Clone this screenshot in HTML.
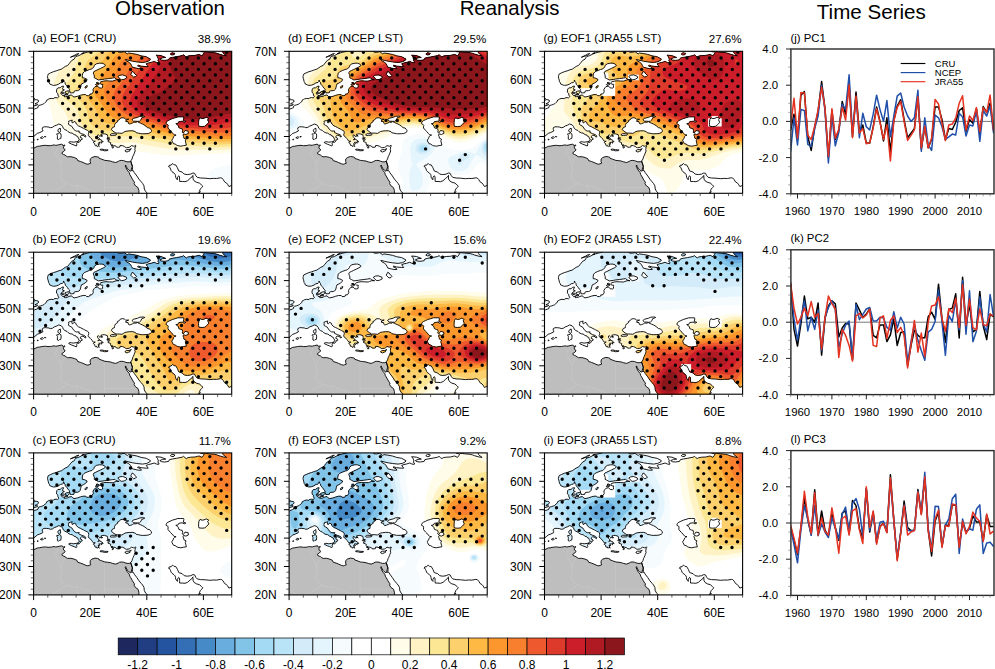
<!DOCTYPE html>
<html><head><meta charset="utf-8"><style>html,body{margin:0;padding:0;background:#fff}svg{display:block}text{font-family:"Liberation Sans",sans-serif;fill:#000}</style></head><body>
<svg width="995" height="669" viewBox="0 0 995 669">
<rect width="995" height="669" fill="#fff"/>
<defs>
<clipPath id="frame"><rect x="0" y="0" width="198.1" height="142.0"/></clipPath>
<clipPath id="land"><path clip-rule="evenodd" d="M-17.0,96.6 -15.0,96.3 -12.5,94.6 -6.8,94.3 -5.9,94.4 -4.5,92.6 -2.7,92.0 -2.0,91.9 -1.3,89.9 0.7,88.8 -0.8,86.8 0.0,85.3 2.4,83.2 3.7,82.1 6.2,81.2 9.1,79.8 9.3,78.7 8.6,78.1 8.8,76.4 10.5,75.5 12.7,75.5 15.3,75.8 16.7,76.4 18.7,76.1 20.7,74.7 23.2,73.8 25.2,72.7 27.7,73.6 29.1,75.3 29.7,77.0 31.4,78.4 33.4,79.2 34.5,80.4 36.8,81.6 38.5,81.8 40.2,82.9 40.6,83.5 41.9,83.4 42.5,84.6 44.1,85.1 44.7,86.6 45.6,88.0 45.8,88.8 44.9,89.0 44.3,90.3 44.4,91.0 45.6,91.0 46.8,89.7 47.0,88.6 48.7,88.0 48.4,86.9 46.7,86.1 47.0,84.9 48.1,83.8 50.7,84.5 50.9,85.3 51.9,85.8 52.4,84.8 50.9,83.4 48.1,82.4 45.3,81.1 45.0,80.7 45.8,79.8 44.1,79.7 42.7,79.8 41.6,79.2 40.2,78.1 39.3,76.7 38.2,75.0 36.5,74.1 35.1,73.3 34.8,71.6 35.4,71.0 34.8,70.1 37.1,69.2 38.8,68.9 38.2,69.6 38.5,71.4 39.3,71.6 40.5,70.1 42.2,71.0 42.7,72.7 45.0,74.7 46.6,75.3 48.4,76.3 49.8,77.0 51.2,77.7 52.4,78.4 54.1,79.2 54.9,79.9 55.2,81.5 54.9,82.6 54.6,83.5 55.0,83.9 54.6,84.3 56.3,85.5 56.6,86.1 57.3,86.9 58.6,88.0 58.7,88.5 59.7,89.9 61.7,89.9 60.3,90.5 59.7,91.4 61.0,92.2 61.4,94.1 62.0,94.4 62.7,93.9 63.3,95.1 63.7,95.4 64.5,94.3 65.7,95.3 65.2,94.3 64.5,92.3 65.7,92.9 66.5,92.4 65.1,91.2 66.8,90.9 68.1,91.9 67.9,90.3 69.6,90.6 68.5,89.2 66.2,88.0 64.2,88.6 64.8,88.0 65.4,87.2 65.9,87.5 64.8,86.3 64.0,85.2 64.0,83.8 64.8,83.5 65.9,84.5 66.2,85.3 67.1,84.5 67.9,85.2 67.6,84.1 69.1,84.8 67.6,83.6 67.2,83.1 69.1,82.6 70.8,82.5 73.7,83.4 74.1,85.1 74.1,85.3 73.9,86.6 76.1,86.5 75.6,87.2 76.1,88.3 75.8,88.9 74.4,89.2 74.4,90.3 76.4,91.0 77.1,91.3 77.0,92.7 77.5,93.7 79.2,93.7 77.5,94.6 79.5,94.6 80.1,94.3 81.8,94.6 82.4,94.9 82.9,95.8 84.9,96.0 86.3,95.7 86.6,94.1 88.9,94.4 90.6,95.1 92.3,96.3 93.0,96.4 95.4,96.1 96.2,95.7 97.9,94.3 99.9,94.9 100.7,94.9 101.9,94.0 102.4,94.9 101.3,95.7 101.6,96.8 101.2,98.0 101.6,99.7 100.7,101.7 100.5,102.5 99.6,104.5 99.0,105.6 98.5,107.6 97.6,109.1 97.1,109.8 98.8,115.0 99.0,116.4 98.8,118.4 97.9,119.4 99.6,119.3 100.7,121.3 103.3,124.7 105.3,127.8 107.5,130.4 109.0,132.1 110.4,134.6 110.7,137.7 112.1,140.3 114.0,142.0 116.0,144.6 118.9,150.5 124.5,164.7 147.2,156.2 156.2,149.1 163.6,144.8 165.0,142.0 165.8,140.0 166.7,137.7 168.1,136.3 169.2,134.9 167.8,133.5 165.8,131.8 162.7,130.9 160.5,129.5 159.5,127.8 159.3,124.4 159.6,124.0 158.8,124.7 158.5,125.5 156.5,127.1 154.0,129.4 151.4,130.4 148.9,130.2 146.0,130.1 146.0,128.9 146.0,127.8 145.9,125.2 145.0,124.5 143.8,126.4 143.8,128.5 143.1,127.8 142.1,126.1 141.9,124.4 141.5,123.0 140.4,121.8 138.4,120.4 137.5,119.3 137.0,117.7 136.3,116.4 135.7,115.3 135.0,115.4 135.8,113.9 137.5,113.9 138.4,112.6 139.2,112.3 140.4,113.5 142.1,113.6 143.8,116.4 145.2,119.7 148.6,120.8 150.6,122.8 153.7,123.3 157.1,122.8 159.3,121.7 161.0,122.0 162.2,124.4 163.6,126.0 167.0,126.7 171.5,126.9 176.3,127.4 179.7,127.1 182.8,127.2 186.8,126.5 188.2,126.7 189.6,128.2 191.0,130.6 193.0,131.8 193.9,132.9 195.3,135.2 198.9,133.8 200.9,139.2 215.1,139.2 215.1,-17.0 189.3,-17.0 189.0,-0.9 189.3,1.4 191.0,3.1 193.0,4.5 189.6,4.0 185.4,2.8 183.4,2.0 181.1,1.4 175.5,0.9 171.8,0.4 170.4,1.1 169.8,2.6 168.4,4.5 165.6,3.1 164.1,3.4 161.3,4.1 157.1,4.3 154.2,4.8 152.8,5.7 151.4,4.8 150.0,3.4 148.6,4.3 142.9,5.4 138.7,6.1 135.8,6.8 135.0,8.5 131.0,9.1 127.9,8.8 126.2,7.7 129.0,6.5 132.2,6.2 127.4,4.3 122.5,3.8 124.0,5.7 124.8,8.0 124.2,9.4 125.4,10.1 125.1,11.5 122.8,11.1 120.6,10.1 117.4,11.1 114.9,11.6 112.6,12.5 113.8,14.2 114.6,15.3 112.6,15.3 107.5,14.8 104.7,13.9 103.9,14.5 107.0,15.9 107.8,17.3 104.7,17.3 102.4,16.8 98.8,15.9 97.9,14.2 97.1,12.5 95.1,10.8 92.5,9.4 91.7,8.1 95.4,9.1 99.0,9.9 103.3,10.6 109.0,11.2 113.2,10.5 116.0,9.1 116.9,7.8 112.6,5.4 107.5,4.5 103.3,3.1 99.0,2.3 94.8,1.7 93.7,2.6 90.6,0.4 87.7,1.0 84.9,0.9 84.1,0.1 84.1,-1.7 59.4,-1.7 58.0,0.0 53.8,0.9 50.9,1.7 48.1,2.8 45.3,4.3 42.5,5.1 41.0,6.8 40.8,7.7 38.2,9.1 36.8,10.8 35.4,12.5 34.0,14.2 31.7,15.1 29.7,16.5 27.7,17.9 25.5,18.5 22.6,19.6 19.8,20.4 17.0,21.6 14.7,22.7 14.2,24.1 13.9,25.6 14.2,27.0 14.7,28.7 15.0,30.4 15.8,31.5 16.1,32.7 18.7,33.8 19.8,34.1 22.6,33.8 24.9,32.9 26.9,31.5 28.9,31.2 29.7,30.4 30.0,28.8 30.6,30.4 31.4,31.2 31.7,32.9 33.1,34.4 33.7,35.2 34.8,36.9 36.2,38.1 35.7,39.0 36.5,40.6 36.8,41.0 36.5,41.5 37.9,41.6 40.2,41.5 40.5,40.0 41.6,39.5 44.1,39.3 45.3,38.9 46.4,37.8 47.0,35.8 47.3,34.4 47.8,32.7 49.8,31.8 51.5,30.7 53.2,29.3 53.5,28.1 50.7,26.7 48.7,26.4 48.7,24.1 49.2,21.9 50.7,20.4 53.2,19.3 56.0,18.2 58.3,17.6 60.3,15.6 60.6,14.2 62.8,12.5 65.9,11.9 68.5,11.9 70.8,12.8 71.9,14.2 69.9,15.6 67.1,17.0 64.5,18.2 62.3,19.3 60.3,20.2 59.7,21.6 60.3,23.3 60.8,24.7 60.6,26.4 62.3,27.3 64.8,28.7 69.3,28.1 70.8,27.8 75.0,27.3 78.7,26.8 81.2,26.4 82.6,27.8 84.9,28.4 85.5,28.5 82.6,28.5 80.4,29.3 79.2,29.8 75.8,29.7 72.4,29.5 69.9,29.8 67.4,30.4 66.5,31.2 66.5,32.1 67.4,32.9 69.3,33.1 68.9,34.4 69.1,36.1 67.9,36.8 65.7,36.6 64.0,34.8 61.4,35.4 60.6,36.4 59.4,38.1 59.6,39.8 59.7,40.6 58.3,42.6 56.3,42.7 56.3,43.7 54.9,44.4 52.9,44.3 52.1,43.3 49.5,43.3 46.7,44.0 43.9,45.0 40.5,45.7 39.1,45.0 37.9,43.6 35.4,44.2 34.0,45.0 31.7,45.4 30.6,45.4 31.4,44.3 28.9,44.2 28.0,43.2 27.2,42.0 27.7,41.0 28.9,39.5 30.8,38.6 29.1,38.1 29.1,36.9 29.9,35.5 30.0,34.8 28.0,35.2 26.6,36.5 24.3,36.6 23.2,37.8 22.9,39.8 22.9,41.0 24.3,42.3 24.3,43.7 25.2,45.2 24.9,45.9 24.1,46.6 22.6,46.3 20.4,46.6 19.8,47.4 17.5,47.1 15.3,47.6 14.2,48.3 13.3,48.6 12.7,50.3 11.6,51.1 10.2,52.5 9.1,53.0 7.1,53.7 5.4,54.1 4.5,54.8 4.5,56.2 3.1,56.9 0.8,57.7 0.3,58.2 -0.8,58.8 -3.4,58.6 -3.7,57.7 -17.0,59.6ZM82.4,81.8 79.2,79.8 77.8,78.1 79.0,76.1 80.9,75.5 80.9,74.4 81.1,73.3 82.1,71.6 84.1,70.4 83.8,69.3 85.5,68.6 87.0,66.7 89.1,66.5 90.6,66.7 92.0,67.9 93.4,67.9 95.1,67.9 92.8,68.7 92.0,70.0 94.5,70.4 94.8,72.1 95.5,72.7 97.1,72.4 99.0,71.6 100.2,70.9 103.0,70.9 103.6,70.0 101.9,69.9 99.9,69.9 98.6,68.6 99.0,67.6 100.2,67.0 104.1,66.0 106.3,65.0 110.1,64.8 111.2,65.2 109.2,66.2 108.4,66.2 107.5,68.0 106.7,69.2 105.8,70.1 104.1,69.9 103.9,70.4 104.4,70.7 105.6,71.3 107.0,71.9 109.0,72.8 110.5,73.6 112.4,75.0 114.0,76.4 116.0,76.7 117.4,78.4 117.9,79.1 117.7,80.5 116.9,81.2 114.6,82.2 112.4,82.4 108.7,82.5 107.3,82.4 104.7,81.8 102.7,81.5 101.9,80.4 99.3,79.5 96.2,79.5 93.4,79.8 91.4,80.2 90.0,81.1 88.3,82.1 85.7,81.8 83.8,81.8ZM76.4,83.5 78.1,82.4 80.9,82.4 83.2,82.9 82.1,83.9 79.2,84.1 77.5,84.2ZM134.4,69.3 136.4,68.4 138.7,67.3 141.5,66.5 144.3,65.6 146.9,65.6 150.0,65.6 150.3,66.7 149.7,69.3 152.3,70.1 150.6,71.0 148.6,69.9 145.2,70.4 144.3,72.1 142.2,72.4 143.8,73.3 144.9,74.8 145.2,76.4 147.2,77.2 148.6,77.5 149.1,79.5 148.6,80.9 149.7,81.8 151.4,79.2 154.5,79.8 154.8,82.1 152.3,83.2 150.0,82.6 149.4,83.8 150.0,85.2 150.3,86.9 152.5,88.0 151.7,89.5 152.5,92.7 152.8,93.9 150.0,94.3 147.2,94.9 144.3,94.4 143.3,94.0 141.5,92.7 139.9,92.4 138.4,89.7 138.2,88.8 139.5,87.0 140.1,85.2 141.2,84.2 142.5,83.8 140.5,83.5 139.2,82.1 137.5,80.1 136.7,79.4 134.4,76.7 134.4,75.0 134.7,74.1 134.1,73.3 132.4,72.4 132.4,71.9 133.0,70.4ZM165.3,68.4 165.0,71.0 165.0,73.3 165.3,75.0 168.4,75.3 171.2,75.0 173.2,73.3 175.2,71.0 174.0,68.4 175.2,67.3 172.6,66.0 170.4,67.0 168.4,67.3 166.4,66.5ZM87.7,28.5 90.6,28.0 93.1,26.7 92.8,25.0 89.1,23.6 86.3,23.9 84.3,25.0 85.5,26.7ZM99.9,25.8 101.9,25.3 103.0,24.1 101.3,22.7 99.9,20.7 98.5,20.2 97.9,21.6 97.1,23.0 98.8,24.7ZM-8.5,55.4 0.0,54.7 2.8,54.1 4.0,53.5 4.1,52.9 2.5,52.8 1.4,52.6 2.7,51.8 3.7,51.4 4.5,50.8 5.0,49.7 4.5,48.8 2.8,48.4 1.4,48.4 0.8,48.8 0.1,48.6 1.0,47.7 0.3,46.7 -0.3,46.3 -8.5,45.4ZM26.6,76.7 27.0,79.0 26.6,80.7 26.0,81.3 24.9,80.8 24.3,79.5 24.3,78.4 25.5,77.5 26.5,77.0ZM26.0,81.6 27.3,82.6 27.6,84.6 27.2,87.2 25.8,87.5 25.0,88.3 23.8,87.8 23.8,85.5 23.9,84.3 23.1,83.2 23.2,82.5 24.6,82.6ZM44.3,90.2 43.0,92.3 43.3,93.6 42.7,94.7 40.5,93.7 38.2,92.9 35.2,91.4 35.4,90.7 36.1,90.5 37.8,90.5 39.6,90.9 42.5,90.5ZM66.6,98.0 68.2,97.8 71.0,98.4 72.9,98.5 74.4,98.5 74.1,99.3 70.8,99.5 69.1,99.0 66.6,98.7ZM91.4,99.3 93.1,98.3 95.4,98.3 97.8,97.4 96.1,98.7 96.4,99.5 95.1,100.0 93.4,100.7 91.7,100.1ZM51.5,36.9 53.2,36.1 53.8,34.4 52.6,34.5 51.4,35.8ZM31.4,40.6 33.1,39.9 35.1,39.5 35.7,40.6 34.8,42.0 34.0,42.7 32.3,42.0 31.4,41.6ZM27.7,41.2 29.7,40.9 30.7,41.7 30.0,42.5 28.3,42.3ZM31.1,43.2 33.7,42.7 34.5,43.3 32.8,43.7ZM61.8,33.2 63.7,32.2 65.9,32.5 64.8,33.4 62.5,34.1ZM62.5,31.5 64.0,31.1 65.1,31.7 63.7,32.1ZM78.4,96.1 79.8,95.3 79.9,96.3 78.7,96.8ZM73.2,87.5 74.7,86.9 75.3,87.9 73.6,88.0ZM6.7,86.5 8.8,85.3 9.8,86.1 8.8,87.2 7.4,86.8ZM10.8,85.2 12.2,85.3 11.9,85.7 10.9,85.5ZM3.4,88.2 4.5,87.8 4.5,88.5 3.7,88.5ZM136.7,2.8 138.4,1.4 141.2,2.0 140.4,3.4 138.1,3.7ZM36.8,6.0 39.6,5.0 42.5,4.4 44.1,3.1 45.3,2.3 43.0,2.8 41.0,4.0 38.2,5.3ZM48.1,2.3 50.7,1.3 49.5,2.0ZM167.0,0.3 168.4,-1.1 170.6,-0.6 169.8,0.6ZM165.8,141.4 166.7,140.3 166.4,141.1Z"/></clipPath>
<g id="coast"><path d="M97.1,109.8 95.7,110.5 93.4,110.5 91.4,109.9 90.0,109.3 87.7,109.1 86.0,109.3 84.6,110.2 82.1,111.2 79.2,110.6 77.0,109.8 73.6,109.3 71.3,109.1 67.9,107.8 65.7,107.1 65.4,106.1 64.1,105.6 61.4,105.2 58.3,106.2 56.7,107.6 56.5,110.2 57.2,111.9 55.5,112.5 54.3,112.9 52.6,112.6 49.5,111.2 47.0,110.2 44.1,109.3 43.3,107.4 40.5,106.2 37.4,105.4 34.0,105.5 32.5,104.7 31.4,103.7 30.0,103.2 28.6,102.5 28.3,101.4 30.3,100.1 31.4,98.8 31.1,97.7 30.0,97.1 29.7,95.6 31.4,94.1 31.1,93.6 29.4,94.4 29.1,94.1 28.9,93.2 27.9,92.9 25.5,93.4 23.5,93.9 21.9,94.0 20.4,93.6 18.7,94.0 17.0,94.3 14.4,94.4 11.9,94.0 8.6,94.3 5.7,94.9 3.7,95.1 0.3,96.8 -1.7,97.4 -17.0,98.0 -17.0,164.7 118.9,164.7 107.5,156.2 106.1,146.3 105.3,142.0 105.3,139.2 104.4,136.3 101.9,134.6 100.5,132.3 101.0,130.9 100.5,130.6 98.8,127.8 97.1,124.7 96.2,123.3 95.7,121.4 94.2,119.6 93.1,118.1 92.4,116.4 91.6,114.7 92.1,113.7 92.5,115.0 94.0,117.6 95.1,118.7 96.9,120.0 97.5,119.0 98.1,116.7 98.8,115.0Z" fill="#bebebe" stroke="none"/><use href="#bord"/><path d="M-17.0,96.6 -15.0,96.3 -12.5,94.6 -6.8,94.3 -5.9,94.4 -4.5,92.6 -2.7,92.0 -2.0,91.9 -1.3,89.9 0.7,88.8 -0.8,86.8 0.0,85.3 2.4,83.2 3.7,82.1 6.2,81.2 9.1,79.8 9.3,78.7 8.6,78.1 8.8,76.4 10.5,75.5 12.7,75.5 15.3,75.8 16.7,76.4 18.7,76.1 20.7,74.7 23.2,73.8 25.2,72.7 27.7,73.6 29.1,75.3 29.7,77.0 31.4,78.4 33.4,79.2 34.5,80.4 36.8,81.6 38.5,81.8 40.2,82.9 40.6,83.5 41.9,83.4 42.5,84.6 44.1,85.1 44.7,86.6 45.6,88.0 45.8,88.8 44.9,89.0 44.3,90.3 44.4,91.0 45.6,91.0 46.8,89.7 47.0,88.6 48.7,88.0 48.4,86.9 46.7,86.1 47.0,84.9 48.1,83.8 50.7,84.5 50.9,85.3 51.9,85.8 52.4,84.8 50.9,83.4 48.1,82.4 45.3,81.1 45.0,80.7 45.8,79.8 44.1,79.7 42.7,79.8 41.6,79.2 40.2,78.1 39.3,76.7 38.2,75.0 36.5,74.1 35.1,73.3 34.8,71.6 35.4,71.0 34.8,70.1 37.1,69.2 38.8,68.9 38.2,69.6 38.5,71.4 39.3,71.6 40.5,70.1 42.2,71.0 42.7,72.7 45.0,74.7 46.6,75.3 48.4,76.3 49.8,77.0 51.2,77.7 52.4,78.4 54.1,79.2 54.9,79.9 55.2,81.5 54.9,82.6 54.6,83.5 55.0,83.9 54.6,84.3 56.3,85.5 56.6,86.1 57.3,86.9 58.6,88.0 58.7,88.5 59.7,89.9 61.7,89.9 60.3,90.5 59.7,91.4 61.0,92.2 61.4,94.1 62.0,94.4 62.7,93.9 63.3,95.1 63.7,95.4 64.5,94.3 65.7,95.3 65.2,94.3 64.5,92.3 65.7,92.9 66.5,92.4 65.1,91.2 66.8,90.9 68.1,91.9 67.9,90.3 69.6,90.6 68.5,89.2 66.2,88.0 64.2,88.6 64.8,88.0 65.4,87.2 65.9,87.5 64.8,86.3 64.0,85.2 64.0,83.8 64.8,83.5 65.9,84.5 66.2,85.3 67.1,84.5 67.9,85.2 67.6,84.1 69.1,84.8 67.6,83.6 67.2,83.1 69.1,82.6 70.8,82.5 73.7,83.4 74.1,85.1 74.1,85.3 73.9,86.6 76.1,86.5 75.6,87.2 76.1,88.3 75.8,88.9 74.4,89.2 74.4,90.3 76.4,91.0 77.1,91.3 77.0,92.7 77.5,93.7 79.2,93.7 77.5,94.6 79.5,94.6 80.1,94.3 81.8,94.6 82.4,94.9 82.9,95.8 84.9,96.0 86.3,95.7 86.6,94.1 88.9,94.4 90.6,95.1 92.3,96.3 93.0,96.4 95.4,96.1 96.2,95.7 97.9,94.3 99.9,94.9 100.7,94.9 101.9,94.0 102.4,94.9 101.3,95.7 101.6,96.8 101.2,98.0 101.6,99.7 100.7,101.7 100.5,102.5 99.6,104.5 99.0,105.6 98.5,107.6 97.6,109.1 97.1,109.8 98.8,115.0 99.0,116.4 98.8,118.4 97.9,119.4 99.6,119.3 100.7,121.3 103.3,124.7 105.3,127.8 107.5,130.4 109.0,132.1 110.4,134.6 110.7,137.7 112.1,140.3 114.0,142.0 116.0,144.6 118.9,150.5 124.5,164.7 147.2,156.2 156.2,149.1 163.6,144.8 165.0,142.0 165.8,140.0 166.7,137.7 168.1,136.3 169.2,134.9 167.8,133.5 165.8,131.8 162.7,130.9 160.5,129.5 159.5,127.8 159.3,124.4 159.6,124.0 158.8,124.7 158.5,125.5 156.5,127.1 154.0,129.4 151.4,130.4 148.9,130.2 146.0,130.1 146.0,128.9 146.0,127.8 145.9,125.2 145.0,124.5 143.8,126.4 143.8,128.5 143.1,127.8 142.1,126.1 141.9,124.4 141.5,123.0 140.4,121.8 138.4,120.4 137.5,119.3 137.0,117.7 136.3,116.4 135.7,115.3 135.0,115.4 135.8,113.9 137.5,113.9 138.4,112.6 139.2,112.3 140.4,113.5 142.1,113.6 143.8,116.4 145.2,119.7 148.6,120.8 150.6,122.8 153.7,123.3 157.1,122.8 159.3,121.7 161.0,122.0 162.2,124.4 163.6,126.0 167.0,126.7 171.5,126.9 176.3,127.4 179.7,127.1 182.8,127.2 186.8,126.5 188.2,126.7 189.6,128.2 191.0,130.6 193.0,131.8 193.9,132.9 195.3,135.2 198.9,133.8 200.9,139.2 215.1,139.2 215.1,-17.0 189.3,-17.0 189.0,-0.9 189.3,1.4 191.0,3.1 193.0,4.5 189.6,4.0 185.4,2.8 183.4,2.0 181.1,1.4 175.5,0.9 171.8,0.4 170.4,1.1 169.8,2.6 168.4,4.5 165.6,3.1 164.1,3.4 161.3,4.1 157.1,4.3 154.2,4.8 152.8,5.7 151.4,4.8 150.0,3.4 148.6,4.3 142.9,5.4 138.7,6.1 135.8,6.8 135.0,8.5 131.0,9.1 127.9,8.8 126.2,7.7 129.0,6.5 132.2,6.2 127.4,4.3 122.5,3.8 124.0,5.7 124.8,8.0 124.2,9.4 125.4,10.1 125.1,11.5 122.8,11.1 120.6,10.1 117.4,11.1 114.9,11.6 112.6,12.5 113.8,14.2 114.6,15.3 112.6,15.3 107.5,14.8 104.7,13.9 103.9,14.5 107.0,15.9 107.8,17.3 104.7,17.3 102.4,16.8 98.8,15.9 97.9,14.2 97.1,12.5 95.1,10.8 92.5,9.4 91.7,8.1 95.4,9.1 99.0,9.9 103.3,10.6 109.0,11.2 113.2,10.5 116.0,9.1 116.9,7.8 112.6,5.4 107.5,4.5 103.3,3.1 99.0,2.3 94.8,1.7 93.7,2.6 90.6,0.4 87.7,1.0 84.9,0.9 84.1,0.1 84.1,-1.7 59.4,-1.7 58.0,0.0 53.8,0.9 50.9,1.7 48.1,2.8 45.3,4.3 42.5,5.1 41.0,6.8 40.8,7.7 38.2,9.1 36.8,10.8 35.4,12.5 34.0,14.2 31.7,15.1 29.7,16.5 27.7,17.9 25.5,18.5 22.6,19.6 19.8,20.4 17.0,21.6 14.7,22.7 14.2,24.1 13.9,25.6 14.2,27.0 14.7,28.7 15.0,30.4 15.8,31.5 16.1,32.7 18.7,33.8 19.8,34.1 22.6,33.8 24.9,32.9 26.9,31.5 28.9,31.2 29.7,30.4 30.0,28.8 30.6,30.4 31.4,31.2 31.7,32.9 33.1,34.4 33.7,35.2 34.8,36.9 36.2,38.1 35.7,39.0 36.5,40.6 36.8,41.0 36.5,41.5 37.9,41.6 40.2,41.5 40.5,40.0 41.6,39.5 44.1,39.3 45.3,38.9 46.4,37.8 47.0,35.8 47.3,34.4 47.8,32.7 49.8,31.8 51.5,30.7 53.2,29.3 53.5,28.1 50.7,26.7 48.7,26.4 48.7,24.1 49.2,21.9 50.7,20.4 53.2,19.3 56.0,18.2 58.3,17.6 60.3,15.6 60.6,14.2 62.8,12.5 65.9,11.9 68.5,11.9 70.8,12.8 71.9,14.2 69.9,15.6 67.1,17.0 64.5,18.2 62.3,19.3 60.3,20.2 59.7,21.6 60.3,23.3 60.8,24.7 60.6,26.4 62.3,27.3 64.8,28.7 69.3,28.1 70.8,27.8 75.0,27.3 78.7,26.8 81.2,26.4 82.6,27.8 84.9,28.4 85.5,28.5 82.6,28.5 80.4,29.3 79.2,29.8 75.8,29.7 72.4,29.5 69.9,29.8 67.4,30.4 66.5,31.2 66.5,32.1 67.4,32.9 69.3,33.1 68.9,34.4 69.1,36.1 67.9,36.8 65.7,36.6 64.0,34.8 61.4,35.4 60.6,36.4 59.4,38.1 59.6,39.8 59.7,40.6 58.3,42.6 56.3,42.7 56.3,43.7 54.9,44.4 52.9,44.3 52.1,43.3 49.5,43.3 46.7,44.0 43.9,45.0 40.5,45.7 39.1,45.0 37.9,43.6 35.4,44.2 34.0,45.0 31.7,45.4 30.6,45.4 31.4,44.3 28.9,44.2 28.0,43.2 27.2,42.0 27.7,41.0 28.9,39.5 30.8,38.6 29.1,38.1 29.1,36.9 29.9,35.5 30.0,34.8 28.0,35.2 26.6,36.5 24.3,36.6 23.2,37.8 22.9,39.8 22.9,41.0 24.3,42.3 24.3,43.7 25.2,45.2 24.9,45.9 24.1,46.6 22.6,46.3 20.4,46.6 19.8,47.4 17.5,47.1 15.3,47.6 14.2,48.3 13.3,48.6 12.7,50.3 11.6,51.1 10.2,52.5 9.1,53.0 7.1,53.7 5.4,54.1 4.5,54.8 4.5,56.2 3.1,56.9 0.8,57.7 0.3,58.2 -0.8,58.8 -3.4,58.6 -3.7,57.7 -17.0,59.6ZM82.4,81.8 79.2,79.8 77.8,78.1 79.0,76.1 80.9,75.5 80.9,74.4 81.1,73.3 82.1,71.6 84.1,70.4 83.8,69.3 85.5,68.6 87.0,66.7 89.1,66.5 90.6,66.7 92.0,67.9 93.4,67.9 95.1,67.9 92.8,68.7 92.0,70.0 94.5,70.4 94.8,72.1 95.5,72.7 97.1,72.4 99.0,71.6 100.2,70.9 103.0,70.9 103.6,70.0 101.9,69.9 99.9,69.9 98.6,68.6 99.0,67.6 100.2,67.0 104.1,66.0 106.3,65.0 110.1,64.8 111.2,65.2 109.2,66.2 108.4,66.2 107.5,68.0 106.7,69.2 105.8,70.1 104.1,69.9 103.9,70.4 104.4,70.7 105.6,71.3 107.0,71.9 109.0,72.8 110.5,73.6 112.4,75.0 114.0,76.4 116.0,76.7 117.4,78.4 117.9,79.1 117.7,80.5 116.9,81.2 114.6,82.2 112.4,82.4 108.7,82.5 107.3,82.4 104.7,81.8 102.7,81.5 101.9,80.4 99.3,79.5 96.2,79.5 93.4,79.8 91.4,80.2 90.0,81.1 88.3,82.1 85.7,81.8 83.8,81.8ZM76.4,83.5 78.1,82.4 80.9,82.4 83.2,82.9 82.1,83.9 79.2,84.1 77.5,84.2ZM134.4,69.3 136.4,68.4 138.7,67.3 141.5,66.5 144.3,65.6 146.9,65.6 150.0,65.6 150.3,66.7 149.7,69.3 152.3,70.1 150.6,71.0 148.6,69.9 145.2,70.4 144.3,72.1 142.2,72.4 143.8,73.3 144.9,74.8 145.2,76.4 147.2,77.2 148.6,77.5 149.1,79.5 148.6,80.9 149.7,81.8 151.4,79.2 154.5,79.8 154.8,82.1 152.3,83.2 150.0,82.6 149.4,83.8 150.0,85.2 150.3,86.9 152.5,88.0 151.7,89.5 152.5,92.7 152.8,93.9 150.0,94.3 147.2,94.9 144.3,94.4 143.3,94.0 141.5,92.7 139.9,92.4 138.4,89.7 138.2,88.8 139.5,87.0 140.1,85.2 141.2,84.2 142.5,83.8 140.5,83.5 139.2,82.1 137.5,80.1 136.7,79.4 134.4,76.7 134.4,75.0 134.7,74.1 134.1,73.3 132.4,72.4 132.4,71.9 133.0,70.4ZM165.3,68.4 165.0,71.0 165.0,73.3 165.3,75.0 168.4,75.3 171.2,75.0 173.2,73.3 175.2,71.0 174.0,68.4 175.2,67.3 172.6,66.0 170.4,67.0 168.4,67.3 166.4,66.5ZM87.7,28.5 90.6,28.0 93.1,26.7 92.8,25.0 89.1,23.6 86.3,23.9 84.3,25.0 85.5,26.7ZM99.9,25.8 101.9,25.3 103.0,24.1 101.3,22.7 99.9,20.7 98.5,20.2 97.9,21.6 97.1,23.0 98.8,24.7ZM-8.5,55.4 0.0,54.7 2.8,54.1 4.0,53.5 4.1,52.9 2.5,52.8 1.4,52.6 2.7,51.8 3.7,51.4 4.5,50.8 5.0,49.7 4.5,48.8 2.8,48.4 1.4,48.4 0.8,48.8 0.1,48.6 1.0,47.7 0.3,46.7 -0.3,46.3 -8.5,45.4ZM26.6,76.7 27.0,79.0 26.6,80.7 26.0,81.3 24.9,80.8 24.3,79.5 24.3,78.4 25.5,77.5 26.5,77.0ZM26.0,81.6 27.3,82.6 27.6,84.6 27.2,87.2 25.8,87.5 25.0,88.3 23.8,87.8 23.8,85.5 23.9,84.3 23.1,83.2 23.2,82.5 24.6,82.6ZM44.3,90.2 43.0,92.3 43.3,93.6 42.7,94.7 40.5,93.7 38.2,92.9 35.2,91.4 35.4,90.7 36.1,90.5 37.8,90.5 39.6,90.9 42.5,90.5ZM66.6,98.0 68.2,97.8 71.0,98.4 72.9,98.5 74.4,98.5 74.1,99.3 70.8,99.5 69.1,99.0 66.6,98.7ZM91.4,99.3 93.1,98.3 95.4,98.3 97.8,97.4 96.1,98.7 96.4,99.5 95.1,100.0 93.4,100.7 91.7,100.1ZM51.5,36.9 53.2,36.1 53.8,34.4 52.6,34.5 51.4,35.8ZM31.4,40.6 33.1,39.9 35.1,39.5 35.7,40.6 34.8,42.0 34.0,42.7 32.3,42.0 31.4,41.6ZM27.7,41.2 29.7,40.9 30.7,41.7 30.0,42.5 28.3,42.3ZM31.1,43.2 33.7,42.7 34.5,43.3 32.8,43.7ZM61.8,33.2 63.7,32.2 65.9,32.5 64.8,33.4 62.5,34.1ZM62.5,31.5 64.0,31.1 65.1,31.7 63.7,32.1ZM78.4,96.1 79.8,95.3 79.9,96.3 78.7,96.8ZM73.2,87.5 74.7,86.9 75.3,87.9 73.6,88.0ZM6.7,86.5 8.8,85.3 9.8,86.1 8.8,87.2 7.4,86.8ZM10.8,85.2 12.2,85.3 11.9,85.7 10.9,85.5ZM3.4,88.2 4.5,87.8 4.5,88.5 3.7,88.5ZM136.7,2.8 138.4,1.4 141.2,2.0 140.4,3.4 138.1,3.7ZM36.8,6.0 39.6,5.0 42.5,4.4 44.1,3.1 45.3,2.3 43.0,2.8 41.0,4.0 38.2,5.3ZM48.1,2.3 50.7,1.3 49.5,2.0ZM167.0,0.3 168.4,-1.1 170.6,-0.6 169.8,0.6ZM165.8,141.4 166.7,140.3 166.4,141.1ZM97.1,109.8 95.7,110.5 93.4,110.5 91.4,109.9 90.0,109.3 87.7,109.1 86.0,109.3 84.6,110.2 82.1,111.2 79.2,110.6 77.0,109.8 73.6,109.3 71.3,109.1 67.9,107.8 65.7,107.1 65.4,106.1 64.1,105.6 61.4,105.2 58.3,106.2 56.7,107.6 56.5,110.2 57.2,111.9 55.5,112.5 54.3,112.9 52.6,112.6 49.5,111.2 47.0,110.2 44.1,109.3 43.3,107.4 40.5,106.2 37.4,105.4 34.0,105.5 32.5,104.7 31.4,103.7 30.0,103.2 28.6,102.5 28.3,101.4 30.3,100.1 31.4,98.8 31.1,97.7 30.0,97.1 29.7,95.6 31.4,94.1 31.1,93.6 29.4,94.4 29.1,94.1 28.9,93.2 27.9,92.9 25.5,93.4 23.5,93.9 21.9,94.0 20.4,93.6 18.7,94.0 17.0,94.3 14.4,94.4 11.9,94.0 8.6,94.3 5.7,94.9 3.7,95.1 0.3,96.8 -1.7,97.4 -17.0,98.0 -17.0,164.7 118.9,164.7 107.5,156.2 106.1,146.3 105.3,142.0 105.3,139.2 104.4,136.3 101.9,134.6 100.5,132.3 101.0,130.9 100.5,130.6 98.8,127.8 97.1,124.7 96.2,123.3 95.7,121.4 94.2,119.6 93.1,118.1 92.4,116.4 91.6,114.7 92.1,113.7 92.5,115.0 94.0,117.6 95.1,118.7 96.9,120.0 97.5,119.0 98.1,116.7 98.8,115.0Z" fill="none" stroke="#000" stroke-width="0.9" stroke-linejoin="round"/></g>
<g id="bord"><path d="M70.8,109.1 70.8,144.8" fill="none" stroke="#c9c9c9" stroke-width="0.6"/><path d="M70.8,136.3 104.4,136.3" fill="none" stroke="#c9c9c9" stroke-width="0.6"/><path d="M32.5,104.7 29.1,108.5 28.3,112.2 26.9,113.0" fill="none" stroke="#c9c9c9" stroke-width="0.6"/><path d="M24.3,94.0 23.5,98.0 21.2,102.2 25.5,107.9 26.9,113.0" fill="none" stroke="#c9c9c9" stroke-width="0.6"/><path d="M26.9,113.0 28.0,119.3 26.6,124.4 28.3,129.2 33.7,132.1" fill="none" stroke="#c9c9c9" stroke-width="0.6"/><path d="M33.7,132.1 40.2,134.6 42.5,133.5 67.9,143.4" fill="none" stroke="#c9c9c9" stroke-width="0.6"/><path d="M33.7,132.1 21.2,139.7 11.9,144.6" fill="none" stroke="#c9c9c9" stroke-width="0.6"/><path d="M9.1,142.6 3.4,138.9 -13.6,127.8" fill="none" stroke="#c9c9c9" stroke-width="0.6"/><path d="M42.5,133.5 43.9,139.2 45.0,142.0" fill="none" stroke="#c9c9c9" stroke-width="0.6"/><path d="M96.8,109.9 98.8,115.0" fill="none" stroke="#c9c9c9" stroke-width="0.6"/></g>
</defs>
<g transform="translate(33.6,51.3)">
<g clip-path="url(#frame)">
<g clip-path="url(#land)"><path fill="#fffcea" fill-rule="evenodd" d="M130.6,103.7 138.7,104.3 145.7,104.2 162.7,103.2 184.0,102.4 192.4,101.8 198.1,101.1 200.9,101.1 200.9,-2.8 0.0,-2.8 0.0,0.0 -2.8,0.0 -2.8,14.2 0.0,14.2 1.3,19.9 2.9,24.1 4.5,27.0 8.5,32.8 9.9,35.5 11.6,39.8 14.8,51.1 17.1,58.2 18.1,62.5 19.5,69.6 20.8,73.8 22.0,76.7 24.1,80.3 25.6,82.4 28.3,85.2 31.1,87.2 34.0,88.6 38.2,90.2 45.3,92.6 52.4,94.3 70.8,97.7 77.8,98.8 83.5,99.3 97.6,99.3 101.9,99.6Z"/><path fill="#fff3c6" fill-rule="evenodd" d="M138.0,98.0 145.7,98.5 159.9,98.5 181.1,98.8 189.6,98.6 198.1,97.9 200.9,97.9 200.9,-2.8 28.3,-2.8 28.3,0.0 29.2,2.8 29.6,5.7 29.4,9.9 28.7,12.8 27.7,15.6 26.4,18.5 22.6,25.2 20.8,29.8 20.1,32.7 19.8,35.5 19.8,39.8 20.2,42.6 21.2,46.2 22.9,49.7 25.5,53.5 29.5,58.2 31.6,61.1 33.1,63.9 35.5,69.6 37.0,72.4 40.3,76.7 44.4,80.9 48.1,84.1 52.4,86.8 56.6,88.5 62.3,89.8 70.8,91.1 79.2,91.7 84.9,91.7 94.8,90.9 99.0,91.0 103.3,91.7 116.0,94.5Z"/><path fill="#fbe794" fill-rule="evenodd" d="M170.7,95.1 179.7,95.6 186.8,95.8 200.9,95.2 200.9,-2.8 56.6,-2.8 56.6,0.0 49.2,2.8 47.1,4.3 45.8,5.7 44.9,7.1 43.7,9.9 41.2,18.5 39.6,22.7 38.2,25.3 37.0,27.0 31.1,33.5 29.7,35.5 28.4,38.3 28.1,41.2 28.3,42.6 28.8,44.0 29.6,45.4 30.7,46.9 32.5,48.6 39.6,53.8 42.5,56.8 43.9,59.3 44.5,61.1 46.4,68.2 48.0,72.4 49.5,74.9 50.9,76.7 52.4,78.3 55.2,80.7 58.0,82.3 60.8,83.4 63.7,84.2 67.9,84.9 76.4,85.4 92.0,84.9 97.6,85.1 103.3,86.0 113.2,88.6 118.9,89.8 138.7,93.2 147.2,93.9Z"/><path fill="#fdd06e" fill-rule="evenodd" d="M174.1,92.3 186.8,93.1 192.4,93.0 198.1,92.7 200.9,92.7 200.9,-2.8 66.2,-2.8 66.2,0.0 65.1,1.2 62.3,3.6 56.6,7.1 54.9,8.5 53.7,9.9 52.4,12.2 51.6,14.2 49.2,24.1 48.3,27.0 47.0,29.8 43.1,36.9 42.3,39.8 42.2,41.2 42.5,42.6 43.0,44.0 43.9,45.4 50.3,54.0 52.1,56.8 53.3,59.6 55.4,68.2 56.6,71.0 58.7,73.8 60.8,75.7 62.5,76.7 65.1,77.8 67.9,78.5 70.8,79.0 75.0,79.2 87.7,79.3 94.8,80.0 100.5,80.8 106.1,81.9 121.7,85.9 130.2,87.7 138.7,89.1 147.2,90.1Z"/><path fill="#feb945" fill-rule="evenodd" d="M174.6,89.5 182.5,90.2 188.2,90.5 200.9,90.1 200.9,-2.8 76.8,-2.8 76.8,0.0 75.1,1.4 73.8,2.8 69.3,9.0 63.7,14.3 62.3,15.8 60.8,17.7 59.4,20.5 56.6,28.4 52.9,36.9 52.2,39.8 52.2,42.6 52.6,44.0 54.0,46.9 56.0,49.7 59.4,54.0 61.5,56.8 62.9,59.6 65.1,65.2 65.9,66.7 66.9,68.2 67.9,69.2 69.3,70.2 72.2,71.5 75.0,72.2 84.9,73.6 107.5,78.1 125.9,83.1 137.3,85.5 145.7,86.6Z"/><path fill="#fc972d" fill-rule="evenodd" d="M174.7,86.6 182.5,87.4 188.2,87.8 192.4,87.8 200.9,87.5 200.9,-2.8 92.6,-2.8 92.6,0.0 84.9,2.8 82.5,4.3 80.7,5.9 78.7,8.5 75.0,15.3 73.6,17.6 67.9,24.6 65.1,29.0 63.2,32.7 62.0,35.5 61.1,38.3 60.9,39.8 61.2,42.6 62.4,45.4 68.9,54.0 73.4,61.1 75.9,63.9 77.9,65.3 80.7,66.8 84.1,68.2 92.5,71.0 99.0,72.8 113.2,75.8 127.4,80.0 134.4,81.9 140.1,83.0 144.3,83.6Z"/><path fill="#f77f2d" fill-rule="evenodd" d="M175.4,83.8 184.0,84.6 189.6,84.9 200.9,84.5 200.9,-2.8 104.4,-2.8 104.4,0.0 99.0,3.9 90.0,8.5 88.0,9.9 86.6,11.4 84.9,14.2 82.4,21.3 81.1,24.1 79.1,27.0 74.9,31.2 72.6,34.1 71.1,36.9 70.5,39.8 70.5,41.2 71.2,44.0 73.9,49.7 78.1,56.8 80.4,59.6 82.1,61.2 84.9,63.2 88.7,65.3 92.0,66.8 96.2,68.4 101.9,70.0 114.6,72.9 130.2,77.8 135.8,79.3 140.1,80.2 145.7,81.0Z"/><path fill="#ee5a2d" fill-rule="evenodd" d="M178.9,80.9 189.6,81.3 198.1,80.8 200.9,80.8 200.9,-2.8 113.2,-2.8 113.2,0.0 99.0,14.2 96.5,17.0 94.5,19.9 90.9,27.0 89.3,29.8 87.1,32.7 83.3,36.9 81.2,39.8 80.6,41.2 80.2,42.6 80.0,44.0 80.3,46.9 81.0,49.7 82.2,52.5 83.8,55.4 84.9,56.8 87.8,59.6 90.6,61.6 94.6,63.9 99.0,65.8 104.7,67.6 118.5,71.0 133.0,75.7 137.3,76.9 142.9,78.1 148.6,78.7Z"/><path fill="#de3a2b" fill-rule="evenodd" d="M155.9,76.7 169.8,77.4 179.7,77.5 186.8,77.2 198.1,76.1 200.9,76.1 200.9,-2.8 120.6,-2.8 120.6,0.0 111.0,11.4 105.6,18.5 101.7,24.1 95.5,34.1 91.5,39.8 89.7,42.6 88.6,45.4 88.3,48.3 88.8,51.1 90.0,54.0 92.0,56.8 93.5,58.2 97.3,61.1 99.9,62.5 103.1,63.9 106.1,65.0 121.7,69.2 134.4,73.4 138.7,74.6 145.7,75.9Z"/><path fill="#cb1e2a" fill-rule="evenodd" d="M153.6,73.8 165.6,74.3 174.0,74.2 182.5,73.3 196.7,71.1 200.9,71.0 200.9,-2.8 127.4,-2.8 127.4,0.0 124.5,4.7 121.7,9.0 115.7,17.0 111.8,22.7 98.2,44.0 97.0,46.9 96.4,49.7 96.7,52.5 97.2,54.0 98.0,55.4 99.1,56.8 100.5,58.2 102.4,59.6 104.8,61.1 108.0,62.5 111.8,63.8 124.5,67.3 138.7,71.8 141.5,72.5 145.7,73.2Z"/><path fill="#b01a22" fill-rule="evenodd" d="M155.7,71.0 165.6,71.2 172.6,70.8 179.7,69.7 193.9,67.0 198.1,66.5 200.9,66.5 200.9,-2.8 133.9,-2.8 133.9,0.0 132.9,1.4 131.4,4.3 127.4,14.2 124.5,19.6 116.4,32.7 114.2,35.5 107.5,42.9 104.8,46.9 103.7,49.7 103.5,51.1 103.5,52.5 103.9,54.0 104.6,55.4 105.7,56.8 107.3,58.2 110.4,60.0 114.6,61.6 141.5,69.4 147.2,70.4Z"/><path fill="#8b161b" fill-rule="evenodd" d="M145.9,66.7 151.4,67.4 157.1,67.7 162.7,67.7 168.4,67.4 175.5,66.4 192.4,62.7 198.1,62.1 200.9,62.1 200.9,-2.8 141.5,-2.8 141.5,0.0 139.9,1.4 138.7,2.8 137.3,5.7 136.6,8.5 136.4,11.4 136.5,14.2 137.3,17.6 138.2,19.9 141.3,25.6 141.6,27.0 141.5,28.4 140.8,29.8 139.6,31.2 138.0,32.7 128.3,39.8 125.7,41.2 117.4,44.6 113.8,46.9 112.3,48.3 111.3,49.7 110.8,51.1 110.6,52.5 110.9,54.0 111.7,55.4 113.2,56.8 116.0,58.4 119.3,59.6 124.0,61.1 139.3,65.3Z"/><path fill="#f6fbfe" fill-rule="evenodd" d="M113.2,144.8 127.4,144.8 127.4,142.0 124.5,141.3 121.7,140.9 118.9,140.9 116.0,141.2 113.2,142.0ZM187.8,134.9 189.6,135.3 192.4,135.6 195.3,135.5 198.1,134.8 200.9,134.8 200.9,113.6 198.1,113.6 192.4,114.4 188.8,115.0 184.0,116.2 179.7,117.9 177.4,119.3 175.9,120.7 175.2,122.1 174.9,123.5 175.2,125.0 175.8,126.4 176.7,127.8 179.5,130.6 181.5,132.1 184.0,133.5Z"/></g>

<use href="#coast"/>
<path d="M57.3,1.0h0M68.6,1.0h0M79.9,1.0h0M193.1,1.0h0M63.0,6.7h0M74.3,6.7h0M85.6,6.7h0M96.9,6.7h0M108.2,6.7h0M142.2,6.7h0M153.5,6.7h0M164.8,6.7h0M176.2,6.7h0M187.5,6.7h0M46.0,12.4h0M57.3,12.4h0M79.9,12.4h0M91.3,12.4h0M125.2,12.4h0M136.5,12.4h0M147.9,12.4h0M159.2,12.4h0M170.5,12.4h0M181.8,12.4h0M193.1,12.4h0M40.3,18.1h0M51.6,18.1h0M74.3,18.1h0M85.6,18.1h0M96.9,18.1h0M108.2,18.1h0M119.6,18.1h0M130.9,18.1h0M142.2,18.1h0M153.5,18.1h0M164.8,18.1h0M176.2,18.1h0M187.5,18.1h0M34.7,23.7h0M46.0,23.7h0M68.6,23.7h0M79.9,23.7h0M113.9,23.7h0M125.2,23.7h0M136.5,23.7h0M147.9,23.7h0M159.2,23.7h0M170.5,23.7h0M181.8,23.7h0M193.1,23.7h0M29.0,29.4h0M40.3,29.4h0M51.6,29.4h0M85.6,29.4h0M96.9,29.4h0M108.2,29.4h0M119.6,29.4h0M130.9,29.4h0M142.2,29.4h0M153.5,29.4h0M164.8,29.4h0M176.2,29.4h0M187.5,29.4h0M34.7,35.1h0M46.0,35.1h0M79.9,35.1h0M91.3,35.1h0M102.6,35.1h0M113.9,35.1h0M125.2,35.1h0M136.5,35.1h0M147.9,35.1h0M159.2,35.1h0M170.5,35.1h0M181.8,35.1h0M193.1,35.1h0M63.0,40.8h0M74.3,40.8h0M85.6,40.8h0M96.9,40.8h0M108.2,40.8h0M119.6,40.8h0M130.9,40.8h0M142.2,40.8h0M153.5,40.8h0M164.8,40.8h0M176.2,40.8h0M187.5,40.8h0M34.7,46.5h0M46.0,46.5h0M57.3,46.5h0M68.6,46.5h0M79.9,46.5h0M91.3,46.5h0M102.6,46.5h0M113.9,46.5h0M125.2,46.5h0M136.5,46.5h0M147.9,46.5h0M159.2,46.5h0M170.5,46.5h0M181.8,46.5h0M193.1,46.5h0M29.0,52.1h0M40.3,52.1h0M51.6,52.1h0M63.0,52.1h0M74.3,52.1h0M85.6,52.1h0M96.9,52.1h0M108.2,52.1h0M119.6,52.1h0M130.9,52.1h0M142.2,52.1h0M153.5,52.1h0M164.8,52.1h0M176.2,52.1h0M187.5,52.1h0M34.7,57.8h0M46.0,57.8h0M57.3,57.8h0M68.6,57.8h0M79.9,57.8h0M91.3,57.8h0M102.6,57.8h0M113.9,57.8h0M125.2,57.8h0M136.5,57.8h0M147.9,57.8h0M159.2,57.8h0M170.5,57.8h0M181.8,57.8h0M193.1,57.8h0M40.3,63.5h0M51.6,63.5h0M63.0,63.5h0M74.3,63.5h0M85.6,63.5h0M96.9,63.5h0M108.2,63.5h0M119.6,63.5h0M130.9,63.5h0M142.2,63.5h0M153.5,63.5h0M164.8,63.5h0M176.2,63.5h0M187.5,63.5h0M46.0,69.2h0M57.3,69.2h0M68.6,69.2h0M79.9,69.2h0M113.9,69.2h0M125.2,69.2h0M159.2,69.2h0M181.8,69.2h0M193.1,69.2h0M51.6,74.9h0M63.0,74.9h0M74.3,74.9h0M119.6,74.9h0M130.9,74.9h0M153.5,74.9h0M176.2,74.9h0M187.5,74.9h0M57.3,80.5h0M68.6,80.5h0M125.2,80.5h0M136.5,80.5h0M159.2,80.5h0M170.5,80.5h0M181.8,80.5h0M193.1,80.5h0M63.0,86.2h0M85.6,86.2h0M96.9,86.2h0M108.2,86.2h0M119.6,86.2h0M130.9,86.2h0M153.5,86.2h0M164.8,86.2h0M176.2,86.2h0M187.5,86.2h0M136.5,91.9h0M159.2,91.9h0M170.5,91.9h0M181.8,91.9h0M176.2,97.6h0M142.2,97.6h0M153.5,97.6h0M14.9,29.4h0" stroke="#000" stroke-width="3.4" stroke-linecap="round" fill="none"/>
</g>
<rect x="0" y="0" width="198.1" height="142.0" fill="none" stroke="#000" stroke-width="1.1"/>
<path d="M-5.2,142.0h5.2M-5.2,113.6h5.2M-5.2,85.2h5.2M-5.2,56.8h5.2M-5.2,28.4h5.2M-5.2,0.0h5.2M0.0,142.0v5.2M56.6,142.0v5.2M113.2,142.0v5.2M169.8,142.0v5.2" stroke="#000" stroke-width="1" fill="none"/>
<path d="M-2.8,136.3h2.8M-2.8,130.6h2.8M-2.8,125.0h2.8M-2.8,119.3h2.8M-2.8,107.9h2.8M-2.8,102.2h2.8M-2.8,96.6h2.8M-2.8,90.9h2.8M-2.8,79.5h2.8M-2.8,73.8h2.8M-2.8,68.2h2.8M-2.8,62.5h2.8M-2.8,51.1h2.8M-2.8,45.4h2.8M-2.8,39.8h2.8M-2.8,34.1h2.8M-2.8,22.7h2.8M-2.8,17.0h2.8M-2.8,11.4h2.8M-2.8,5.7h2.8M14.2,142.0v2.8M28.3,142.0v2.8M42.5,142.0v2.8M70.8,142.0v2.8M84.9,142.0v2.8M99.0,142.0v2.8M127.4,142.0v2.8M141.5,142.0v2.8M155.7,142.0v2.8M184.0,142.0v2.8M198.1,142.0v2.8" stroke="#222" stroke-width="0.7" fill="none"/>
<text x="-12.5" y="146.5" font-size="12" text-anchor="end">20N</text>
<text x="-12.5" y="118.1" font-size="12" text-anchor="end">30N</text>
<text x="-12.5" y="89.7" font-size="12" text-anchor="end">40N</text>
<text x="-12.5" y="61.3" font-size="12" text-anchor="end">50N</text>
<text x="-12.5" y="32.9" font-size="12" text-anchor="end">60N</text>
<text x="-12.5" y="4.5" font-size="12" text-anchor="end">70N</text>
<text x="0.0" y="164.3" font-size="12" text-anchor="middle">0</text>
<text x="56.6" y="164.3" font-size="12" text-anchor="middle">20E</text>
<text x="113.2" y="164.3" font-size="12" text-anchor="middle">40E</text>
<text x="169.8" y="164.3" font-size="12" text-anchor="middle">60E</text>
<text x="-1.1" y="-9.2" font-size="11.6">(a) EOF1 (CRU)</text>
<text x="197.1" y="-7.9" font-size="11.6" text-anchor="end">38.9%</text>
</g>
<g transform="translate(289.1,51.3)">
<g clip-path="url(#frame)">
<g clip-path="url(#land)"><path fill="#fffcea" fill-rule="evenodd" d="M170.8,137.7 172.6,137.7 174.0,137.3 175.5,136.5 175.7,136.3 175.8,134.9 173.8,133.5 171.2,133.3 169.8,133.6 168.1,134.9 167.9,136.3 169.8,137.5ZM48.6,93.7 50.9,94.4 53.8,94.9 56.6,95.1 60.8,95.0 65.1,94.5 75.0,92.5 86.3,90.6 89.1,89.8 92.0,88.8 94.8,87.5 104.5,82.4 110.8,79.5 114.6,78.2 117.4,77.4 123.1,76.5 127.4,76.5 130.2,76.7 133.0,77.2 137.3,78.3 140.8,79.5 144.2,80.9 154.2,85.8 161.3,89.0 165.6,90.5 169.8,91.3 172.6,91.4 176.9,90.6 181.1,89.2 196.7,82.9 198.1,82.4 200.9,82.5 200.9,-2.8 28.3,-2.8 28.3,0.0 29.7,0.4 30.9,1.4 31.0,2.8 30.8,4.3 29.8,7.1 28.3,9.7 26.9,11.4 25.3,12.8 19.8,16.8 17.9,18.5 16.8,19.9 15.9,21.3 14.8,24.1 14.3,27.0 14.1,29.8 14.3,41.2 14.0,44.0 12.5,51.1 12.4,52.5 12.6,54.0 13.2,55.4 14.2,56.8 21.2,63.5 23.8,66.7 25.5,69.9 28.8,78.1 30.4,80.9 31.5,82.4 34.6,85.2 40.5,89.5 45.1,92.3Z"/><path fill="#fff3c6" fill-rule="evenodd" d="M51.6,90.9 53.8,91.5 56.6,91.9 59.4,91.8 63.7,91.2 73.6,88.2 84.9,85.2 99.0,80.6 111.8,76.1 116.0,75.0 121.7,74.1 125.9,74.0 128.8,74.2 133.0,75.0 135.8,75.7 141.5,77.7 152.8,82.8 159.9,85.7 165.6,87.4 169.8,88.0 174.0,87.9 178.3,87.0 186.8,84.2 198.1,79.9 200.9,79.9 200.9,-2.8 47.1,-2.8 47.1,0.0 41.0,2.8 38.9,4.3 36.8,6.6 32.9,12.8 31.1,15.0 29.1,17.0 24.1,21.1 22.6,22.5 21.3,24.1 20.4,25.6 19.3,28.4 18.6,32.7 18.5,36.9 18.6,48.3 19.0,51.1 19.9,54.0 21.7,56.8 25.2,61.1 26.9,63.5 28.6,66.7 31.8,73.8 34.0,77.3 37.4,80.9 44.2,86.6 48.1,89.3Z"/><path fill="#fbe794" fill-rule="evenodd" d="M53.4,88.0 55.2,88.5 58.0,88.8 62.3,88.2 66.5,86.9 72.2,84.7 86.3,79.5 90.6,78.5 99.0,77.0 110.7,73.8 114.6,72.9 117.4,72.4 121.7,71.9 125.9,71.9 128.8,72.1 134.4,73.3 141.5,75.7 151.4,80.2 157.1,82.4 162.7,84.1 168.4,85.1 172.6,85.2 178.3,84.3 182.5,83.1 189.6,80.8 193.9,79.2 198.1,77.3 200.9,77.3 200.9,-2.8 70.8,-2.8 70.8,0.0 72.2,0.1 73.6,0.7 74.2,1.4 73.8,2.8 72.7,4.3 70.8,5.8 69.3,6.4 67.9,6.7 66.5,6.8 65.1,6.4 63.7,5.7 62.6,4.3 62.3,2.8 63.2,1.4 63.7,1.2 66.5,0.4 70.7,0.0 70.7,-2.8 56.6,-2.8 56.6,0.0 54.4,1.4 46.7,5.0 43.5,7.1 40.9,9.9 37.5,15.6 35.4,18.6 32.5,21.3 28.3,24.4 25.6,27.0 24.1,29.6 23.4,31.2 22.9,34.1 22.6,36.9 22.7,39.8 23.0,44.0 23.5,46.9 24.3,49.7 25.6,52.5 29.2,58.2 30.7,61.1 34.1,69.6 35.5,72.4 36.8,74.3 38.7,76.7 46.5,83.8 50.3,86.6Z"/><path fill="#fdd06e" fill-rule="evenodd" d="M56.6,85.2 59.4,85.2 63.7,84.2 74.7,79.5 82.1,76.2 84.9,75.2 89.1,74.5 99.0,73.9 113.2,71.0 120.3,70.1 124.5,69.9 127.4,70.1 131.6,70.7 134.4,71.4 141.5,73.8 151.4,78.3 155.7,80.0 162.7,81.9 168.4,82.7 171.2,82.7 174.0,82.5 179.7,81.5 184.0,80.3 189.6,78.5 193.9,76.8 198.1,74.7 200.9,74.7 200.9,-2.8 94.6,-2.8 94.6,0.0 86.3,1.3 83.5,2.1 80.7,3.6 73.6,9.2 72.2,10.1 69.5,11.4 65.1,12.7 55.2,14.5 53.8,14.9 52.1,15.6 50.5,17.0 49.6,18.5 47.0,24.1 46.0,25.6 44.7,27.0 42.5,28.4 41.0,28.8 34.0,30.0 31.3,31.2 29.8,32.7 28.4,35.5 28.1,36.9 28.0,39.8 28.3,42.6 29.1,45.4 30.4,48.3 33.5,54.0 34.7,56.8 37.6,66.7 38.2,68.5 39.5,71.0 41.0,73.1 42.5,74.7 50.8,82.4 53.8,84.3Z"/><path fill="#feb945" fill-rule="evenodd" d="M56.9,79.5 59.4,79.9 60.8,79.8 63.7,79.2 70.9,76.7 80.7,72.2 84.9,71.0 87.7,70.8 99.0,71.0 103.3,70.5 114.6,68.8 120.3,68.3 124.5,68.2 127.4,68.3 130.2,68.7 134.4,69.5 137.3,70.4 141.5,71.9 151.4,76.5 155.7,78.1 161.3,79.6 167.0,80.4 172.6,80.3 175.5,80.0 179.7,79.2 185.4,77.6 189.6,76.2 193.9,74.4 198.1,72.2 200.9,72.2 200.9,-2.8 102.0,-2.8 102.0,0.0 97.6,1.4 87.7,3.7 84.9,4.8 83.5,5.6 73.6,12.6 70.8,14.2 63.7,17.6 60.4,19.9 57.8,22.7 53.8,28.9 50.9,32.6 43.3,41.2 41.8,44.0 41.3,46.9 41.4,49.7 42.3,55.4 42.9,62.5 43.5,65.3 44.1,66.7 45.3,68.9 47.1,71.0 53.8,77.5 55.2,78.6Z"/><path fill="#fc972d" fill-rule="evenodd" d="M164.8,78.1 168.4,78.3 172.6,78.1 179.7,76.9 185.4,75.4 189.6,73.9 193.9,72.0 198.1,69.9 200.9,69.9 200.9,-2.8 106.6,-2.8 106.6,0.0 99.0,3.0 90.1,5.7 86.3,7.2 83.5,8.8 75.8,14.2 67.9,18.7 64.2,21.3 61.4,24.1 59.5,27.0 52.9,38.3 51.5,41.2 51.0,42.6 50.7,44.0 50.6,46.9 51.3,49.7 51.9,51.1 53.8,53.8 57.9,58.2 59.4,60.3 60.7,62.5 62.4,66.7 63.7,69.0 65.1,70.3 66.5,71.0 67.9,71.2 70.8,71.0 79.1,68.2 83.5,67.3 87.7,67.3 96.2,68.1 100.5,68.2 118.9,66.6 123.1,66.5 127.4,66.6 133.0,67.4 137.3,68.5 141.5,70.0 151.4,74.6 155.7,76.2 159.9,77.4Z"/><path fill="#f77f2d" fill-rule="evenodd" d="M159.3,75.3 162.7,75.8 167.0,76.1 171.2,75.9 176.9,75.2 182.5,73.9 187.2,72.4 192.4,70.3 198.1,67.6 200.9,67.6 200.9,-2.8 111.0,-2.8 111.0,0.0 100.5,4.7 90.6,8.3 86.8,9.9 83.5,11.9 77.8,15.8 67.9,21.9 65.1,24.4 63.7,26.1 62.3,28.2 59.9,32.7 57.6,38.3 56.8,41.2 56.6,44.0 57.4,46.9 58.1,48.3 60.4,51.1 66.5,56.8 69.3,59.7 70.8,61.0 72.2,62.0 73.6,62.6 76.4,63.2 86.3,63.9 99.0,65.5 104.7,65.5 121.7,64.8 127.4,65.0 131.6,65.5 135.8,66.3 140.1,67.6 144.3,69.3 154.2,73.8Z"/><path fill="#ee5a2d" fill-rule="evenodd" d="M156.4,72.4 161.3,73.5 165.6,73.8 169.8,73.6 175.5,73.0 179.7,72.1 185.4,70.6 191.0,68.5 198.1,65.4 200.9,65.4 200.9,-2.8 115.6,-2.8 115.6,0.0 109.1,2.8 99.0,7.8 90.6,11.2 87.7,12.6 71.1,22.7 69.2,24.1 66.4,27.0 64.6,29.8 63.2,32.7 61.8,36.9 61.3,39.8 61.3,42.6 61.7,44.0 62.3,45.4 64.4,48.3 67.9,51.6 73.6,55.9 77.8,58.3 80.7,59.3 84.9,60.3 94.8,62.1 100.5,62.9 107.5,63.2 124.5,63.2 130.2,63.6 134.4,64.2 138.7,65.2 142.9,66.6 152.8,71.1Z"/><path fill="#de3a2b" fill-rule="evenodd" d="M161.3,71.0 164.1,71.2 168.4,71.1 172.6,70.7 176.9,70.0 181.1,69.0 186.8,67.4 198.1,63.2 200.9,63.2 200.9,1.5 198.1,1.5 194.9,0.0 194.9,-2.8 121.1,-2.8 121.1,0.0 117.1,1.4 113.2,3.1 99.0,10.7 89.1,15.3 73.7,24.1 71.7,25.6 69.3,27.8 67.8,29.8 66.5,32.7 65.6,35.5 65.2,38.3 65.5,41.2 65.9,42.6 66.6,44.0 68.8,46.9 73.6,50.9 77.8,53.7 82.1,55.8 84.9,56.8 90.6,58.2 97.9,59.6 103.3,60.5 110.4,61.1 127.4,61.6 133.0,62.2 137.3,62.9 140.1,63.5 144.3,64.8 155.7,69.7 158.5,70.5Z"/><path fill="#cb1e2a" fill-rule="evenodd" d="M156.5,66.7 159.9,67.6 164.1,68.0 168.4,67.8 172.6,67.4 178.3,66.5 184.0,65.2 189.6,63.6 198.1,60.8 200.9,60.8 200.9,4.9 198.1,4.9 189.3,0.0 189.3,-2.8 127.4,-2.8 127.4,0.0 119.2,2.8 113.2,5.6 100.5,13.4 87.5,19.9 76.4,25.9 73.6,27.9 72.2,29.3 70.8,31.2 70.1,32.7 69.3,35.5 69.2,38.3 70.0,41.2 70.7,42.6 73.1,45.4 76.5,48.3 80.7,51.0 84.9,53.1 87.7,54.1 92.8,55.4 101.9,57.4 107.5,58.5 114.6,59.2 131.6,60.2 140.1,61.3 142.9,61.9 147.2,63.1Z"/><path fill="#b01a22" fill-rule="evenodd" d="M157.1,62.5 161.3,63.2 164.1,63.5 168.4,63.4 175.5,62.9 181.1,62.2 186.8,61.1 198.1,58.3 200.9,58.3 200.9,8.7 198.1,8.7 189.6,3.7 185.4,1.0 184.0,0.0 184.0,-2.8 133.8,-2.8 133.8,0.0 121.7,4.5 118.8,5.7 114.6,7.9 111.3,9.9 103.3,15.8 99.0,18.6 94.8,20.9 82.2,27.0 79.2,28.6 77.6,29.8 76.1,31.2 75.0,32.7 74.4,34.1 74.1,35.5 74.0,36.9 74.3,38.3 75.0,40.2 76.6,42.6 79.2,45.1 82.1,47.2 84.9,48.8 89.1,50.6 106.1,55.4 111.8,56.6 117.4,57.3 134.4,58.4 141.5,59.1 148.6,60.3Z"/><path fill="#8b161b" fill-rule="evenodd" d="M155.6,56.8 168.4,57.8 178.3,58.0 186.8,57.3 192.4,56.4 198.1,55.1 200.9,55.1 200.9,13.2 198.1,13.2 186.8,6.3 182.5,3.4 178.2,0.0 178.2,-2.8 141.5,-2.8 141.5,0.0 135.8,2.4 123.3,7.1 117.7,9.9 113.6,12.8 104.7,20.3 100.5,23.6 96.2,26.1 89.0,29.8 84.9,32.3 83.0,34.1 82.2,35.5 81.9,36.9 82.1,38.3 82.7,39.8 83.6,41.2 84.9,42.6 86.7,44.0 89.1,45.4 92.3,46.9 106.1,51.9 110.4,53.3 116.0,54.5 123.1,55.3Z"/><path fill="#f6fbfe" fill-rule="evenodd" d="M108.4,144.8 134.6,144.8 134.6,142.0 136.6,140.6 137.7,139.2 138.4,137.7 139.5,134.9 141.5,127.8 142.9,124.6 144.3,122.5 145.7,121.0 147.2,119.9 148.6,119.2 150.0,118.9 151.4,119.0 152.8,119.5 157.5,122.1 161.3,123.4 164.1,123.8 167.0,123.9 172.6,123.7 176.9,122.9 179.2,122.1 181.1,121.1 182.5,120.0 184.0,118.6 187.7,113.6 189.6,112.1 191.0,111.7 192.4,111.5 193.9,111.7 195.3,112.1 198.1,113.6 200.9,113.6 200.9,86.6 198.1,86.3 195.3,87.3 192.0,89.5 188.2,92.7 184.0,95.9 182.5,96.8 181.1,97.3 177.4,98.0 169.8,98.8 167.0,98.9 164.1,98.5 159.9,97.1 155.7,94.6 144.2,86.6 141.5,85.2 137.3,83.7 134.4,83.2 131.6,82.8 128.8,82.8 125.9,83.0 121.7,84.0 118.9,85.1 117.4,86.0 116.5,86.6 115.1,88.0 114.2,89.5 113.7,90.9 113.3,93.7 113.3,98.0 112.9,100.8 112.0,103.7 109.5,109.3 108.8,112.2 108.7,115.0 109.2,117.9 113.2,127.8 113.8,130.6 113.9,133.5 113.4,136.3 112.7,137.7 111.6,139.2 108.4,142.0ZM-2.8,80.9 0.0,81.1 2.8,80.8 5.7,80.3 8.5,79.4 11.1,78.1 12.7,76.8 14.0,75.3 14.6,73.8 14.7,72.4 14.5,71.0 14.0,69.6 13.1,68.2 10.5,65.3 8.5,63.7 5.7,61.9 2.8,60.8 0.0,60.1 -2.8,60.2Z"/><path fill="#e5f5fd" fill-rule="evenodd" d="M123.5,139.2 124.5,139.4 125.9,139.4 127.4,139.2 128.8,138.7 130.2,137.9 131.6,136.5 132.6,134.9 133.5,132.1 133.7,127.8 133.0,123.3 131.6,119.8 130.2,117.7 127.8,115.0 127.4,113.6 128.4,112.2 138.7,105.7 141.5,103.5 143.8,100.8 145.1,98.0 145.2,96.6 144.9,95.1 144.3,93.7 142.9,91.6 141.5,90.3 140.1,89.3 138.7,88.6 135.8,87.7 133.0,87.3 130.2,87.5 127.8,88.0 125.9,88.8 124.5,89.6 123.1,90.9 122.2,92.3 121.3,95.1 121.0,98.0 121.3,103.7 121.9,107.9 123.0,112.2 123.0,113.6 121.7,116.3 121.2,117.9 120.6,120.7 120.3,125.0 120.4,130.6 120.7,133.5 121.2,136.3 121.7,137.7 123.1,139.0ZM165.8,119.3 168.4,119.9 171.2,119.9 174.3,119.3 177.1,117.9 178.8,116.4 179.9,115.0 182.8,109.3 186.8,103.7 188.2,104.1 193.9,107.1 198.1,109.8 200.9,109.8 200.9,88.3 198.1,87.8 196.7,88.2 194.6,89.5 193.0,90.9 191.9,92.3 190.1,95.1 188.6,98.0 186.8,102.2 185.4,102.5 185.2,102.2 181.6,100.8 179.7,100.4 178.3,100.2 175.5,100.2 174.0,100.4 171.2,101.2 167.0,103.1 162.7,104.7 161.3,105.4 160.1,106.5 159.4,107.9 159.2,109.3 159.3,110.8 160.0,113.6 161.3,116.0 162.7,117.5 164.1,118.5ZM-2.8,76.7 -2.8,77.9 0.0,78.1 2.8,77.5 5.7,76.3 7.2,75.3 8.4,73.8 9.1,72.4 9.2,71.0 9.0,69.6 8.3,68.2 7.2,66.7 5.7,65.3 4.2,64.4 2.8,63.7 0.0,62.8 -2.8,63.1Z"/><path fill="#d4ecfa" fill-rule="evenodd" d="M169.7,113.6 171.2,113.5 172.5,112.2 173.0,110.8 174.9,109.3 176.9,108.7 178.3,107.8 179.7,106.7 180.7,105.1 180.6,103.7 178.8,102.2 176.9,101.8 175.5,101.8 174.0,102.1 171.5,103.7 170.6,105.1 170.3,106.5 170.1,109.3 169.2,110.8 168.6,112.2ZM196.7,105.1 198.1,106.3 200.9,106.2 200.9,89.9 199.5,89.4 198.1,89.2 196.7,89.7 195.3,90.7 193.9,92.3 193.2,93.7 192.7,95.1 192.4,98.0 192.5,99.4 193.0,100.8 193.9,102.2ZM130.0,102.2 131.6,102.8 134.4,102.9 135.8,102.6 137.3,102.0 139.1,100.8 140.3,99.4 140.9,98.0 141.0,96.6 140.7,95.1 139.9,93.7 138.7,92.6 137.3,91.8 135.8,91.3 134.4,91.1 131.6,91.4 130.2,91.9 128.8,92.8 127.7,93.7 126.9,95.1 126.5,96.6 126.5,98.0 126.9,99.4 127.9,100.8 128.8,101.6ZM-2.8,73.8 -2.8,74.9 0.0,75.2 1.4,74.9 3.4,73.8 4.7,72.4 5.2,71.0 5.0,69.6 4.3,68.2 2.8,66.7 1.4,66.0 0.0,65.5 -2.8,65.9Z"/><path fill="#b9e4f8" fill-rule="evenodd" d="M197.6,102.2 198.1,102.7 200.9,102.4 200.9,91.6 199.5,90.8 198.1,90.6 196.7,91.3 195.6,92.3 194.8,93.7 194.4,95.1 194.4,96.6 194.6,98.0 195.2,99.4 196.2,100.8ZM133.2,100.8 134.4,100.9 135.8,100.5 137.7,99.4 138.6,98.0 138.8,96.6 138.2,95.1 137.3,94.2 135.8,93.4 134.4,93.2 133.0,93.3 131.6,93.7 129.9,95.1 129.3,96.6 129.4,98.0 130.2,99.4 131.6,100.4Z"/><path fill="#a5daf5" fill-rule="evenodd" d="M198.0,99.4 199.5,99.2 200.9,98.0 200.9,94.4 200.6,93.7 199.5,92.7 198.1,92.2 196.7,93.4 196.1,95.1 196.2,96.6 196.7,97.8ZM132.0,98.0 133.0,98.7 134.4,98.9 135.8,98.3 136.2,98.0 136.4,96.6 135.8,95.8 134.6,95.1 133.0,95.4 131.8,96.6Z"/></g>

<use href="#coast"/>
<path d="M63.0,1.0h0M74.3,1.0h0M46.0,6.7h0M57.3,6.7h0M68.6,6.7h0M79.9,6.7h0M91.3,6.7h0M102.6,6.7h0M125.2,6.7h0M147.9,6.7h0M159.2,6.7h0M170.5,6.7h0M181.8,6.7h0M193.1,6.7h0M40.3,12.4h0M51.6,12.4h0M74.3,12.4h0M85.6,12.4h0M119.6,12.4h0M130.9,12.4h0M142.2,12.4h0M153.5,12.4h0M164.8,12.4h0M176.2,12.4h0M187.5,12.4h0M46.0,18.1h0M68.6,18.1h0M79.9,18.1h0M91.3,18.1h0M102.6,18.1h0M113.9,18.1h0M125.2,18.1h0M136.5,18.1h0M147.9,18.1h0M159.2,18.1h0M170.5,18.1h0M181.8,18.1h0M193.1,18.1h0M40.3,23.7h0M63.0,23.7h0M74.3,23.7h0M108.2,23.7h0M119.6,23.7h0M130.9,23.7h0M142.2,23.7h0M153.5,23.7h0M164.8,23.7h0M176.2,23.7h0M187.5,23.7h0M34.7,29.4h0M46.0,29.4h0M91.3,29.4h0M102.6,29.4h0M113.9,29.4h0M125.2,29.4h0M136.5,29.4h0M147.9,29.4h0M159.2,29.4h0M170.5,29.4h0M181.8,29.4h0M193.1,29.4h0M40.3,35.1h0M74.3,35.1h0M85.6,35.1h0M96.9,35.1h0M108.2,35.1h0M119.6,35.1h0M130.9,35.1h0M142.2,35.1h0M153.5,35.1h0M164.8,35.1h0M176.2,35.1h0M187.5,35.1h0M34.7,40.8h0M68.6,40.8h0M79.9,40.8h0M91.3,40.8h0M102.6,40.8h0M113.9,40.8h0M125.2,40.8h0M136.5,40.8h0M147.9,40.8h0M159.2,40.8h0M170.5,40.8h0M181.8,40.8h0M193.1,40.8h0M29.0,46.5h0M40.3,46.5h0M51.6,46.5h0M63.0,46.5h0M74.3,46.5h0M85.6,46.5h0M96.9,46.5h0M108.2,46.5h0M119.6,46.5h0M130.9,46.5h0M142.2,46.5h0M153.5,46.5h0M164.8,46.5h0M176.2,46.5h0M187.5,46.5h0M34.7,52.1h0M46.0,52.1h0M57.3,52.1h0M68.6,52.1h0M79.9,52.1h0M91.3,52.1h0M102.6,52.1h0M113.9,52.1h0M125.2,52.1h0M136.5,52.1h0M147.9,52.1h0M159.2,52.1h0M170.5,52.1h0M181.8,52.1h0M193.1,52.1h0M29.0,57.8h0M40.3,57.8h0M51.6,57.8h0M63.0,57.8h0M74.3,57.8h0M85.6,57.8h0M96.9,57.8h0M108.2,57.8h0M119.6,57.8h0M130.9,57.8h0M142.2,57.8h0M153.5,57.8h0M164.8,57.8h0M176.2,57.8h0M187.5,57.8h0M34.7,63.5h0M46.0,63.5h0M57.3,63.5h0M68.6,63.5h0M79.9,63.5h0M91.3,63.5h0M102.6,63.5h0M113.9,63.5h0M125.2,63.5h0M136.5,63.5h0M147.9,63.5h0M159.2,63.5h0M170.5,63.5h0M181.8,63.5h0M193.1,63.5h0M40.3,69.2h0M51.6,69.2h0M63.0,69.2h0M74.3,69.2h0M96.9,69.2h0M108.2,69.2h0M119.6,69.2h0M130.9,69.2h0M153.5,69.2h0M176.2,69.2h0M187.5,69.2h0M57.3,74.9h0M68.6,74.9h0M79.9,74.9h0M147.9,74.9h0M159.2,74.9h0M181.8,74.9h0M193.1,74.9h0M63.0,80.5h0M74.3,80.5h0M164.8,80.5h0M176.2,80.5h0M187.5,80.5h0M136.5,97.6h0M176.2,103.3h0M170.5,108.9h0" stroke="#000" stroke-width="3.4" stroke-linecap="round" fill="none"/>
</g>
<rect x="0" y="0" width="198.1" height="142.0" fill="none" stroke="#000" stroke-width="1.1"/>
<path d="M-5.2,142.0h5.2M-5.2,113.6h5.2M-5.2,85.2h5.2M-5.2,56.8h5.2M-5.2,28.4h5.2M-5.2,0.0h5.2M0.0,142.0v5.2M56.6,142.0v5.2M113.2,142.0v5.2M169.8,142.0v5.2" stroke="#000" stroke-width="1" fill="none"/>
<path d="M-2.8,136.3h2.8M-2.8,130.6h2.8M-2.8,125.0h2.8M-2.8,119.3h2.8M-2.8,107.9h2.8M-2.8,102.2h2.8M-2.8,96.6h2.8M-2.8,90.9h2.8M-2.8,79.5h2.8M-2.8,73.8h2.8M-2.8,68.2h2.8M-2.8,62.5h2.8M-2.8,51.1h2.8M-2.8,45.4h2.8M-2.8,39.8h2.8M-2.8,34.1h2.8M-2.8,22.7h2.8M-2.8,17.0h2.8M-2.8,11.4h2.8M-2.8,5.7h2.8M14.2,142.0v2.8M28.3,142.0v2.8M42.5,142.0v2.8M70.8,142.0v2.8M84.9,142.0v2.8M99.0,142.0v2.8M127.4,142.0v2.8M141.5,142.0v2.8M155.7,142.0v2.8M184.0,142.0v2.8M198.1,142.0v2.8" stroke="#222" stroke-width="0.7" fill="none"/>
<text x="-12.5" y="146.5" font-size="12" text-anchor="end">20N</text>
<text x="-12.5" y="118.1" font-size="12" text-anchor="end">30N</text>
<text x="-12.5" y="89.7" font-size="12" text-anchor="end">40N</text>
<text x="-12.5" y="61.3" font-size="12" text-anchor="end">50N</text>
<text x="-12.5" y="32.9" font-size="12" text-anchor="end">60N</text>
<text x="-12.5" y="4.5" font-size="12" text-anchor="end">70N</text>
<text x="0.0" y="164.3" font-size="12" text-anchor="middle">0</text>
<text x="56.6" y="164.3" font-size="12" text-anchor="middle">20E</text>
<text x="113.2" y="164.3" font-size="12" text-anchor="middle">40E</text>
<text x="169.8" y="164.3" font-size="12" text-anchor="middle">60E</text>
<text x="-1.1" y="-9.2" font-size="11.6">(d) EOF1 (NCEP LST)</text>
<text x="197.1" y="-7.9" font-size="11.6" text-anchor="end">29.5%</text>
</g>
<g transform="translate(544.5,51.3)">
<g clip-path="url(#frame)">
<g clip-path="url(#land)"><path fill="#fffcea" fill-rule="evenodd" d="M123.0,144.8 127.3,144.8 127.3,142.0 130.2,140.1 131.6,138.9 134.4,135.8 136.6,132.1 140.1,123.9 141.5,121.8 142.9,120.6 144.3,119.9 146.9,119.3 155.7,119.0 159.9,118.6 164.4,117.9 169.5,116.4 172.8,115.0 174.9,113.6 176.3,112.2 179.6,107.9 181.2,106.5 183.5,105.1 186.6,103.7 191.2,102.2 196.7,101.3 200.9,101.1 200.9,-2.8 28.3,-2.8 28.3,0.0 31.1,0.8 39.6,1.7 43.9,2.7 45.7,4.3 46.0,5.7 45.4,7.1 43.9,8.4 41.0,9.4 39.6,9.7 36.8,9.7 29.7,8.9 28.3,9.0 26.9,9.3 24.1,10.9 22.6,12.2 19.8,15.6 18.0,18.5 15.8,22.7 14.4,27.0 14.0,31.2 14.3,38.3 14.2,42.6 13.6,45.4 12.2,49.7 10.1,54.0 8.5,56.5 4.2,61.6 2.6,63.9 1.2,66.7 0.0,71.0 -2.8,71.0 -2.8,85.2 0.0,85.2 1.4,86.3 2.8,86.7 4.2,86.9 7.1,86.9 9.9,86.5 12.7,85.7 19.8,82.9 21.2,82.7 22.6,82.7 25.5,83.6 30.8,86.6 36.8,89.6 41.0,92.0 48.1,96.5 52.4,98.4 55.2,99.2 58.0,99.6 60.8,99.6 69.3,99.4 72.2,99.5 77.8,100.6 82.1,102.2 84.7,103.7 86.7,105.1 100.5,118.0 103.3,120.3 106.3,122.1 113.2,125.2 115.0,126.4 116.8,127.8 119.1,130.6 119.9,132.1 121.0,134.9 123.0,142.0Z"/><path fill="#fff3c6" fill-rule="evenodd" d="M116.4,116.4 120.3,117.3 123.1,117.5 124.5,117.3 125.9,116.9 127.4,116.3 133.5,112.2 135.8,110.9 140.1,109.2 144.3,108.6 154.2,108.6 158.5,108.2 162.7,107.0 171.4,103.7 180.6,100.8 187.0,99.4 191.0,98.8 196.7,98.1 200.9,98.0 200.9,-2.8 50.4,-2.8 50.4,0.0 52.7,1.4 53.4,2.8 53.5,4.3 53.3,5.7 52.8,7.1 52.1,8.5 50.9,10.0 49.5,11.2 48.1,12.1 45.3,13.4 42.5,14.2 34.0,15.8 31.1,16.7 28.1,18.5 26.6,19.9 25.4,21.3 24.1,23.3 23.0,25.6 21.7,29.8 21.3,34.1 21.1,42.6 19.3,54.0 19.2,56.8 19.4,58.2 20.3,61.1 21.2,62.5 26.9,69.0 32.0,76.7 34.0,79.0 36.8,81.4 42.5,85.2 49.5,90.3 52.4,92.0 55.2,93.1 56.6,93.5 59.4,93.7 69.3,93.2 73.6,93.5 77.8,94.5 84.9,96.4 90.6,98.4 93.4,99.9 96.2,101.9 104.7,109.8 109.0,113.1 113.2,115.4Z"/><path fill="#fbe794" fill-rule="evenodd" d="M113.8,106.5 116.0,107.2 117.4,107.4 118.9,107.5 121.7,107.2 125.9,106.0 134.4,102.7 138.7,101.7 142.9,101.5 152.8,102.2 158.5,102.0 162.7,101.4 180.2,98.0 188.2,96.7 195.3,95.9 200.9,95.8 200.9,-2.8 62.5,-2.8 62.5,0.0 60.8,1.1 59.6,2.8 56.6,9.9 55.2,12.1 53.8,13.6 52.4,14.7 49.5,16.1 46.6,17.0 39.6,18.8 35.4,20.4 32.5,22.1 30.5,24.1 28.8,27.0 28.3,28.4 27.7,31.2 27.6,35.5 28.3,44.0 27.8,51.1 28.0,55.4 29.2,59.6 33.3,69.6 35.7,73.8 38.2,76.7 41.0,79.0 52.4,86.2 55.2,87.7 56.6,88.1 58.0,88.4 60.8,88.5 67.9,87.9 72.2,88.0 75.0,88.6 84.9,91.3 93.4,92.7 97.6,93.8 100.4,95.1 101.9,96.2 109.4,103.7 111.8,105.5Z"/><path fill="#fdd06e" fill-rule="evenodd" d="M151.9,98.0 157.1,98.5 162.7,98.2 169.8,97.4 189.6,94.4 196.7,93.8 200.9,93.7 200.9,-2.8 99.1,-2.8 99.0,0.0 93.4,1.1 87.7,1.5 75.0,1.1 70.0,1.4 66.5,2.5 64.2,4.3 63.2,5.7 62.5,7.1 60.4,12.8 59.4,14.9 58.0,16.9 56.6,18.1 55.2,18.9 52.4,19.8 43.9,21.7 40.5,22.7 37.8,24.1 36.1,25.6 35.0,27.0 34.3,28.4 33.9,29.8 33.8,31.2 34.0,33.0 34.8,35.5 35.6,36.9 36.8,38.4 38.2,39.6 42.4,42.6 43.7,44.0 44.0,45.4 43.8,46.9 43.0,48.3 39.6,52.6 37.8,55.4 36.9,58.2 36.6,61.1 37.1,65.3 38.4,69.6 39.6,71.7 41.0,73.4 43.9,75.6 54.8,80.9 58.0,82.1 60.8,82.5 69.3,82.3 72.2,82.4 76.4,83.1 84.9,85.2 87.7,85.2 89.1,85.0 92.0,83.8 93.8,82.4 96.2,79.9 97.6,79.1 99.0,78.7 100.5,78.6 103.3,78.9 106.1,79.6 109.8,80.9 124.5,87.4 134.4,90.8 143.0,95.1 145.7,96.3 148.6,97.3Z"/><path fill="#feb945" fill-rule="evenodd" d="M153.9,95.1 158.5,95.7 165.6,95.6 172.6,94.8 191.0,92.3 196.7,91.8 200.9,91.8 200.9,-2.8 106.9,-2.8 106.9,0.0 96.2,3.6 92.0,4.7 87.7,5.4 84.9,5.5 76.4,4.4 73.6,4.4 70.8,5.0 69.3,5.8 68.0,7.1 67.1,8.5 66.6,9.9 66.2,12.8 66.5,15.6 67.6,18.5 68.7,19.9 71.2,22.7 72.0,24.1 72.2,24.8 72.3,25.6 71.9,27.0 70.8,28.4 69.3,29.2 67.9,29.9 65.1,30.5 62.3,30.8 60.8,30.7 59.4,30.4 56.6,28.4 53.9,27.0 52.4,26.6 49.5,26.3 46.7,26.5 45.3,26.8 43.9,27.4 42.5,28.4 41.9,29.8 42.1,31.2 43.2,32.7 45.3,33.8 46.7,34.2 52.4,35.0 54.2,35.5 55.2,36.1 55.8,36.9 56.4,38.3 56.6,39.8 56.6,42.6 56.4,44.0 55.6,46.9 54.4,49.7 52.4,52.9 46.6,59.6 45.0,62.5 44.6,63.9 44.6,65.3 44.9,66.7 45.8,68.2 46.7,68.9 48.1,69.7 49.5,70.0 55.2,70.7 56.6,71.0 63.7,74.2 66.5,75.0 69.3,75.4 73.6,75.4 76.4,74.8 79.0,73.8 82.1,72.2 84.9,71.0 87.7,70.4 90.6,70.3 94.8,70.5 99.1,71.0 103.3,71.9 109.5,73.8 121.7,78.7 131.9,82.4 135.4,83.8 138.7,85.7 144.9,90.9 147.2,92.5 150.0,93.9Z"/><path fill="#fc972d" fill-rule="evenodd" d="M154.1,92.3 157.1,93.0 159.9,93.4 167.0,93.4 174.0,92.7 192.4,90.3 198.1,89.8 200.9,89.8 200.9,-2.8 113.2,-2.8 113.2,0.0 105.7,2.8 99.6,5.7 89.0,11.4 86.7,12.8 84.9,14.2 83.8,15.6 83.2,17.0 82.5,24.1 81.7,27.0 80.7,28.8 79.8,29.8 78.3,31.2 76.4,32.6 67.9,37.3 66.5,38.3 65.2,39.8 64.3,41.2 63.2,44.0 62.7,46.9 62.5,51.1 62.8,54.0 63.6,56.8 65.1,59.4 67.8,62.5 69.3,63.7 70.8,64.4 73.6,65.0 82.1,64.8 84.9,64.9 89.1,65.5 103.3,68.2 108.7,69.6 113.2,71.0 125.9,75.9 134.4,78.9 138.7,80.8 141.5,82.8 147.0,88.0 148.7,89.5 151.4,91.2Z"/><path fill="#f77f2d" fill-rule="evenodd" d="M158.9,90.9 164.1,91.3 169.8,91.1 176.9,90.4 196.7,87.8 200.9,87.7 200.9,-2.8 119.8,-2.8 119.8,0.0 112.1,2.8 106.1,5.7 101.7,8.5 98.2,11.4 95.5,14.2 93.6,17.0 92.2,19.9 89.7,27.0 88.2,29.8 87.1,31.2 84.9,33.4 82.1,35.4 74.0,39.8 72.2,41.1 70.8,42.6 70.0,44.0 69.7,45.4 69.7,46.9 70.0,48.3 70.5,49.7 71.4,51.1 72.6,52.5 74.2,54.0 76.4,55.5 79.2,57.2 84.5,59.6 90.6,61.9 96.2,63.5 109.0,66.5 114.6,68.1 137.3,76.3 140.1,77.6 143.0,79.5 144.6,80.9 150.0,86.6 151.8,88.0 154.2,89.5 155.7,90.0Z"/><path fill="#ee5a2d" fill-rule="evenodd" d="M158.1,88.0 161.3,88.8 164.1,89.1 171.2,89.0 179.9,88.0 198.1,85.2 200.9,85.2 200.9,-2.8 127.4,-2.8 127.4,0.0 123.1,1.8 112.8,5.7 110.1,7.1 107.9,8.5 104.6,11.4 102.3,14.2 101.3,15.6 99.9,18.5 98.6,22.7 97.4,28.4 96.6,31.2 96.1,32.7 94.8,35.0 93.4,36.8 92.0,38.1 89.1,40.1 84.9,42.6 83.1,44.0 82.1,45.4 81.9,46.9 82.3,48.3 84.0,51.1 86.5,54.0 88.0,55.4 89.8,56.8 92.1,58.2 95.1,59.6 99.1,61.1 111.8,64.2 118.9,66.3 138.7,73.4 141.5,74.6 144.3,76.2 146.7,78.1 151.6,83.8 153.0,85.2 155.7,87.0Z"/><path fill="#de3a2b" fill-rule="evenodd" d="M166.2,86.6 169.8,86.7 174.0,86.4 184.0,85.2 192.4,83.6 196.4,82.4 198.1,81.4 200.9,81.4 200.9,-2.8 136.4,-2.8 136.4,0.0 133.0,2.0 127.4,4.6 116.1,8.5 113.2,10.1 111.5,11.4 110.0,12.8 108.9,14.2 107.2,17.0 106.7,18.5 106.0,21.3 105.7,24.1 105.5,31.2 105.1,34.1 104.4,36.9 103.3,39.7 102.4,41.2 100.5,43.6 97.2,46.9 96.0,48.3 95.3,49.7 95.1,51.1 95.3,52.5 95.9,54.0 97.1,55.4 99.0,56.8 102.2,58.2 118.9,62.9 132.7,68.2 141.5,71.0 145.3,72.4 147.9,73.8 149.6,75.3 151.4,77.2 155.3,82.4 157.1,84.0 159.3,85.2 161.3,85.9 164.1,86.4Z"/><path fill="#cb1e2a" fill-rule="evenodd" d="M164.6,82.4 167.0,82.9 169.8,83.2 175.5,83.1 182.9,82.4 189.7,80.9 193.2,79.5 195.3,78.0 196.3,76.7 196.9,75.3 198.1,71.0 200.9,71.0 200.9,0.0 198.1,0.0 198.1,-2.8 147.1,-2.8 147.1,0.0 144.8,1.4 143.1,2.8 137.3,8.2 134.4,10.4 131.6,12.2 128.8,13.7 121.7,16.1 119.9,17.0 118.6,18.5 118.1,19.9 118.0,21.3 118.4,22.7 119.2,24.1 120.5,25.6 121.7,26.4 123.1,27.1 127.4,28.4 140.1,33.3 141.6,34.1 142.8,35.5 142.6,36.9 140.9,38.3 138.7,39.0 135.8,39.5 133.0,39.7 130.2,39.5 121.7,38.1 120.3,38.2 118.9,38.6 117.4,39.2 116.0,40.2 113.2,42.6 110.4,45.5 108.0,48.3 107.2,49.7 106.8,51.1 106.9,52.5 107.9,54.0 109.9,55.4 113.2,56.8 121.7,60.0 134.4,65.5 138.3,66.7 141.5,67.5 151.9,69.6 154.2,70.3 155.7,71.0 157.2,72.4 157.9,73.8 159.5,78.1 160.4,79.5 161.8,80.9ZM191.0,13.5 190.4,11.4 190.5,9.9 191.0,8.2 192.4,7.4 193.2,8.5 193.4,9.9 193.2,11.4 192.4,13.5Z"/><path fill="#b01a22" fill-rule="evenodd" d="M178.9,76.7 181.1,77.1 182.5,77.2 186.8,76.7 190.0,75.3 191.6,73.8 192.8,72.4 193.9,70.5 195.4,66.7 196.8,62.5 198.1,56.8 200.9,56.8 200.9,54.3 198.1,54.3 197.7,52.5 197.0,51.1 195.3,49.5 193.9,48.9 191.0,48.5 188.2,48.7 185.4,49.4 182.5,50.7 181.1,51.7 179.7,53.1 178.3,55.1 177.1,58.2 176.6,61.1 176.3,65.3 176.2,72.4 176.3,73.8 176.9,75.3ZM142.8,63.9 145.6,63.9 147.2,63.7 150.0,62.9 151.4,62.2 152.8,61.2 154.3,59.6 155.2,58.2 155.7,56.8 155.8,55.4 155.7,54.0 155.3,52.5 154.5,51.1 153.1,49.7 150.2,48.3 147.2,47.6 142.9,47.3 138.7,47.5 134.2,48.3 130.2,49.5 127.2,51.1 126.0,52.5 125.7,54.0 126.2,55.4 127.4,56.8 128.9,58.2 130.9,59.6 133.3,61.1 136.5,62.5 140.1,63.5ZM164.7,27.0 167.0,27.9 168.4,28.3 171.2,28.3 172.6,28.0 174.0,27.3 175.5,26.4 176.9,24.9 178.2,22.7 178.8,21.3 179.6,17.0 179.8,14.2 179.7,11.4 179.3,8.5 178.9,7.1 178.2,5.7 176.9,4.2 174.3,2.8 172.6,2.4 168.4,1.9 162.7,1.7 158.5,2.0 155.0,2.8 152.8,4.0 151.4,5.2 150.0,7.1 149.3,8.5 148.9,9.9 148.8,12.8 149.1,14.2 149.6,15.6 151.4,18.1 153.4,19.9 159.9,24.3Z"/><path fill="#8b161b" fill-rule="evenodd" d="M166.7,15.6 168.4,15.4 169.8,14.2 170.2,12.8 170.1,11.4 169.4,9.9 168.4,9.2 166.8,8.5 165.6,8.4 164.1,8.7 162.4,9.9 162.1,11.4 162.5,12.8 164.1,14.6 165.6,15.4Z"/></g>
<rect x="57.4" y="30.4" width="13.3" height="14.2" fill="#fff"/><rect x="59.4" y="21.3" width="4.5" height="9.1" fill="#fff"/><rect x="34.8" y="36.9" width="11.0" height="5.1" fill="#fff"/><rect x="163.6" y="67.0" width="13.6" height="8.2" fill="#fff"/><rect x="167.0" y="64.8" width="6.5" height="2.3" fill="#fff"/><rect x="83.5" y="23.3" width="10.8" height="5.7" fill="#fff"/>
<use href="#coast"/>
<path d="M68.9,1.0h0M80.2,1.0h0M193.4,1.0h0M63.3,6.7h0M74.6,6.7h0M85.9,6.7h0M97.2,6.7h0M108.5,6.7h0M142.5,6.7h0M153.8,6.7h0M165.1,6.7h0M176.5,6.7h0M187.8,6.7h0M57.6,12.4h0M80.2,12.4h0M91.6,12.4h0M125.5,12.4h0M136.8,12.4h0M148.2,12.4h0M159.5,12.4h0M170.8,12.4h0M182.1,12.4h0M193.4,12.4h0M40.6,18.1h0M51.9,18.1h0M74.6,18.1h0M85.9,18.1h0M97.2,18.1h0M108.5,18.1h0M119.9,18.1h0M131.2,18.1h0M142.5,18.1h0M153.8,18.1h0M165.1,18.1h0M176.5,18.1h0M187.8,18.1h0M35.0,23.7h0M46.3,23.7h0M68.9,23.7h0M80.2,23.7h0M114.2,23.7h0M125.5,23.7h0M136.8,23.7h0M148.2,23.7h0M159.5,23.7h0M170.8,23.7h0M182.1,23.7h0M193.4,23.7h0M40.6,29.4h0M85.9,29.4h0M97.2,29.4h0M108.5,29.4h0M119.9,29.4h0M131.2,29.4h0M142.5,29.4h0M153.8,29.4h0M165.1,29.4h0M176.5,29.4h0M187.8,29.4h0M35.0,35.1h0M46.3,35.1h0M80.2,35.1h0M91.6,35.1h0M102.9,35.1h0M114.2,35.1h0M125.5,35.1h0M136.8,35.1h0M148.2,35.1h0M159.5,35.1h0M170.8,35.1h0M182.1,35.1h0M193.4,35.1h0M74.6,40.8h0M85.9,40.8h0M97.2,40.8h0M108.5,40.8h0M119.9,40.8h0M131.2,40.8h0M142.5,40.8h0M153.8,40.8h0M165.1,40.8h0M176.5,40.8h0M187.8,40.8h0M35.0,46.5h0M46.3,46.5h0M57.6,46.5h0M68.9,46.5h0M80.2,46.5h0M91.6,46.5h0M102.9,46.5h0M114.2,46.5h0M125.5,46.5h0M136.8,46.5h0M148.2,46.5h0M159.5,46.5h0M170.8,46.5h0M182.1,46.5h0M193.4,46.5h0M29.3,52.1h0M40.6,52.1h0M51.9,52.1h0M63.3,52.1h0M74.6,52.1h0M85.9,52.1h0M97.2,52.1h0M108.5,52.1h0M119.9,52.1h0M131.2,52.1h0M142.5,52.1h0M153.8,52.1h0M165.1,52.1h0M176.5,52.1h0M187.8,52.1h0M35.0,57.8h0M46.3,57.8h0M57.6,57.8h0M68.9,57.8h0M80.2,57.8h0M91.6,57.8h0M102.9,57.8h0M114.2,57.8h0M125.5,57.8h0M136.8,57.8h0M148.2,57.8h0M159.5,57.8h0M170.8,57.8h0M182.1,57.8h0M193.4,57.8h0M29.3,63.5h0M40.6,63.5h0M51.9,63.5h0M63.3,63.5h0M74.6,63.5h0M85.9,63.5h0M97.2,63.5h0M108.5,63.5h0M119.9,63.5h0M131.2,63.5h0M142.5,63.5h0M153.8,63.5h0M165.1,63.5h0M176.5,63.5h0M187.8,63.5h0M35.0,69.2h0M46.3,69.2h0M57.6,69.2h0M68.9,69.2h0M80.2,69.2h0M114.2,69.2h0M125.5,69.2h0M159.5,69.2h0M182.1,69.2h0M193.4,69.2h0M51.9,74.9h0M63.3,74.9h0M74.6,74.9h0M119.9,74.9h0M131.2,74.9h0M153.8,74.9h0M187.8,74.9h0M57.6,80.5h0M68.9,80.5h0M125.5,80.5h0M136.8,80.5h0M159.5,80.5h0M170.8,80.5h0M182.1,80.5h0M193.4,80.5h0M63.3,86.2h0M85.9,86.2h0M97.2,86.2h0M108.5,86.2h0M119.9,86.2h0M131.2,86.2h0M153.8,86.2h0M165.1,86.2h0M176.5,86.2h0M187.8,86.2h0M91.6,91.9h0M102.9,91.9h0M114.2,91.9h0M125.5,91.9h0M136.8,91.9h0M159.5,91.9h0M170.8,91.9h0M182.1,91.9h0M193.4,91.9h0M108.5,97.6h0M119.9,97.6h0M131.2,97.6h0M142.5,97.6h0M153.8,97.6h0M165.1,97.6h0M176.5,97.6h0M114.2,103.3h0M125.5,103.3h0M136.8,103.3h0M148.2,103.3h0M159.5,103.3h0M119.9,108.9h0" stroke="#000" stroke-width="3.4" stroke-linecap="round" fill="none"/>
</g>
<rect x="0" y="0" width="198.1" height="142.0" fill="none" stroke="#000" stroke-width="1.1"/>
<path d="M-5.2,142.0h5.2M-5.2,113.6h5.2M-5.2,85.2h5.2M-5.2,56.8h5.2M-5.2,28.4h5.2M-5.2,0.0h5.2M0.0,142.0v5.2M56.6,142.0v5.2M113.2,142.0v5.2M169.8,142.0v5.2" stroke="#000" stroke-width="1" fill="none"/>
<path d="M-2.8,136.3h2.8M-2.8,130.6h2.8M-2.8,125.0h2.8M-2.8,119.3h2.8M-2.8,107.9h2.8M-2.8,102.2h2.8M-2.8,96.6h2.8M-2.8,90.9h2.8M-2.8,79.5h2.8M-2.8,73.8h2.8M-2.8,68.2h2.8M-2.8,62.5h2.8M-2.8,51.1h2.8M-2.8,45.4h2.8M-2.8,39.8h2.8M-2.8,34.1h2.8M-2.8,22.7h2.8M-2.8,17.0h2.8M-2.8,11.4h2.8M-2.8,5.7h2.8M14.2,142.0v2.8M28.3,142.0v2.8M42.5,142.0v2.8M70.8,142.0v2.8M84.9,142.0v2.8M99.0,142.0v2.8M127.4,142.0v2.8M141.5,142.0v2.8M155.7,142.0v2.8M184.0,142.0v2.8M198.1,142.0v2.8" stroke="#222" stroke-width="0.7" fill="none"/>
<text x="-12.5" y="146.5" font-size="12" text-anchor="end">20N</text>
<text x="-12.5" y="118.1" font-size="12" text-anchor="end">30N</text>
<text x="-12.5" y="89.7" font-size="12" text-anchor="end">40N</text>
<text x="-12.5" y="61.3" font-size="12" text-anchor="end">50N</text>
<text x="-12.5" y="32.9" font-size="12" text-anchor="end">60N</text>
<text x="-12.5" y="4.5" font-size="12" text-anchor="end">70N</text>
<text x="0.0" y="164.3" font-size="12" text-anchor="middle">0</text>
<text x="56.6" y="164.3" font-size="12" text-anchor="middle">20E</text>
<text x="113.2" y="164.3" font-size="12" text-anchor="middle">40E</text>
<text x="169.8" y="164.3" font-size="12" text-anchor="middle">60E</text>
<text x="-1.1" y="-9.2" font-size="11.6">(g) EOF1 (JRA55 LST)</text>
<text x="197.1" y="-7.9" font-size="11.6" text-anchor="end">27.6%</text>
</g>
<g transform="translate(33.6,252.2)">
<g clip-path="url(#frame)">
<g clip-path="url(#land)"><path fill="#fffcea" fill-rule="evenodd" d="M94.2,144.8 200.9,144.8 200.9,41.0 188.2,41.0 155.7,42.6 150.0,43.1 144.3,43.9 138.7,45.0 134.4,46.0 130.2,47.3 125.9,49.1 122.1,51.1 113.2,56.8 101.9,61.6 99.0,63.3 94.3,66.7 90.6,68.9 89.1,69.6 84.9,71.0 77.8,72.6 73.6,74.0 70.8,75.5 67.6,78.1 64.0,82.4 57.7,92.3 56.5,95.1 56.3,96.6 56.3,98.0 56.6,99.4 57.4,100.8 58.6,102.2 65.1,107.9 70.8,113.6 72.5,115.0 78.6,119.3 81.5,122.1 83.5,125.0 87.5,133.5 89.1,136.3 91.3,139.2 94.2,142.0Z"/><path fill="#fff3c6" fill-rule="evenodd" d="M113.2,144.8 149.2,144.8 149.2,142.0 152.8,139.2 154.2,138.4 155.7,137.8 157.1,137.6 158.5,137.7 159.9,138.3 161.3,139.6 161.8,140.6 162.0,142.0 162.0,144.8 200.9,144.8 200.9,44.0 192.4,43.7 186.8,43.8 159.9,45.2 154.2,45.7 148.6,46.4 142.9,47.5 138.7,48.6 134.4,50.1 130.2,52.3 118.9,59.9 107.5,66.0 99.0,71.0 96.0,72.4 93.4,73.4 83.5,76.0 79.2,77.5 75.5,79.5 73.8,80.9 72.5,82.4 71.5,83.8 70.1,86.6 69.4,89.5 69.0,92.3 69.1,93.7 69.6,96.6 70.1,98.0 71.5,100.8 73.6,103.7 75.0,105.3 77.8,107.9 83.5,112.2 84.9,113.6 86.3,115.4 88.4,119.3 92.7,130.6 94.2,133.5 96.4,136.3 99.0,138.6 101.9,139.9 104.7,140.6 110.4,141.4 113.2,142.0Z"/><path fill="#fbe794" fill-rule="evenodd" d="M127.4,144.8 141.5,144.8 141.5,142.0 144.3,140.4 150.0,135.5 152.8,133.5 155.7,132.3 158.5,131.9 161.6,132.1 165.6,133.2 168.4,134.9 169.8,136.3 170.6,137.7 170.9,139.2 170.6,140.6 169.8,142.0 169.8,144.8 184.0,144.8 184.0,142.0 185.4,140.7 188.2,139.5 191.0,139.0 193.9,139.2 195.3,139.6 196.7,140.4 198.1,142.0 200.9,142.0 200.9,46.7 191.0,46.3 185.4,46.3 165.6,47.2 158.5,47.8 152.8,48.6 147.2,49.6 142.9,50.6 138.7,52.2 135.2,54.0 122.8,62.5 103.3,74.2 100.5,75.5 97.6,76.5 86.3,79.3 83.5,80.3 82.1,81.0 79.9,82.4 77.8,84.4 76.6,86.6 76.0,89.5 76.0,90.9 76.4,93.2 77.1,95.1 77.8,96.6 79.2,98.7 81.1,100.8 83.5,102.8 89.1,107.0 90.6,108.4 92.0,110.2 93.8,113.6 97.6,125.1 99.0,127.8 100.2,129.2 101.9,130.7 104.7,132.1 110.4,133.4 113.2,134.3 116.0,135.8 123.1,140.1 127.4,142.0Z"/><path fill="#fdd06e" fill-rule="evenodd" d="M131.9,137.7 134.4,138.3 135.8,138.4 138.7,138.0 140.1,137.5 142.9,135.8 147.2,132.1 150.0,130.0 152.8,128.6 157.1,127.6 162.7,127.3 175.5,128.1 192.4,127.4 198.1,127.8 200.9,127.8 200.9,49.3 185.4,48.6 178.3,48.7 169.8,49.1 163.5,49.7 157.1,50.6 151.4,51.6 145.7,53.1 141.5,54.7 137.8,56.8 128.8,63.7 117.5,71.0 110.4,76.1 106.1,78.7 103.3,80.0 100.5,80.9 92.0,82.6 87.7,83.7 84.9,85.2 83.6,86.6 83.0,88.0 82.8,89.5 82.9,90.9 83.3,92.3 84.2,93.7 86.3,95.7 87.8,96.6 90.6,97.6 99.1,99.4 101.9,100.2 103.4,100.8 104.7,101.6 107.0,103.7 109.1,106.5 114.6,116.0 120.4,126.4 123.1,130.6 125.5,133.5 127.0,134.9 129.0,136.3Z"/><path fill="#feb945" fill-rule="evenodd" d="M135.8,127.8 137.3,128.4 138.7,128.6 140.1,128.3 147.2,125.3 150.0,124.4 152.8,123.9 157.1,123.4 168.4,122.7 174.0,122.0 179.7,120.9 189.6,118.4 192.4,117.8 195.3,117.6 200.9,117.8 200.9,51.9 198.1,51.9 191.0,51.3 184.0,51.0 176.9,51.0 171.2,51.3 165.6,51.8 159.9,52.7 153.9,54.0 149.1,55.4 145.7,56.8 143.2,58.2 141.5,59.5 134.4,66.2 131.6,68.4 123.2,73.8 119.8,76.7 117.0,79.5 114.8,82.4 113.2,85.2 112.9,86.6 113.0,88.0 113.4,89.5 121.7,105.5 124.2,109.3 129.3,116.4 130.9,119.3 133.5,125.0 134.4,126.5Z"/><path fill="#fc972d" fill-rule="evenodd" d="M148.3,117.9 152.8,118.8 157.1,119.0 162.7,118.9 168.4,118.3 174.0,117.1 178.3,115.8 192.4,110.1 195.3,109.5 200.9,109.7 200.9,55.0 198.1,55.0 189.4,54.0 181.1,53.5 174.0,53.5 167.0,54.1 160.5,55.4 154.2,57.3 152.1,58.2 149.5,59.6 147.6,61.1 146.1,62.5 145.0,63.9 143.3,66.7 140.1,74.3 138.7,76.7 137.3,78.3 135.8,79.4 130.2,82.4 128.8,83.5 127.4,85.2 126.1,88.0 125.8,89.5 125.7,92.3 126.4,96.6 127.3,99.4 128.9,102.2 131.1,105.1 134.4,108.2 144.3,115.8 145.7,116.7Z"/><path fill="#f77f2d" fill-rule="evenodd" d="M155.7,113.6 159.9,114.3 164.1,114.3 169.8,113.6 174.0,112.5 178.3,110.9 182.5,108.7 186.1,106.5 192.4,101.8 195.3,100.0 196.7,99.5 200.9,99.4 200.9,86.9 198.1,86.9 198.1,86.6 198.1,85.2 200.9,85.2 200.9,59.3 198.1,59.3 189.6,57.7 182.5,56.7 176.9,56.4 171.2,56.6 165.6,57.7 163.5,58.2 159.9,59.6 157.1,61.1 155.1,62.5 153.6,63.9 152.5,65.3 151.7,66.7 150.7,69.6 150.2,72.4 149.4,80.9 148.8,83.8 148.2,85.2 147.2,87.0 145.7,88.8 140.2,93.7 139.0,95.1 138.3,96.6 138.2,98.0 138.4,99.4 139.1,100.8 140.3,102.2 141.7,103.7 150.2,110.8 152.8,112.4Z"/><path fill="#ee5a2d" fill-rule="evenodd" d="M160.6,107.9 162.7,108.7 165.6,109.1 169.8,108.9 174.0,107.7 176.6,106.5 178.3,105.5 180.7,103.7 182.1,102.2 183.2,100.8 184.0,99.4 184.3,98.0 184.4,96.6 184.1,95.1 183.4,93.7 182.0,92.3 179.7,91.1 176.9,90.3 172.6,89.7 168.4,89.7 164.1,90.2 161.9,90.9 159.9,92.0 158.1,93.7 156.4,96.6 155.6,99.4 155.7,100.8 155.9,102.2 156.4,103.7 157.2,105.1 158.5,106.5ZM169.8,66.7 172.6,67.3 176.9,67.4 180.0,66.7 181.4,65.3 180.3,63.9 179.7,63.7 176.9,62.9 174.0,62.8 172.6,63.0 170.1,63.9 168.9,65.3Z"/><path fill="#f6fbfe" fill-rule="evenodd" d="M-2.8,90.9 -2.8,91.5 0.0,91.5 5.7,90.7 11.3,89.7 18.4,88.1 24.1,86.6 28.3,85.2 31.1,83.9 33.3,82.4 35.4,80.4 41.0,72.6 43.9,69.6 47.3,66.7 60.4,56.8 63.7,54.6 67.2,52.5 78.1,46.9 81.0,45.4 84.9,44.0 89.1,42.9 100.5,41.0 111.8,38.4 120.3,37.3 140.1,36.1 157.1,34.2 162.7,34.1 184.0,34.3 192.4,33.9 198.1,33.4 200.9,33.4 200.9,-2.8 -2.8,-2.8Z"/><path fill="#e5f5fd" fill-rule="evenodd" d="M-2.8,83.8 -2.8,85.2 0.0,85.2 6.0,83.8 10.8,82.4 14.7,80.9 17.7,79.5 21.2,77.4 24.1,75.2 45.3,54.0 48.1,51.7 50.9,49.7 53.8,48.2 58.0,46.4 69.3,43.1 82.1,38.9 87.7,37.6 99.0,36.0 113.2,33.4 120.3,32.4 127.4,31.6 141.5,30.8 154.2,29.5 159.9,29.1 167.0,29.2 181.1,30.2 186.8,30.3 192.4,30.1 198.1,29.2 200.9,29.2 200.9,-2.8 -2.8,-2.8Z"/><path fill="#d4ecfa" fill-rule="evenodd" d="M-2.8,76.7 -2.8,76.9 0.0,76.9 4.2,76.0 8.5,74.5 12.7,72.0 14.2,71.0 17.3,68.2 27.1,58.2 29.3,55.4 33.0,49.7 35.6,46.9 38.2,44.8 41.0,43.3 43.9,42.1 48.1,40.8 53.8,39.5 67.9,37.4 80.7,34.4 86.3,33.3 121.7,27.9 128.8,27.0 158.5,24.9 168.4,25.1 181.1,26.4 186.8,26.7 192.4,26.5 195.3,26.1 198.1,25.4 200.9,25.4 200.9,-2.8 -2.8,-2.8Z"/><path fill="#b9e4f8" fill-rule="evenodd" d="M-2.8,59.6 -2.8,60.5 0.0,60.5 0.2,59.6 0.3,58.2 0.0,56.8 -2.8,56.8ZM21.6,35.5 24.1,36.1 26.9,36.4 31.1,36.2 45.3,33.7 67.9,32.0 97.6,27.3 124.5,23.5 137.3,22.2 151.4,21.3 161.3,21.1 168.4,21.5 182.5,23.1 188.2,23.4 193.9,23.0 198.1,21.9 200.9,21.9 200.9,-2.8 21.4,-2.8 21.4,0.0 19.8,1.3 15.6,3.9 8.5,7.1 6.0,8.5 2.8,11.0 0.0,14.2 -2.8,14.2 -2.8,28.4 0.0,28.4 1.4,27.6 2.8,27.3 4.2,27.4 5.7,27.7 7.1,28.1 9.9,29.5 17.9,34.1Z"/><path fill="#a5daf5" fill-rule="evenodd" d="M43.8,25.6 53.8,26.2 60.8,26.4 67.9,26.3 76.4,25.7 86.3,24.7 99.0,22.8 113.2,21.3 130.2,18.9 138.7,18.0 145.7,17.5 154.2,17.3 162.7,17.6 169.8,18.3 181.1,19.8 186.8,20.2 192.4,19.9 195.3,19.4 198.1,18.6 200.9,18.6 200.9,-2.8 35.8,-2.8 35.8,0.0 32.4,5.7 29.5,11.4 28.3,14.2 27.5,17.0 27.5,18.5 27.7,19.9 28.3,21.3 29.5,22.7 31.9,24.1 35.4,24.9Z"/><path fill="#82c4e8" fill-rule="evenodd" d="M70.6,19.9 79.2,20.5 86.3,20.2 100.5,18.0 114.6,16.9 137.3,13.7 144.3,13.1 151.4,13.1 159.9,13.7 168.4,14.7 179.7,16.4 185.4,16.9 191.0,16.8 195.3,16.1 198.1,15.2 200.9,15.2 200.9,-2.8 47.7,-2.8 47.7,0.0 46.3,4.3 45.9,7.1 46.1,9.9 46.7,11.4 48.1,13.4 49.0,14.2 51.2,15.6 55.2,17.2 60.8,18.6Z"/><path fill="#69acde" fill-rule="evenodd" d="M75.7,14.2 79.2,14.9 82.1,15.2 84.9,15.3 87.7,15.1 100.5,12.9 113.2,12.0 118.9,11.4 127.4,9.9 137.3,7.9 142.9,7.4 147.2,7.6 152.8,8.3 181.1,13.2 186.8,13.7 192.4,13.3 195.3,12.7 198.1,11.7 200.9,11.7 200.9,-2.8 56.6,-2.8 56.6,0.0 57.4,2.8 59.0,5.7 60.8,7.6 63.7,9.6 66.5,11.0 71.1,12.8Z"/><path fill="#468ac8" fill-rule="evenodd" d="M183.5,9.9 186.8,10.1 191.0,9.9 195.3,9.0 198.1,7.9 200.9,7.9 200.9,-2.8 155.6,-2.8 155.6,0.0 156.7,1.4 158.7,2.8 161.5,4.3 165.2,5.7 174.0,8.2 179.7,9.4ZM79.8,8.5 82.1,9.0 84.9,9.3 89.1,8.9 92.0,8.3 100.5,6.0 110.4,4.0 113.2,2.8 113.9,1.4 113.2,0.0 113.2,-2.8 65.4,-2.8 65.4,0.0 67.9,2.4 70.5,4.3 73.6,6.0 76.4,7.3Z"/><path fill="#346fb6" fill-rule="evenodd" d="M182.5,5.7 186.8,6.1 191.0,5.8 195.3,4.7 198.1,3.2 200.9,3.2 200.9,-2.8 169.8,-2.8 169.8,0.0 171.2,1.4 173.5,2.8 176.8,4.3ZM82.0,0.0 84.9,0.0 84.9,-2.8 82.0,-2.8Z"/><path fill="#2453a0" fill-rule="evenodd" d="M184.0,0.0 185.4,0.3 188.2,0.6 189.6,0.5 192.2,0.0 192.2,-2.8 184.0,-2.8Z"/></g>

<use href="#coast"/>
<path d="M46.0,5.1h0M57.3,5.1h0M68.6,5.1h0M79.9,5.1h0M91.3,5.1h0M102.6,5.1h0M125.2,5.1h0M159.2,5.1h0M170.5,5.1h0M181.8,5.1h0M40.3,10.8h0M51.6,10.8h0M63.0,10.8h0M74.3,10.8h0M85.6,10.8h0M130.9,10.8h0M142.2,10.8h0M153.5,10.8h0M164.8,10.8h0M176.2,10.8h0M187.5,10.8h0M34.7,16.5h0M46.0,16.5h0M57.3,16.5h0M79.9,16.5h0M91.3,16.5h0M113.9,16.5h0M125.2,16.5h0M136.5,16.5h0M147.9,16.5h0M159.2,16.5h0M170.5,16.5h0M181.8,16.5h0M193.1,16.5h0M17.7,22.2h0M29.0,22.2h0M40.3,22.2h0M63.0,22.2h0M74.3,22.2h0M85.6,22.2h0M108.2,22.2h0M119.6,22.2h0M130.9,22.2h0M142.2,22.2h0M153.5,22.2h0M164.8,22.2h0M176.2,22.2h0M187.5,22.2h0M23.3,27.8h0M34.7,27.8h0M46.0,27.8h0M102.6,27.8h0M113.9,27.8h0M125.2,27.8h0M136.5,27.8h0M181.8,27.8h0M40.3,33.5h0M74.3,33.5h0M85.6,33.5h0M96.9,33.5h0M108.2,33.5h0M68.6,39.2h0M23.3,50.6h0M34.7,50.6h0M147.9,50.6h0M159.2,50.6h0M170.5,50.6h0M181.8,50.6h0M193.1,50.6h0M6.4,56.2h0M17.7,56.2h0M29.0,56.2h0M40.3,56.2h0M142.2,56.2h0M153.5,56.2h0M164.8,56.2h0M176.2,56.2h0M187.5,56.2h0M12.0,61.9h0M23.3,61.9h0M34.7,61.9h0M46.0,61.9h0M125.2,61.9h0M136.5,61.9h0M147.9,61.9h0M159.2,61.9h0M170.5,61.9h0M181.8,61.9h0M193.1,61.9h0M6.4,67.6h0M17.7,67.6h0M29.0,67.6h0M40.3,67.6h0M119.6,67.6h0M130.9,67.6h0M153.5,67.6h0M164.8,67.6h0M176.2,67.6h0M187.5,67.6h0M12.0,73.3h0M113.9,73.3h0M125.2,73.3h0M147.9,73.3h0M159.2,73.3h0M181.8,73.3h0M193.1,73.3h0M6.4,79.0h0M119.6,79.0h0M130.9,79.0h0M164.8,79.0h0M176.2,79.0h0M187.5,79.0h0M91.3,84.6h0M102.6,84.6h0M113.9,84.6h0M125.2,84.6h0M136.5,84.6h0M159.2,84.6h0M170.5,84.6h0M181.8,84.6h0M193.1,84.6h0M85.6,90.3h0M96.9,90.3h0M108.2,90.3h0M119.6,90.3h0M130.9,90.3h0M153.5,90.3h0M164.8,90.3h0M176.2,90.3h0M187.5,90.3h0M102.6,96.0h0M113.9,96.0h0M125.2,96.0h0M136.5,96.0h0M147.9,96.0h0M159.2,96.0h0M170.5,96.0h0M181.8,96.0h0M193.1,96.0h0M108.2,101.7h0M119.6,101.7h0M130.9,101.7h0M142.2,101.7h0M153.5,101.7h0M164.8,101.7h0M176.2,101.7h0M187.5,101.7h0M102.6,107.4h0M113.9,107.4h0M125.2,107.4h0M136.5,107.4h0M147.9,107.4h0M159.2,107.4h0M170.5,107.4h0M181.8,107.4h0M193.1,107.4h0M108.2,113.0h0M119.6,113.0h0M130.9,113.0h0M153.5,113.0h0M164.8,113.0h0M176.2,113.0h0M187.5,113.0h0M102.6,118.7h0M113.9,118.7h0M125.2,118.7h0M136.5,118.7h0M147.9,118.7h0M159.2,118.7h0M170.5,118.7h0M181.8,118.7h0M193.1,118.7h0M108.2,124.4h0M119.6,124.4h0M130.9,124.4h0M164.8,124.4h0M176.2,124.4h0M187.5,124.4h0M113.9,130.1h0M125.2,130.1h0M136.5,130.1h0M159.2,130.1h0M193.1,130.1h0M119.6,135.8h0M130.9,135.8h0M142.2,135.8h0" stroke="#000" stroke-width="3.4" stroke-linecap="round" fill="none"/>
</g>
<rect x="0" y="0" width="198.1" height="142.0" fill="none" stroke="#000" stroke-width="1.1"/>
<path d="M-5.2,142.0h5.2M-5.2,113.6h5.2M-5.2,85.2h5.2M-5.2,56.8h5.2M-5.2,28.4h5.2M-5.2,0.0h5.2M0.0,142.0v5.2M56.6,142.0v5.2M113.2,142.0v5.2M169.8,142.0v5.2" stroke="#000" stroke-width="1" fill="none"/>
<path d="M-2.8,136.3h2.8M-2.8,130.6h2.8M-2.8,125.0h2.8M-2.8,119.3h2.8M-2.8,107.9h2.8M-2.8,102.2h2.8M-2.8,96.6h2.8M-2.8,90.9h2.8M-2.8,79.5h2.8M-2.8,73.8h2.8M-2.8,68.2h2.8M-2.8,62.5h2.8M-2.8,51.1h2.8M-2.8,45.4h2.8M-2.8,39.8h2.8M-2.8,34.1h2.8M-2.8,22.7h2.8M-2.8,17.0h2.8M-2.8,11.4h2.8M-2.8,5.7h2.8M14.2,142.0v2.8M28.3,142.0v2.8M42.5,142.0v2.8M70.8,142.0v2.8M84.9,142.0v2.8M99.0,142.0v2.8M127.4,142.0v2.8M141.5,142.0v2.8M155.7,142.0v2.8M184.0,142.0v2.8M198.1,142.0v2.8" stroke="#222" stroke-width="0.7" fill="none"/>
<text x="-12.5" y="146.5" font-size="12" text-anchor="end">20N</text>
<text x="-12.5" y="118.1" font-size="12" text-anchor="end">30N</text>
<text x="-12.5" y="89.7" font-size="12" text-anchor="end">40N</text>
<text x="-12.5" y="61.3" font-size="12" text-anchor="end">50N</text>
<text x="-12.5" y="32.9" font-size="12" text-anchor="end">60N</text>
<text x="-12.5" y="4.5" font-size="12" text-anchor="end">70N</text>
<text x="0.0" y="164.3" font-size="12" text-anchor="middle">0</text>
<text x="56.6" y="164.3" font-size="12" text-anchor="middle">20E</text>
<text x="113.2" y="164.3" font-size="12" text-anchor="middle">40E</text>
<text x="169.8" y="164.3" font-size="12" text-anchor="middle">60E</text>
<text x="-1.1" y="-9.2" font-size="11.6">(b) EOF2 (CRU)</text>
<text x="197.1" y="-7.9" font-size="11.6" text-anchor="end">19.6%</text>
</g>
<g transform="translate(289.1,252.2)">
<g clip-path="url(#frame)">
<g clip-path="url(#land)"><path fill="#fffcea" fill-rule="evenodd" d="M90.8,144.8 141.5,144.8 141.5,142.0 144.3,141.4 145.5,140.6 147.0,134.9 148.2,132.1 149.3,130.6 151.4,128.9 152.8,128.3 155.7,127.8 157.1,127.9 159.9,128.7 161.3,129.3 163.2,130.6 164.6,132.1 165.5,133.5 166.1,134.9 166.3,136.3 166.0,137.7 164.8,139.2 162.7,140.0 161.3,140.4 147.2,141.7 146.5,142.0 146.5,144.8 200.9,144.8 200.9,40.4 192.4,40.3 171.2,38.8 142.9,38.4 134.4,39.0 120.3,40.6 114.6,41.4 107.5,43.0 100.5,44.8 94.8,46.4 90.6,47.9 87.3,49.7 85.5,51.1 80.9,55.4 78.2,56.8 75.0,57.6 65.1,59.1 58.0,60.6 55.2,61.4 52.4,62.6 50.0,63.9 48.2,65.3 46.7,67.1 45.5,69.6 45.3,71.0 45.3,73.8 46.2,78.1 48.3,85.2 49.8,90.9 50.8,93.7 51.5,95.1 52.6,96.6 54.1,98.0 55.2,98.7 60.8,101.4 62.3,102.2 64.0,103.7 66.1,106.5 69.3,112.1 70.8,113.6 73.2,115.0 77.8,117.0 79.2,118.0 80.7,119.3 82.1,121.3 83.5,124.1 87.0,133.5 90.8,142.0Z"/><path fill="#fff3c6" fill-rule="evenodd" d="M95.0,144.8 132.7,144.8 132.7,142.0 134.4,140.8 139.8,137.7 141.4,136.3 142.9,134.1 144.8,130.6 145.8,129.2 147.2,127.8 149.5,126.4 151.4,125.7 152.8,125.4 155.7,125.3 159.9,125.9 162.7,127.0 164.3,127.8 166.3,129.2 169.1,132.1 170.8,134.9 171.4,136.3 171.8,137.7 171.9,139.2 171.6,140.6 171.2,141.0 169.8,142.0 169.8,144.8 200.9,144.8 200.9,44.4 191.0,44.3 176.9,43.0 169.8,42.6 145.7,42.5 140.1,42.7 133.0,43.1 118.9,44.6 111.8,45.9 104.7,47.8 99.0,49.9 96.4,51.1 94.1,52.5 92.4,54.0 91.2,55.4 90.4,56.8 90.0,58.2 90.0,59.6 90.1,61.1 91.0,63.9 91.1,65.3 90.6,66.1 89.1,66.1 87.7,65.4 85.6,63.9 83.5,62.7 80.7,61.7 76.4,61.0 70.8,60.7 63.7,61.4 58.0,62.7 53.8,64.4 52.2,65.3 50.4,66.7 49.2,68.2 48.4,69.6 47.9,71.0 47.7,73.8 48.1,76.7 49.3,80.9 50.9,85.7 52.6,89.5 53.8,91.4 54.6,92.3 56.6,93.9 59.4,95.1 66.5,96.8 69.3,98.2 70.8,99.4 76.2,105.1 81.4,109.3 83.5,111.5 84.9,113.6 86.3,116.7 89.9,127.8 94.2,139.2 95.0,142.0ZM120.3,75.4 120.3,75.2Z"/><path fill="#fbe794" fill-rule="evenodd" d="M99.1,144.8 127.4,144.8 127.4,142.0 128.7,139.2 129.8,137.7 131.6,136.2 135.8,133.6 137.3,132.6 138.7,131.2 142.9,126.3 144.7,125.0 147.2,123.9 150.0,123.3 154.2,123.0 159.4,123.5 164.1,124.9 167.5,126.4 171.8,129.2 173.5,130.6 176.3,133.5 179.7,138.3 181.1,140.0 182.5,141.1 184.0,142.0 184.0,144.8 198.1,144.8 198.1,142.0 200.9,142.0 200.9,47.5 191.0,47.6 174.0,45.9 165.6,45.5 134.4,46.1 127.4,46.5 121.7,47.2 114.6,48.5 109.0,50.2 106.4,51.1 103.5,52.5 101.3,54.0 100.5,54.8 99.9,55.4 99.0,56.8 98.7,58.2 98.8,59.6 100.3,65.3 100.5,66.7 100.5,68.2 100.0,69.6 99.1,71.0 97.6,72.0 96.2,72.6 94.8,73.0 92.0,73.3 89.1,73.0 87.7,72.6 84.9,71.0 80.6,66.7 78.8,65.3 75.8,63.9 72.2,63.1 69.3,62.9 66.5,63.0 60.8,64.0 56.6,65.4 54.2,66.7 52.4,68.2 51.3,69.6 50.5,71.0 50.2,72.4 50.1,75.3 50.6,78.1 52.0,82.4 53.8,86.0 55.2,88.1 56.6,89.5 58.0,90.3 59.4,90.9 62.3,91.3 67.9,91.6 69.3,91.9 70.8,92.5 72.2,93.4 73.6,94.6 78.3,99.4 84.8,105.1 87.1,107.9 87.9,109.3 89.1,112.2 93.1,125.0 97.7,136.3 98.8,140.6 99.1,142.0ZM120.3,77.0 119.3,76.7 118.9,76.1 118.6,75.3 118.9,74.8 120.3,73.9 121.8,75.3 121.0,76.7Z"/><path fill="#fdd06e" fill-rule="evenodd" d="M103.6,144.8 122.2,144.8 122.3,140.6 123.2,134.9 124.5,131.3 125.9,129.2 127.4,127.8 128.8,126.8 135.0,123.5 138.0,122.1 141.5,121.1 144.3,120.7 148.6,120.6 154.2,120.9 159.9,121.5 165.6,122.7 179.7,127.0 185.4,128.0 188.2,127.9 189.6,127.7 192.4,127.0 193.9,126.4 196.7,125.8 198.1,126.0 200.9,126.0 200.9,50.3 198.1,50.3 193.9,50.6 189.6,50.6 174.0,48.7 165.6,48.3 145.7,49.0 128.8,49.2 123.1,49.8 117.4,50.9 113.2,52.3 110.4,53.5 107.5,55.2 106.1,56.6 105.2,58.2 105.0,59.6 105.0,61.1 105.6,66.7 105.3,69.6 104.8,71.0 103.3,72.9 102.2,73.8 100.5,74.9 97.6,75.9 94.8,76.4 92.0,76.5 89.1,76.3 86.3,75.7 84.9,75.2 83.5,74.3 82.1,73.2 78.9,69.6 76.4,67.4 73.6,65.9 70.8,65.2 66.5,65.0 63.7,65.4 60.8,66.0 58.8,66.7 56.6,67.8 54.4,69.6 53.3,71.0 52.8,72.4 52.5,73.8 52.6,76.7 53.9,80.9 55.2,83.4 56.6,85.2 58.0,86.3 59.4,87.0 60.8,87.3 63.7,87.5 69.3,87.2 70.8,87.4 72.4,88.0 73.6,88.8 75.0,90.0 79.2,94.6 81.3,96.6 88.4,102.2 90.8,105.1 91.5,106.5 92.6,109.3 94.8,117.7 96.2,121.7 101.1,132.1 102.1,134.9 102.9,137.7 103.4,140.6 103.6,142.0ZM118.9,77.4 118.1,76.7 117.8,75.3 118.4,73.8 118.9,73.4 120.3,73.0 121.7,73.5 122.0,73.8 122.5,75.3 122.2,76.7 121.7,77.2 120.3,77.8ZM196.3,133.5 198.1,134.1 200.9,134.1 200.9,127.8 198.1,127.8 196.4,130.6 195.8,132.1Z"/><path fill="#feb945" fill-rule="evenodd" d="M113.2,144.8 113.2,142.0 114.0,140.6 114.6,138.1 114.6,134.6 113.6,129.2 111.6,123.5 111.2,120.7 111.6,116.4 112.1,115.0 113.2,113.6 114.6,113.5 116.0,114.1 120.0,116.4 123.1,117.3 127.4,117.5 134.4,116.6 138.7,116.5 141.5,116.8 152.8,118.6 174.0,120.9 178.3,120.9 184.0,120.2 192.4,118.5 198.1,116.7 200.9,116.7 200.9,85.2 198.1,85.2 197.8,83.8 198.1,83.2 200.9,83.2 200.9,52.9 198.1,52.9 192.4,53.6 188.2,53.5 184.0,53.1 172.6,51.5 168.4,51.1 164.1,51.1 142.9,52.3 128.8,52.2 124.5,52.7 120.3,53.6 115.5,55.4 113.2,56.8 111.9,58.2 111.1,59.6 110.8,61.1 110.9,66.7 110.5,69.6 110.0,71.0 109.1,72.4 108.0,73.8 106.1,75.5 103.3,77.3 100.5,78.5 96.2,79.3 92.0,79.5 87.7,79.4 84.9,79.0 82.1,78.3 80.7,77.4 79.2,76.0 75.9,71.0 74.5,69.6 72.3,68.2 70.8,67.6 69.3,67.3 66.5,67.2 62.3,67.8 60.8,68.3 58.2,69.6 56.6,71.0 55.7,72.4 55.2,73.8 55.1,75.3 55.2,76.7 56.2,79.5 57.0,80.9 58.0,82.1 59.4,83.0 60.8,83.5 62.3,83.8 65.1,83.7 70.8,83.1 73.6,83.3 75.0,83.8 76.8,85.2 81.0,90.9 83.5,93.5 86.3,95.6 92.8,99.4 94.6,100.8 95.9,102.2 96.8,103.7 97.4,105.1 98.1,107.9 99.0,113.6 100.5,117.1 101.9,119.3 107.4,125.0 108.4,126.4 109.6,130.6 110.5,137.7 111.8,141.3 113.2,142.0ZM118.9,78.2 117.1,76.7 116.7,75.3 117.0,73.8 117.4,73.2 118.9,72.1 120.3,71.8 121.7,72.3 123.1,73.8 123.4,75.3 123.0,76.7 121.7,78.0 121.4,78.1 120.3,78.5Z"/><path fill="#fc972d" fill-rule="evenodd" d="M152.4,116.4 157.1,117.1 162.7,117.3 178.3,116.8 189.6,115.8 195.3,114.6 198.1,113.6 200.9,113.6 200.9,88.5 198.1,88.5 193.3,85.2 191.6,83.8 190.6,82.4 191.1,80.9 193.9,79.8 198.1,79.2 200.9,79.2 200.9,55.5 198.1,55.5 192.4,56.6 186.8,57.0 181.1,56.5 174.0,55.1 169.8,54.5 162.7,54.3 154.2,54.9 144.3,56.5 140.1,56.9 131.6,56.6 127.3,56.8 123.2,58.2 121.7,59.6 121.4,61.1 122.2,62.5 123.1,63.1 124.5,63.6 130.2,64.3 133.0,64.9 134.4,65.4 137.0,66.7 138.7,68.1 144.3,73.7 150.0,78.1 151.2,79.5 151.4,81.1 149.7,82.4 147.2,82.4 145.7,82.0 144.3,81.4 142.9,80.3 138.7,75.3 137.3,74.1 135.8,73.2 131.6,71.8 128.8,71.2 125.9,71.0 124.6,72.4 124.4,75.3 123.9,76.7 122.7,78.1 121.7,78.8 120.3,79.1 118.9,79.0 117.0,78.1 115.7,76.7 114.6,74.8 113.2,75.0 107.5,79.4 106.1,80.3 103.3,81.5 99.0,82.5 90.6,83.2 87.7,83.6 86.3,84.1 84.9,85.2 84.7,86.6 85.1,88.0 86.3,89.8 87.5,90.9 89.1,92.0 92.0,93.3 94.8,94.3 99.0,95.4 107.5,97.2 110.4,98.1 113.2,99.4 117.8,102.2 120.3,104.3 124.5,108.2 125.9,109.3 128.4,110.8 131.6,111.8 141.5,113.6 148.6,115.6ZM62.2,79.5 63.7,79.8 66.5,79.6 69.3,78.8 70.8,78.1 72.4,76.7 72.9,75.3 72.8,73.8 72.1,72.4 70.7,71.0 69.3,70.4 66.5,69.9 63.7,70.3 61.7,71.0 60.8,71.6 59.9,72.4 59.4,73.1 59.0,73.8 58.8,75.3 59.1,76.7 59.9,78.1 60.8,78.9Z"/><path fill="#f77f2d" fill-rule="evenodd" d="M149.9,113.6 155.7,114.8 159.9,114.9 162.7,114.7 169.8,113.6 172.6,113.4 184.0,113.6 189.6,113.4 193.9,112.8 198.1,111.4 200.9,111.4 200.9,90.5 198.1,90.5 195.3,88.8 193.9,88.1 188.2,86.1 182.5,84.9 178.3,84.5 175.5,84.4 172.6,84.7 168.4,85.5 162.7,87.0 158.5,87.5 151.4,87.6 145.7,86.9 144.3,86.5 141.5,85.2 139.7,83.8 135.5,79.5 133.0,77.7 130.2,76.3 127.4,75.7 125.9,76.2 124.1,78.1 123.1,78.9 121.7,79.6 120.3,80.0 118.9,80.1 116.0,79.4 114.6,79.5 112.8,80.9 110.3,83.8 109.3,85.2 108.9,86.6 109.1,88.0 109.9,89.5 111.2,90.9 114.3,93.7 121.8,99.4 129.8,106.5 132.1,107.9 134.4,108.9ZM190.7,75.3 193.9,76.0 196.7,76.5 200.9,76.7 200.9,58.1 198.1,58.1 189.0,61.1 185.4,62.5 184.0,63.4 183.2,63.9 182.2,65.3 182.1,66.7 182.4,68.2 183.0,69.6 184.0,71.0 185.3,72.4 187.4,73.8ZM155.7,71.0 157.1,71.1 158.3,71.0 159.9,70.5 161.3,69.7 163.3,68.2 166.2,65.3 167.3,63.9 167.8,62.5 167.1,61.1 165.6,60.2 163.7,59.6 161.3,59.4 158.5,59.4 156.4,59.6 154.2,60.2 152.3,61.1 151.4,61.7 150.6,62.5 149.9,63.9 149.9,65.3 150.4,66.7 151.3,68.2 152.7,69.6 154.2,70.5Z"/><path fill="#ee5a2d" fill-rule="evenodd" d="M154.2,112.2 157.1,112.4 159.9,112.2 162.7,111.5 168.4,109.6 169.8,109.4 172.6,109.5 182.5,111.2 188.2,111.5 191.0,111.4 193.9,110.9 196.7,110.1 198.1,109.4 200.9,109.4 200.9,92.3 198.1,92.3 195.3,90.6 191.0,89.0 188.2,88.4 184.0,88.0 179.7,88.2 176.9,88.6 173.9,89.5 168.4,91.8 165.6,92.4 161.3,92.2 147.2,90.0 142.9,89.0 140.1,87.8 137.3,85.8 133.7,82.4 131.6,80.7 129.3,79.5 127.4,79.0 125.9,79.1 123.1,80.4 117.6,82.4 116.5,83.8 116.0,85.2 115.9,86.6 116.2,88.0 116.8,89.5 117.7,90.9 120.4,93.7 125.9,98.1 131.6,103.6 133.0,104.7 136.0,106.5 139.4,107.9 148.6,110.8ZM196.9,73.8 198.1,74.2 200.9,74.2 200.9,61.0 198.1,61.0 195.4,62.5 193.4,63.9 192.0,65.3 191.2,66.7 190.9,68.2 191.2,69.6 192.1,71.0 193.9,72.4Z"/><path fill="#de3a2b" fill-rule="evenodd" d="M154.0,109.3 156.2,109.3 158.5,108.9 160.8,107.9 162.7,106.5 164.0,105.1 165.0,103.7 165.6,102.2 165.4,100.8 164.3,99.4 162.5,98.0 160.2,96.6 155.7,94.7 151.4,93.5 141.5,91.5 138.7,90.6 135.8,89.0 131.6,85.0 130.2,83.8 128.8,83.0 127.3,82.5 125.9,82.4 124.5,82.7 122.4,83.8 121.7,84.6 121.3,85.2 121.0,86.6 121.3,88.0 122.0,89.5 123.1,90.9 124.5,92.2 129.7,96.6 133.4,100.8 135.8,103.0 139.2,105.1 142.7,106.5 148.6,108.3ZM183.8,109.3 186.8,109.7 191.0,109.7 195.3,108.8 198.1,107.4 200.9,107.4 200.9,94.1 198.1,94.1 195.3,92.2 193.9,91.6 191.0,90.8 188.2,90.4 185.4,90.2 182.5,90.4 179.7,91.0 176.5,92.3 174.0,94.0 172.7,95.1 170.5,98.0 169.8,99.4 169.5,100.8 170.1,102.2 171.5,103.7 173.2,105.1 175.5,106.5 179.7,108.3ZM197.0,69.6 198.1,71.0 200.9,71.0 200.9,65.0 198.1,65.0 197.8,65.3 196.9,66.7 196.7,68.2Z"/><path fill="#cb1e2a" fill-rule="evenodd" d="M185.9,107.9 189.6,108.2 192.4,107.9 195.3,107.1 196.7,106.4 198.1,105.3 200.9,105.2 200.9,96.1 198.1,96.1 196.7,94.8 193.9,93.3 191.0,92.5 188.2,92.2 185.4,92.3 182.5,92.8 180.1,93.7 178.0,95.1 176.7,96.6 175.9,98.0 175.6,99.4 175.7,100.8 176.2,102.2 177.2,103.7 178.8,105.1 179.7,105.7 182.5,107.1ZM148.3,105.1 151.4,105.4 152.8,105.4 154.5,105.1 155.7,104.4 156.4,103.7 156.9,102.2 156.6,100.8 155.7,99.4 153.8,98.0 150.5,96.6 148.6,96.0 144.3,95.2 141.5,95.0 138.7,95.3 137.3,96.3 137.0,96.6 137.0,98.0 137.5,99.4 138.6,100.8 140.1,102.0 143.3,103.7Z"/><path fill="#b01a22" fill-rule="evenodd" d="M186.3,106.5 188.2,106.8 191.0,106.7 193.9,106.0 195.3,105.3 197.2,103.7 198.1,102.1 199.5,101.6 200.9,101.4 200.9,99.4 198.1,99.1 197.5,98.0 196.3,96.6 194.0,95.1 192.4,94.6 191.0,94.3 188.2,94.1 185.4,94.4 183.2,95.1 181.0,96.6 179.8,98.0 179.3,99.4 179.3,100.8 179.8,102.2 181.1,104.0 182.5,105.1 184.0,105.8Z"/><path fill="#8b161b" fill-rule="evenodd" d="M186.2,105.1 188.2,105.5 189.6,105.5 191.9,105.1 193.9,104.2 194.7,103.7 195.9,102.2 196.3,100.8 196.0,99.4 195.0,98.0 193.9,97.2 192.4,96.5 191.0,96.2 188.2,96.1 186.8,96.3 185.4,96.7 184.0,97.5 183.4,98.0 182.3,99.4 182.1,100.8 182.4,102.2 183.5,103.7 185.4,104.8Z"/><path fill="#f6fbfe" fill-rule="evenodd" d="M37.1,90.9 38.2,91.1 39.6,90.9 41.0,90.0 42.1,88.0 42.4,86.6 42.2,83.8 40.1,76.7 39.3,72.4 39.3,68.2 39.8,65.3 40.4,63.9 41.1,62.5 42.3,61.1 45.3,58.9 48.1,57.6 57.5,54.0 60.4,52.5 62.2,51.1 62.8,49.7 62.4,48.3 61.1,46.9 58.0,44.4 56.6,42.6 56.3,41.2 56.4,39.8 56.8,38.3 57.5,36.9 59.4,34.3 60.9,32.7 63.7,30.5 66.5,29.2 70.8,28.4 75.0,28.3 83.5,28.5 87.7,28.0 91.1,27.0 98.0,24.1 100.5,23.6 103.3,23.2 114.6,23.1 134.4,23.7 140.1,23.7 145.7,23.3 155.7,21.7 158.5,21.4 172.6,21.6 191.0,20.6 200.9,20.9 200.9,-2.8 -2.8,-2.8 -2.8,85.2 0.0,85.2 2.8,86.5 5.7,86.8 8.5,86.5 14.2,85.2 18.4,84.4 22.6,84.2 25.5,84.4 28.3,85.2 29.7,86.0 34.2,89.5 35.4,90.2Z"/><path fill="#e5f5fd" fill-rule="evenodd" d="M8.1,78.1 11.3,78.7 15.6,79.1 29.7,79.4 32.5,79.1 34.0,78.2 34.7,76.7 35.0,75.3 35.2,71.0 35.0,66.7 34.5,63.9 34.0,62.3 32.5,59.8 31.1,58.4 29.7,57.4 25.9,55.4 24.2,54.0 23.3,52.5 23.4,51.1 25.5,50.1 26.9,49.7 35.4,48.8 38.2,47.8 39.6,46.8 41.0,45.1 44.1,39.8 49.8,31.2 51.5,28.4 53.2,24.1 55.2,17.1 56.6,14.2 58.0,12.8 59.4,12.2 60.8,12.0 63.7,12.5 67.9,13.8 70.8,14.2 72.2,14.0 73.6,13.5 75.0,12.6 76.3,11.4 77.3,9.9 78.0,8.5 79.0,5.7 79.7,1.4 79.5,-2.8 14.1,-2.8 14.1,0.0 14.5,5.7 14.1,18.5 14.1,27.0 14.5,38.3 14.4,41.2 14.1,42.6 13.5,44.0 12.7,44.7 11.3,45.2 8.5,45.5 5.7,45.1 2.8,44.3 1.4,43.6 0.0,42.6 -2.8,42.6 -2.8,76.1 0.0,76.1 1.4,76.3ZM113.2,14.2 117.4,14.5 127.4,14.2 135.8,14.6 140.1,14.4 142.9,13.9 145.7,13.1 155.7,8.9 157.1,8.5 159.9,8.1 164.1,8.2 172.6,9.3 179.7,9.7 188.2,9.7 200.9,9.3 200.9,-2.8 84.9,-2.8 84.9,0.0 86.3,0.9 106.1,11.9 110.4,13.6ZM-2.8,0.0 0.0,0.0 0.0,-2.8 -2.8,-2.8Z"/><path fill="#d4ecfa" fill-rule="evenodd" d="M19.6,75.3 22.6,75.6 24.1,75.5 26.9,74.9 29.0,73.8 30.3,72.4 31.0,71.0 31.3,69.6 31.3,68.2 31.0,66.7 30.3,65.3 29.2,63.9 28.3,63.1 25.5,61.7 24.1,61.3 19.8,61.1 17.0,61.6 15.6,62.0 14.2,62.5 11.8,63.9 10.8,65.3 10.6,66.7 10.8,68.2 12.2,71.0 13.5,72.4 15.6,73.8 17.0,74.5ZM-2.8,62.5 -2.8,62.7 0.0,62.7 1.3,61.1 1.5,59.6 1.1,58.2 0.0,56.8 -2.8,56.8ZM28.1,36.9 29.7,37.2 31.1,37.1 34.0,36.2 36.8,34.4 39.6,31.8 42.5,28.4 44.2,25.6 45.3,23.2 46.8,18.5 48.9,8.5 49.5,7.1 50.4,5.7 52.3,4.3 53.8,3.7 60.8,2.1 63.7,1.0 65.0,0.0 65.0,-2.8 42.4,-2.8 42.4,0.0 38.2,2.4 36.8,3.4 35.4,4.8 25.5,18.0 23.6,21.3 22.7,24.1 22.3,27.0 22.3,28.4 22.6,30.4 23.4,32.7 24.2,34.1 25.5,35.5 26.9,36.4ZM136.3,7.1 140.1,7.3 142.9,6.9 145.7,6.2 154.2,2.8 157.1,2.0 159.9,1.6 164.1,1.6 178.3,3.6 185.4,4.0 192.4,3.7 195.3,3.3 198.1,2.5 200.9,2.5 200.9,-2.8 99.0,-2.8 99.0,0.0 107.5,3.7 111.8,5.1 113.2,5.4 116.0,5.5 123.1,4.8 125.9,4.8Z"/><path fill="#b9e4f8" fill-rule="evenodd" d="M18.8,72.4 21.2,73.2 22.6,73.4 24.1,73.2 25.5,72.8 26.9,72.0 28.0,71.0 28.3,70.3 28.6,69.6 28.8,68.2 28.4,66.7 27.4,65.3 25.5,64.0 24.1,63.5 22.6,63.3 21.2,63.4 19.8,63.7 18.4,64.3 17.1,65.3 16.1,66.7 15.8,68.2 16.1,69.6 17.0,71.0ZM136.8,1.4 138.7,1.9 141.5,2.1 144.3,1.7 147.2,0.9 149.8,0.0 149.8,-2.8 133.5,-2.8 133.5,0.0ZM184.0,0.0 189.4,0.0 189.4,-2.8 184.0,-2.8Z"/><path fill="#a5daf5" fill-rule="evenodd" d="M20.1,71.0 21.2,71.4 22.6,71.6 24.1,71.4 25.5,70.7 26.4,69.6 26.7,68.2 26.2,66.7 25.5,66.1 24.2,65.3 22.6,65.0 21.2,65.1 19.8,65.8 18.8,66.7 18.3,68.2 18.6,69.6Z"/><path fill="#82c4e8" fill-rule="evenodd" d="M22.2,69.6 23.0,69.6 24.1,68.7 24.3,68.2 24.1,67.8 22.6,67.0 21.2,67.6 20.9,68.2 21.2,68.9Z"/></g>

<use href="#coast"/>
<path d="M113.9,56.2h0M125.2,56.2h0M136.5,56.2h0M147.9,56.2h0M159.2,56.2h0M170.5,56.2h0M181.8,56.2h0M193.1,56.2h0M119.6,61.9h0M130.9,61.9h0M142.2,61.9h0M153.5,61.9h0M164.8,61.9h0M176.2,61.9h0M187.5,61.9h0M57.3,67.6h0M68.6,67.6h0M79.9,67.6h0M113.9,67.6h0M125.2,67.6h0M159.2,67.6h0M181.8,67.6h0M193.1,67.6h0M51.6,73.3h0M63.0,73.3h0M74.3,73.3h0M130.9,73.3h0M153.5,73.3h0M176.2,73.3h0M187.5,73.3h0M57.3,79.0h0M68.6,79.0h0M125.2,79.0h0M159.2,79.0h0M170.5,79.0h0M181.8,79.0h0M193.1,79.0h0M63.0,84.6h0M85.6,84.6h0M96.9,84.6h0M108.2,84.6h0M119.6,84.6h0M130.9,84.6h0M153.5,84.6h0M164.8,84.6h0M176.2,84.6h0M187.5,84.6h0M79.9,90.3h0M91.3,90.3h0M102.6,90.3h0M113.9,90.3h0M125.2,90.3h0M136.5,90.3h0M159.2,90.3h0M170.5,90.3h0M181.8,90.3h0M193.1,90.3h0M108.2,96.0h0M119.6,96.0h0M130.9,96.0h0M142.2,96.0h0M153.5,96.0h0M164.8,96.0h0M176.2,96.0h0M187.5,96.0h0M102.6,101.7h0M113.9,101.7h0M125.2,101.7h0M136.5,101.7h0M147.9,101.7h0M159.2,101.7h0M170.5,101.7h0M181.8,101.7h0M193.1,101.7h0M108.2,107.4h0M119.6,107.4h0M130.9,107.4h0M142.2,107.4h0M153.5,107.4h0M164.8,107.4h0M176.2,107.4h0M187.5,107.4h0M102.6,113.0h0M113.9,113.0h0M125.2,113.0h0M136.5,113.0h0M147.9,113.0h0M159.2,113.0h0M170.5,113.0h0M181.8,113.0h0M193.1,113.0h0M108.2,118.7h0M119.6,118.7h0M130.9,118.7h0M153.5,118.7h0M164.8,118.7h0M176.2,118.7h0M187.5,118.7h0M113.9,124.4h0M125.2,124.4h0M136.5,124.4h0M108.2,130.1h0M119.6,130.1h0M130.9,130.1h0M142.2,130.1h0M113.9,135.8h0M125.2,135.8h0M136.5,135.8h0M147.9,135.8h0M142.2,50.6h0M51.6,5.1h0M63.0,5.1h0M46.0,10.8h0M40.3,16.5h0M23.3,22.2h0M34.7,22.2h0M12.0,56.2h0M6.4,61.9h0M23.3,67.6h0M125.2,10.8h0M142.2,5.1h0M153.5,5.1h0M164.8,5.1h0M176.2,5.1h0M193.1,10.8h0" stroke="#000" stroke-width="3.4" stroke-linecap="round" fill="none"/>
</g>
<rect x="0" y="0" width="198.1" height="142.0" fill="none" stroke="#000" stroke-width="1.1"/>
<path d="M-5.2,142.0h5.2M-5.2,113.6h5.2M-5.2,85.2h5.2M-5.2,56.8h5.2M-5.2,28.4h5.2M-5.2,0.0h5.2M0.0,142.0v5.2M56.6,142.0v5.2M113.2,142.0v5.2M169.8,142.0v5.2" stroke="#000" stroke-width="1" fill="none"/>
<path d="M-2.8,136.3h2.8M-2.8,130.6h2.8M-2.8,125.0h2.8M-2.8,119.3h2.8M-2.8,107.9h2.8M-2.8,102.2h2.8M-2.8,96.6h2.8M-2.8,90.9h2.8M-2.8,79.5h2.8M-2.8,73.8h2.8M-2.8,68.2h2.8M-2.8,62.5h2.8M-2.8,51.1h2.8M-2.8,45.4h2.8M-2.8,39.8h2.8M-2.8,34.1h2.8M-2.8,22.7h2.8M-2.8,17.0h2.8M-2.8,11.4h2.8M-2.8,5.7h2.8M14.2,142.0v2.8M28.3,142.0v2.8M42.5,142.0v2.8M70.8,142.0v2.8M84.9,142.0v2.8M99.0,142.0v2.8M127.4,142.0v2.8M141.5,142.0v2.8M155.7,142.0v2.8M184.0,142.0v2.8M198.1,142.0v2.8" stroke="#222" stroke-width="0.7" fill="none"/>
<text x="-12.5" y="146.5" font-size="12" text-anchor="end">20N</text>
<text x="-12.5" y="118.1" font-size="12" text-anchor="end">30N</text>
<text x="-12.5" y="89.7" font-size="12" text-anchor="end">40N</text>
<text x="-12.5" y="61.3" font-size="12" text-anchor="end">50N</text>
<text x="-12.5" y="32.9" font-size="12" text-anchor="end">60N</text>
<text x="-12.5" y="4.5" font-size="12" text-anchor="end">70N</text>
<text x="0.0" y="164.3" font-size="12" text-anchor="middle">0</text>
<text x="56.6" y="164.3" font-size="12" text-anchor="middle">20E</text>
<text x="113.2" y="164.3" font-size="12" text-anchor="middle">40E</text>
<text x="169.8" y="164.3" font-size="12" text-anchor="middle">60E</text>
<text x="-1.1" y="-9.2" font-size="11.6">(e) EOF2 (NCEP LST)</text>
<text x="197.1" y="-7.9" font-size="11.6" text-anchor="end">15.6%</text>
</g>
<g transform="translate(544.5,252.2)">
<g clip-path="url(#frame)">
<g clip-path="url(#land)"><path fill="#fffcea" fill-rule="evenodd" d="M88.7,144.8 200.9,144.8 200.9,61.7 198.1,61.7 195.3,61.4 192.4,61.2 186.8,61.5 182.5,62.2 179.7,62.8 171.2,65.6 168.4,66.2 164.1,66.5 155.7,66.3 151.4,66.7 142.9,68.1 140.1,68.4 127.4,68.5 123.1,69.0 114.6,70.8 110.4,71.3 99.0,71.0 90.6,71.3 86.3,71.1 82.1,70.5 75.0,68.8 72.2,68.3 69.3,68.2 66.5,68.3 60.8,69.1 52.4,71.0 48.4,72.4 45.8,73.8 44.2,75.3 43.1,76.7 41.9,79.5 41.7,80.9 42.0,83.8 42.5,85.2 43.0,86.6 44.6,89.5 46.6,92.3 47.9,93.7 50.9,96.3 55.2,98.8 60.0,100.8 62.3,102.0 64.5,103.7 65.8,105.1 66.7,106.5 69.3,111.7 70.8,113.6 72.7,115.0 76.4,116.9 77.8,117.9 79.2,119.1 80.7,120.7 82.1,122.7 84.9,127.8 87.3,133.5 88.1,136.3 88.6,139.2Z"/><path fill="#fff3c6" fill-rule="evenodd" d="M91.5,144.8 200.9,144.8 200.9,64.9 198.1,64.9 193.9,64.3 191.0,64.3 188.2,64.5 185.4,65.1 182.5,65.9 179.7,66.9 172.6,70.1 169.8,71.0 168.4,71.2 165.6,71.4 157.1,71.0 154.2,71.1 151.4,71.6 142.9,73.6 140.1,73.9 130.2,73.5 127.4,73.6 123.1,74.3 114.6,76.6 110.4,77.2 106.1,77.3 96.2,76.8 82.1,76.5 77.8,76.1 69.3,74.3 65.1,74.0 60.8,74.3 58.0,74.8 55.2,75.6 52.4,77.1 51.1,78.1 50.0,79.5 49.3,80.9 48.9,82.4 48.8,83.8 48.9,85.2 49.4,86.6 50.0,88.0 51.0,89.5 52.2,90.9 53.8,92.1 56.6,93.6 58.0,94.0 60.8,94.3 63.7,94.2 70.8,93.0 72.2,93.1 73.6,93.4 75.0,94.0 77.8,95.8 79.2,97.0 81.1,99.4 82.1,101.2 82.9,103.7 84.6,112.2 85.6,116.4 90.1,129.2 90.9,132.1 91.5,134.9 91.7,137.7Z"/><path fill="#fbe794" fill-rule="evenodd" d="M94.0,144.8 200.9,144.8 200.9,68.0 198.1,68.0 196.7,67.6 193.9,67.2 191.0,67.3 188.2,67.7 185.4,68.5 182.7,69.6 174.0,74.0 169.8,75.3 165.6,75.6 158.5,75.6 155.7,75.7 152.8,76.2 144.3,78.6 141.5,79.1 137.3,79.2 130.2,78.6 125.9,78.8 116.0,81.1 110.4,82.0 104.7,82.4 94.8,82.7 90.6,83.1 87.3,83.8 86.3,84.2 84.9,85.2 84.2,86.6 84.2,88.0 84.5,89.5 86.3,94.5 87.2,98.0 87.7,100.8 88.4,109.3 89.0,113.6 90.0,117.9 93.4,128.4 94.2,132.1 94.6,136.3 94.5,139.2 94.0,142.0ZM59.0,86.6 59.6,86.6 60.8,86.1 61.8,85.2 62.0,83.8 60.6,82.4 59.4,82.1 58.0,82.3 56.6,83.8 56.6,85.2 58.0,86.5Z"/><path fill="#fdd06e" fill-rule="evenodd" d="M96.5,144.8 200.9,144.8 200.9,71.0 198.1,71.0 196.7,70.7 193.9,70.4 189.6,70.8 185.5,72.4 179.7,75.8 176.9,77.1 174.0,78.1 171.2,78.7 168.4,79.1 159.9,79.6 155.7,80.0 145.7,82.6 141.5,83.4 137.3,83.6 128.8,83.2 123.1,83.6 101.9,86.9 98.0,88.0 95.2,89.5 93.4,91.4 92.4,93.7 91.7,98.0 91.5,105.1 91.7,109.3 92.3,113.6 93.3,117.9 95.9,126.4 97.0,132.1 97.2,136.3 97.0,139.2 96.5,142.0ZM167.0,137.0 166.3,136.3 167.0,135.8 168.4,135.7 169.6,136.3 168.4,137.5Z"/><path fill="#feb945" fill-rule="evenodd" d="M99.0,144.8 169.8,144.8 169.8,142.0 165.6,141.4 162.0,140.6 159.2,139.2 158.2,137.7 158.1,136.3 158.5,134.9 159.9,133.1 161.1,132.1 162.7,131.3 164.8,130.6 167.0,130.4 169.6,130.6 171.2,131.2 173.0,132.1 174.8,133.5 177.3,136.3 180.1,140.6 181.1,141.4 184.0,142.0 184.0,144.8 200.9,144.8 200.9,142.0 198.1,142.0 197.3,140.6 197.5,137.7 198.1,134.5 200.9,134.5 200.9,74.1 195.3,73.9 192.4,74.3 191.0,74.7 188.2,75.9 184.0,78.4 181.1,79.7 177.7,80.9 174.0,81.7 169.8,82.2 161.3,82.9 157.1,83.4 144.3,86.3 140.1,86.9 135.8,87.1 124.5,87.1 117.4,87.6 111.8,88.3 107.5,89.1 104.7,89.8 101.9,90.9 99.6,92.3 97.6,94.2 96.2,96.6 95.7,98.0 95.1,100.8 94.7,105.1 94.9,109.3 95.2,112.2 96.2,116.4 98.2,123.5 99.2,129.2 99.6,136.3 99.5,139.2 99.0,142.0Z"/><path fill="#fc972d" fill-rule="evenodd" d="M102.0,144.8 155.7,144.8 155.7,142.0 154.2,141.4 153.1,140.6 152.7,139.2 152.8,137.7 153.1,136.3 154.5,133.5 155.5,132.1 157.1,130.6 159.4,129.2 162.7,128.1 165.6,127.6 169.8,127.8 172.6,128.6 174.1,129.2 176.4,130.6 178.2,132.1 182.5,136.1 185.4,137.8 186.8,138.3 189.6,138.7 191.0,138.6 192.4,138.2 193.3,137.7 193.9,137.3 195.3,135.3 198.1,127.8 200.9,127.8 200.9,77.5 198.1,77.5 195.0,78.1 192.4,79.1 185.4,82.7 182.5,83.6 179.7,84.2 174.0,84.9 164.1,85.6 158.5,86.2 154.2,86.9 144.3,89.2 138.7,90.1 131.6,90.5 118.9,90.4 113.2,90.8 110.4,91.3 107.5,92.1 104.7,93.3 103.3,94.1 101.9,95.2 100.6,96.6 99.7,98.0 98.6,100.8 98.0,105.1 98.1,107.9 98.4,110.8 100.5,119.3 101.4,125.0 101.8,132.1Z"/><path fill="#f77f2d" fill-rule="evenodd" d="M105.3,144.8 144.1,144.8 144.1,142.0 146.0,140.6 147.2,139.2 151.2,132.1 152.8,130.0 154.2,128.8 157.1,127.1 159.9,126.1 162.7,125.5 165.6,125.2 168.4,125.2 172.6,125.9 175.5,126.9 177.3,127.8 179.6,129.2 184.0,132.4 186.8,134.0 188.2,134.4 189.6,134.4 191.0,134.1 192.0,133.5 193.9,131.5 198.1,123.1 200.9,123.1 200.9,81.1 198.1,81.1 190.3,85.2 186.8,86.4 184.0,87.0 179.7,87.4 165.6,88.1 159.9,88.7 154.2,89.6 141.5,92.6 134.4,93.7 128.8,93.9 118.9,93.3 114.6,93.4 110.4,94.3 108.1,95.1 106.1,96.3 104.2,98.0 103.2,99.4 102.2,102.2 102.0,105.1 102.3,107.9 104.0,113.6 104.5,116.4 104.5,119.3 104.1,129.2 104.1,134.9 104.5,139.2 105.3,142.0Z"/><path fill="#ee5a2d" fill-rule="evenodd" d="M109.1,144.8 139.5,144.8 139.5,142.0 141.3,140.6 144.0,137.7 145.7,135.0 148.1,130.6 150.0,127.9 151.4,126.6 152.8,125.7 155.7,124.5 158.5,123.7 161.3,123.3 165.6,122.9 171.2,123.2 174.0,123.7 178.1,125.0 185.4,128.5 186.8,129.0 188.2,129.2 189.6,129.0 191.0,128.3 192.4,126.9 196.4,120.7 198.1,118.6 200.9,118.6 200.9,85.2 198.1,85.2 195.3,87.1 192.4,88.5 189.6,89.4 186.8,89.9 181.1,90.4 167.0,90.6 159.9,91.2 152.8,92.5 138.7,96.3 133.0,97.3 127.4,97.4 119.0,96.6 116.0,96.5 113.2,97.0 110.4,98.1 108.7,99.4 107.7,100.8 107.2,102.2 107.1,103.7 107.3,105.1 107.8,106.5 109.8,110.8 110.2,112.2 110.4,113.6 109.8,116.4 107.8,122.1 107.1,125.0 106.6,127.8 106.3,132.1 106.3,134.9 106.7,137.7 107.1,139.2 107.8,140.6 109.1,142.0Z"/><path fill="#de3a2b" fill-rule="evenodd" d="M113.2,144.8 136.1,144.8 136.1,142.0 139.3,139.2 141.5,136.3 143.1,133.5 145.7,127.3 147.1,125.0 148.6,123.5 150.0,122.6 151.4,122.1 154.2,121.5 157.1,121.1 165.6,120.7 169.8,120.7 174.0,121.1 185.4,123.0 186.8,123.0 188.2,122.6 189.6,121.9 191.0,120.6 194.5,116.4 196.7,114.5 198.1,113.6 200.9,113.6 200.9,90.2 198.1,90.2 196.7,91.2 194.2,92.3 192.4,92.8 189.6,93.2 184.0,93.4 168.4,93.2 159.9,93.9 155.7,94.6 151.4,95.7 144.9,98.0 140.1,100.0 135.8,101.2 133.0,101.6 130.2,101.7 120.3,101.5 118.9,101.7 117.1,102.2 115.8,103.7 115.6,105.1 116.1,110.8 115.6,113.6 114.4,116.4 110.4,124.0 109.1,127.8 108.6,130.6 108.6,134.9 109.2,137.7 109.9,139.2 111.1,140.6 113.2,142.0Z"/><path fill="#cb1e2a" fill-rule="evenodd" d="M117.4,144.8 132.6,144.8 132.6,142.0 136.0,139.2 137.3,137.7 139.2,134.9 140.8,130.6 141.7,126.4 142.3,120.7 142.2,116.4 142.0,115.0 141.0,112.2 139.6,110.8 137.5,109.3 134.0,107.9 130.2,107.2 127.4,107.2 125.9,107.6 124.5,108.1 123.1,109.2 121.7,111.0 118.4,116.4 113.8,123.5 112.3,126.4 111.4,129.2 110.9,132.1 111.0,134.9 111.8,137.3 113.0,139.2 114.7,140.6 117.4,142.0ZM155.2,117.9 161.3,118.2 176.9,118.3 181.1,118.0 184.0,117.2 185.4,116.4 187.2,115.0 192.4,109.5 198.1,104.2 200.9,104.2 200.9,99.4 198.1,99.4 190.9,98.0 182.5,96.9 176.9,96.3 171.2,96.1 165.6,96.2 161.3,96.5 157.1,97.3 152.8,98.5 150.7,99.4 148.3,100.8 146.5,102.2 145.2,103.7 143.5,106.5 142.8,109.3 142.7,110.8 143.1,112.2 144.3,113.6 146.1,115.0 150.0,116.7Z"/><path fill="#b01a22" fill-rule="evenodd" d="M123.7,144.8 127.4,144.8 127.4,142.0 128.8,141.5 130.6,140.6 132.5,139.2 133.9,137.7 135.9,134.9 136.6,133.5 137.5,130.6 137.8,127.8 137.8,125.0 137.3,122.3 136.7,120.7 135.8,118.8 134.2,116.4 132.6,115.0 131.6,114.3 130.2,113.7 128.8,113.5 127.4,113.6 125.9,114.1 124.5,115.1 123.1,116.4 118.9,121.3 116.2,125.0 114.7,127.8 113.8,130.6 113.6,133.5 113.8,134.9 114.3,136.3 115.2,137.7 116.7,139.2 118.9,140.5 121.7,141.5 123.7,142.0ZM160.2,115.0 165.6,115.5 171.2,115.3 175.5,114.7 178.6,113.6 180.8,112.2 182.2,110.8 183.2,109.3 183.9,107.9 184.2,106.5 184.2,105.1 183.7,103.7 182.2,102.2 179.1,100.8 175.5,100.0 171.2,99.5 167.0,99.4 162.7,99.7 158.5,100.6 155.7,101.8 154.8,102.2 153.1,103.7 152.1,105.1 151.7,106.5 151.6,107.9 151.9,109.3 152.5,110.8 153.7,112.2 155.7,113.6 158.5,114.6Z"/><path fill="#8b161b" fill-rule="evenodd" d="M123.0,139.2 124.5,139.4 125.9,139.3 127.4,139.0 128.8,138.3 130.2,137.3 131.6,135.7 132.9,133.5 133.5,132.1 133.8,130.6 133.9,127.8 133.8,126.4 133.0,123.8 131.6,121.5 130.2,120.3 128.8,119.6 127.4,119.5 125.9,119.9 124.5,120.7 123.1,121.8 121.4,123.5 119.2,126.4 117.6,129.2 117.2,130.6 116.9,132.1 117.0,133.5 117.3,134.9 118.2,136.3 120.3,138.1ZM164.5,110.8 167.0,111.0 168.4,110.9 169.8,110.6 171.2,110.0 172.3,109.3 173.1,107.9 172.7,106.5 170.6,105.1 168.4,104.7 165.6,104.7 163.7,105.1 162.7,105.5 161.4,106.5 160.9,107.9 161.6,109.3 162.7,110.0Z"/><path fill="#f6fbfe" fill-rule="evenodd" d="M-2.8,59.6 -2.8,59.9 7.1,59.6 25.5,59.9 42.5,58.7 67.9,58.1 87.7,58.4 113.2,58.4 147.2,56.4 155.7,55.5 167.0,53.7 172.6,53.1 178.3,53.0 200.9,53.1 200.9,-2.8 14.1,-2.8 14.1,0.0 15.2,1.4 15.5,2.8 15.4,4.3 14.9,5.7 13.2,8.5 7.8,15.6 4.8,19.9 2.8,23.1 1.4,23.1 0.0,14.2 -2.8,14.2 -2.8,28.4 0.0,28.4 1.2,27.0 1.4,26.2 2.8,28.9 4.2,32.8 5.3,36.9 5.4,38.3 5.1,39.8 4.2,40.9 2.8,41.8 0.0,42.6 -2.8,42.6ZM-2.8,0.0 0.0,0.0 0.0,-2.8 -2.8,-2.8Z"/><path fill="#e5f5fd" fill-rule="evenodd" d="M62.9,48.3 67.9,49.1 72.2,49.4 87.7,48.4 100.5,48.4 113.2,48.1 128.8,48.3 155.7,47.1 189.6,44.2 193.9,44.2 198.1,44.6 200.9,44.6 200.9,-2.8 38.7,-2.8 38.7,0.0 38.4,1.4 37.2,4.3 36.4,5.7 35.4,7.1 32.9,9.9 25.5,17.0 24.1,18.9 22.6,21.3 21.5,24.1 21.3,25.6 21.2,27.0 21.4,28.4 22.0,29.8 22.8,31.2 23.9,32.7 25.5,34.1 28.3,36.0 34.0,38.8 41.0,42.0 46.7,44.2Z"/><path fill="#d4ecfa" fill-rule="evenodd" d="M166.2,36.9 169.8,37.1 172.6,36.9 185.4,34.8 189.6,34.4 193.9,34.4 198.1,35.2 200.9,35.2 200.9,-2.8 56.6,-2.8 56.6,4.3 56.4,11.4 56.6,14.2 57.2,15.6 58.0,16.8 59.4,17.8 62.3,19.1 63.7,20.1 67.3,25.6 69.3,27.4 70.8,28.4 72.2,29.0 75.0,29.6 79.2,29.7 83.5,28.9 84.9,28.4 86.3,27.3 86.6,27.0 87.0,25.6 86.9,24.1 85.4,18.5 84.9,15.6 85.0,12.8 85.4,11.4 86.2,9.9 87.5,8.5 89.9,7.1 93.4,6.3 97.6,6.3 100.5,6.9 101.9,7.7 102.8,8.5 103.3,9.4 103.9,11.4 103.9,14.2 103.3,17.9 101.9,21.8 99.3,27.0 99.0,28.4 99.4,29.8 100.7,31.2 103.3,32.9 107.5,34.4 111.8,35.0 116.0,35.0 125.9,34.0 130.2,33.9 141.5,34.9 150.0,34.8 154.2,35.0ZM67.9,15.7 67.8,15.6 67.6,14.2 69.3,12.9 70.8,14.2 69.3,15.7Z"/><path fill="#b9e4f8" fill-rule="evenodd" d="M168.4,25.6 172.6,26.5 176.9,26.9 200.9,26.8 200.9,-2.8 127.3,-2.8 127.3,0.0 121.7,1.6 118.5,2.8 117.4,3.5 116.3,4.3 115.1,5.7 114.3,7.1 113.8,8.5 113.3,11.4 113.2,14.2 113.5,17.0 113.8,18.5 114.4,19.9 115.4,21.3 117.2,22.7 118.9,23.4 123.1,24.1 130.2,23.9 135.8,23.1 145.7,20.9 150.0,20.7 152.8,20.9 157.1,21.7 161.3,23.0ZM99.0,0.0 99.1,-2.8Z"/><path fill="#a5daf5" fill-rule="evenodd" d="M183.6,19.9 186.8,20.3 191.0,20.5 195.3,20.1 198.1,19.5 200.9,19.5 200.9,-2.8 141.5,-2.8 141.5,0.0 142.0,1.4 142.9,2.2 144.2,2.8 151.4,5.2 159.9,9.0 165.6,11.8 172.6,15.9 176.9,18.0 179.7,19.0ZM127.3,14.2 128.8,14.2 130.2,13.8 132.1,12.8 133.7,11.4 134.7,9.9 135.4,8.5 135.6,7.1 134.4,5.8 133.0,5.5 131.6,5.5 128.8,5.9 126.1,7.1 124.7,8.5 124.0,9.9 124.0,11.4 124.5,12.6 125.9,13.8Z"/><path fill="#82c4e8" fill-rule="evenodd" d="M184.0,14.2 186.8,14.9 191.0,15.3 195.3,15.0 198.1,14.2 200.9,14.2 200.9,-2.8 162.0,-2.8 162.0,0.0 163.8,1.4 174.0,9.0 176.9,10.9 181.1,13.2Z"/><path fill="#69acde" fill-rule="evenodd" d="M185.5,9.9 189.6,10.9 192.4,11.1 195.3,10.9 198.1,10.2 200.9,10.2 200.9,-2.8 169.8,-2.8 169.8,0.0 178.3,6.4 182.5,8.8Z"/><path fill="#468ac8" fill-rule="evenodd" d="M189.3,7.1 191.0,7.4 193.9,7.6 198.1,7.0 200.9,7.0 200.9,-2.8 175.6,-2.8 175.6,0.0 176.9,0.9 181.1,3.7 184.0,5.3 186.8,6.4Z"/><path fill="#346fb6" fill-rule="evenodd" d="M191.3,4.3 195.3,4.6 200.9,4.4 200.9,-2.8 181.1,-2.8 181.1,0.0 184.0,1.7 186.8,3.0 189.6,3.9Z"/><path fill="#2453a0" fill-rule="evenodd" d="M191.2,1.4 195.3,2.1 200.9,2.1 200.9,-2.8 187.1,-2.8 187.1,0.0Z"/><path fill="#213e82" fill-rule="evenodd" d="M198.1,0.0 200.9,0.0 200.9,-2.8 198.1,-2.8Z"/></g>
<rect x="57.4" y="30.4" width="13.3" height="14.2" fill="#fff"/><rect x="59.4" y="21.3" width="4.5" height="9.1" fill="#fff"/><rect x="34.8" y="36.9" width="11.0" height="5.1" fill="#fff"/><rect x="163.6" y="67.0" width="13.6" height="8.2" fill="#fff"/><rect x="167.0" y="64.8" width="6.5" height="2.3" fill="#fff"/><rect x="83.5" y="23.3" width="10.8" height="5.7" fill="#fff"/><rect x="136.7" y="111.9" width="9.9" height="6.8" fill="#fff"/>
<use href="#coast"/>
<path d="M57.3,5.1h0M68.6,5.1h0M79.9,5.1h0M91.3,5.1h0M102.6,5.1h0M125.2,5.1h0M159.2,5.1h0M170.5,5.1h0M181.8,5.1h0M63.0,10.8h0M74.3,10.8h0M85.6,10.8h0M130.9,10.8h0M142.2,10.8h0M153.5,10.8h0M164.8,10.8h0M176.2,10.8h0M187.5,10.8h0M79.9,16.5h0M91.3,16.5h0M113.9,16.5h0M125.2,16.5h0M136.5,16.5h0M147.9,16.5h0M159.2,16.5h0M170.5,16.5h0M181.8,16.5h0M193.1,16.5h0M74.3,22.2h0M85.6,22.2h0M119.6,22.2h0M130.9,22.2h0M142.2,22.2h0M153.5,22.2h0M164.8,22.2h0M176.2,22.2h0M187.5,22.2h0M159.2,27.8h0M170.5,27.8h0M181.8,27.8h0M193.1,27.8h0M181.8,73.3h0M193.1,73.3h0M130.9,79.0h0M164.8,79.0h0M176.2,79.0h0M187.5,79.0h0M57.3,84.6h0M91.3,84.6h0M102.6,84.6h0M113.9,84.6h0M125.2,84.6h0M136.5,84.6h0M159.2,84.6h0M170.5,84.6h0M181.8,84.6h0M193.1,84.6h0M85.6,90.3h0M96.9,90.3h0M108.2,90.3h0M119.6,90.3h0M130.9,90.3h0M153.5,90.3h0M164.8,90.3h0M176.2,90.3h0M187.5,90.3h0M102.6,96.0h0M113.9,96.0h0M125.2,96.0h0M136.5,96.0h0M147.9,96.0h0M159.2,96.0h0M170.5,96.0h0M181.8,96.0h0M193.1,96.0h0M108.2,101.7h0M119.6,101.7h0M130.9,101.7h0M142.2,101.7h0M153.5,101.7h0M164.8,101.7h0M176.2,101.7h0M187.5,101.7h0M102.6,107.4h0M113.9,107.4h0M125.2,107.4h0M136.5,107.4h0M147.9,107.4h0M159.2,107.4h0M170.5,107.4h0M181.8,107.4h0M193.1,107.4h0M108.2,113.0h0M119.6,113.0h0M130.9,113.0h0M153.5,113.0h0M164.8,113.0h0M176.2,113.0h0M187.5,113.0h0M102.6,118.7h0M113.9,118.7h0M125.2,118.7h0M136.5,118.7h0M147.9,118.7h0M159.2,118.7h0M170.5,118.7h0M181.8,118.7h0M193.1,118.7h0M108.2,124.4h0M119.6,124.4h0M130.9,124.4h0M164.8,124.4h0M176.2,124.4h0M187.5,124.4h0M113.9,130.1h0M125.2,130.1h0M136.5,130.1h0M159.2,130.1h0M193.1,130.1h0M119.6,135.8h0M130.9,135.8h0M142.2,135.8h0M153.5,135.8h0M164.8,135.8h0M40.3,33.5h0M170.5,39.2h0M108.2,33.5h0M119.6,33.5h0" stroke="#000" stroke-width="3.4" stroke-linecap="round" fill="none"/>
</g>
<rect x="0" y="0" width="198.1" height="142.0" fill="none" stroke="#000" stroke-width="1.1"/>
<path d="M-5.2,142.0h5.2M-5.2,113.6h5.2M-5.2,85.2h5.2M-5.2,56.8h5.2M-5.2,28.4h5.2M-5.2,0.0h5.2M0.0,142.0v5.2M56.6,142.0v5.2M113.2,142.0v5.2M169.8,142.0v5.2" stroke="#000" stroke-width="1" fill="none"/>
<path d="M-2.8,136.3h2.8M-2.8,130.6h2.8M-2.8,125.0h2.8M-2.8,119.3h2.8M-2.8,107.9h2.8M-2.8,102.2h2.8M-2.8,96.6h2.8M-2.8,90.9h2.8M-2.8,79.5h2.8M-2.8,73.8h2.8M-2.8,68.2h2.8M-2.8,62.5h2.8M-2.8,51.1h2.8M-2.8,45.4h2.8M-2.8,39.8h2.8M-2.8,34.1h2.8M-2.8,22.7h2.8M-2.8,17.0h2.8M-2.8,11.4h2.8M-2.8,5.7h2.8M14.2,142.0v2.8M28.3,142.0v2.8M42.5,142.0v2.8M70.8,142.0v2.8M84.9,142.0v2.8M99.0,142.0v2.8M127.4,142.0v2.8M141.5,142.0v2.8M155.7,142.0v2.8M184.0,142.0v2.8M198.1,142.0v2.8" stroke="#222" stroke-width="0.7" fill="none"/>
<text x="-12.5" y="146.5" font-size="12" text-anchor="end">20N</text>
<text x="-12.5" y="118.1" font-size="12" text-anchor="end">30N</text>
<text x="-12.5" y="89.7" font-size="12" text-anchor="end">40N</text>
<text x="-12.5" y="61.3" font-size="12" text-anchor="end">50N</text>
<text x="-12.5" y="32.9" font-size="12" text-anchor="end">60N</text>
<text x="-12.5" y="4.5" font-size="12" text-anchor="end">70N</text>
<text x="0.0" y="164.3" font-size="12" text-anchor="middle">0</text>
<text x="56.6" y="164.3" font-size="12" text-anchor="middle">20E</text>
<text x="113.2" y="164.3" font-size="12" text-anchor="middle">40E</text>
<text x="169.8" y="164.3" font-size="12" text-anchor="middle">60E</text>
<text x="-1.1" y="-9.2" font-size="11.6">(h) EOF2 (JRA55 LST)</text>
<text x="197.1" y="-7.9" font-size="11.6" text-anchor="end">22.4%</text>
</g>
<g transform="translate(33.6,452.9)">
<g clip-path="url(#frame)">
<g clip-path="url(#land)"><path fill="#fffcea" fill-rule="evenodd" d="M172.6,98.0 174.0,98.4 176.9,98.6 181.1,98.2 186.8,96.7 198.1,92.7 200.9,92.7 200.9,-2.8 136.2,-2.8 136.8,18.5 137.5,27.0 138.4,32.7 140.9,45.4 141.8,49.7 143.1,54.0 145.0,58.2 146.8,61.1 148.6,63.2 154.6,69.6 156.5,72.4 157.7,75.3 159.3,80.9 160.3,83.8 162.8,88.0 165.9,92.3 168.4,95.2 170.0,96.6Z"/><path fill="#fff3c6" fill-rule="evenodd" d="M184.0,85.2 186.8,85.7 189.6,85.9 193.9,85.7 198.1,85.2 200.9,85.2 200.9,-2.8 141.5,-2.8 141.3,5.7 141.4,12.8 141.9,19.9 142.6,25.6 143.8,32.7 145.4,39.8 147.1,45.4 148.9,49.7 150.5,52.5 152.8,55.8 155.1,58.2 163.8,66.7 166.4,69.6 171.2,75.8 174.0,79.0 176.1,80.9 178.3,82.7 181.1,84.2Z"/><path fill="#fbe794" fill-rule="evenodd" d="M190.0,75.3 193.9,75.9 200.9,76.0 200.9,-2.8 147.0,-2.8 147.0,0.0 146.5,4.3 146.2,9.9 146.3,15.6 147.0,22.7 147.9,28.4 149.2,34.1 151.0,39.8 153.0,44.0 155.7,48.3 159.2,52.5 164.1,57.3 174.0,66.1 178.3,69.5 182.5,72.3 186.8,74.3Z"/><path fill="#fdd06e" fill-rule="evenodd" d="M197.5,68.2 200.9,68.2 200.9,-2.8 152.7,-2.8 152.7,0.0 151.7,5.7 151.3,11.4 151.3,17.0 151.7,21.3 152.6,27.0 153.6,31.2 155.2,35.5 157.1,38.9 159.9,42.9 164.1,47.5 172.6,55.4 178.3,60.0 184.0,63.8 188.2,65.9 192.4,67.3Z"/><path fill="#feb945" fill-rule="evenodd" d="M195.6,61.1 198.1,61.8 200.9,61.8 200.9,-2.8 158.7,-2.8 158.7,0.0 157.6,5.7 157.1,10.4 156.9,14.2 156.9,18.5 157.4,22.7 158.4,27.0 159.5,29.8 161.0,32.7 162.9,35.5 165.6,38.5 174.3,46.9 179.7,51.7 184.0,55.0 188.2,57.7 191.9,59.6Z"/><path fill="#fc972d" fill-rule="evenodd" d="M197.9,54.0 200.9,54.1 200.9,-2.8 165.4,-2.8 165.4,0.0 164.2,9.9 164.0,15.6 164.2,18.5 164.7,21.3 165.5,24.1 167.0,27.3 168.6,29.8 172.2,34.1 176.5,38.3 181.1,42.5 185.4,45.9 189.6,49.0 193.9,51.7Z"/><path fill="#f77f2d" fill-rule="evenodd" d="M193.8,38.3 196.7,38.9 200.9,38.9 200.9,-2.8 177.2,-2.8 177.2,0.0 175.6,8.5 175.3,12.8 175.3,15.6 175.7,18.5 177.0,22.7 178.4,25.6 179.7,27.5 181.6,29.8 184.0,32.2 188.2,35.5 191.0,37.2Z"/><path fill="#f6fbfe" fill-rule="evenodd" d="M-2.8,144.8 14.2,144.8 14.2,142.0 -2.8,142.0ZM28.3,144.8 42.5,144.8 42.5,142.0 28.3,142.0ZM56.6,144.8 70.8,144.8 70.8,142.0 56.6,142.0ZM84.9,144.8 99.1,144.8 99.1,142.0 84.9,142.0ZM113.2,144.8 127.4,144.8 127.1,137.7 127.4,122.1 127.2,105.1 127.7,89.5 127.4,85.2 125.3,76.7 124.7,72.4 124.9,69.6 126.7,61.1 127.3,56.8 127.8,51.1 127.8,46.9 127.3,42.6 126.7,39.8 122.1,25.6 121.4,21.3 121.2,18.5 121.5,14.2 123.0,7.1 123.4,4.3 123.6,-2.8 -2.8,-2.8 -2.8,127.8 66.5,127.9 79.2,127.4 82.1,127.5 84.9,127.8 89.1,128.9 94.3,130.6 97.8,132.1 100.6,133.5 102.7,134.9 104.2,136.3 107.5,141.1 109.0,141.6 113.2,142.0ZM196.3,125.0 198.1,125.4 200.9,125.4 200.9,106.8 198.1,106.8 191.6,110.8 188.0,113.6 186.9,115.0 186.3,116.4 186.3,117.9 186.8,119.3 188.2,120.9 189.7,122.1 192.3,123.5Z"/><path fill="#e5f5fd" fill-rule="evenodd" d="M-2.8,113.6 66.5,113.6 80.7,113.5 84.9,113.6 93.4,114.3 96.2,114.2 99.0,113.6 101.6,112.2 103.3,110.8 107.5,106.6 110.4,103.7 111.8,101.9 113.2,99.4 113.7,98.0 114.2,95.1 114.2,90.9 112.1,79.5 112.1,75.3 112.7,72.4 113.2,71.0 117.4,63.4 119.2,59.6 120.5,55.4 121.1,51.1 121.1,48.3 120.9,45.4 120.4,42.6 119.5,39.8 117.4,35.4 111.5,25.6 110.0,22.7 108.8,19.9 107.8,15.6 107.6,11.4 108.3,7.1 109.0,5.4 110.4,3.0 113.2,0.0 113.2,-2.8 -2.8,-2.8Z"/><path fill="#d4ecfa" fill-rule="evenodd" d="M-2.8,99.4 52.4,99.4 66.5,99.2 70.8,99.4 77.8,100.1 80.7,100.1 83.5,99.8 84.9,99.4 86.3,98.7 87.7,97.9 90.8,95.1 96.2,89.4 97.6,87.6 99.0,85.2 100.0,82.4 101.5,76.7 102.6,73.8 104.9,69.6 110.1,62.5 111.9,59.6 113.2,56.8 113.7,55.4 114.4,51.1 114.4,48.3 114.0,45.4 113.2,42.6 112.0,39.8 109.4,35.5 102.0,25.6 101.2,24.1 100.0,21.3 99.3,18.5 99.1,15.6 99.3,4.3 99.0,-2.8 -2.8,-2.8Z"/><path fill="#b9e4f8" fill-rule="evenodd" d="M42.0,89.5 45.3,89.9 49.5,90.1 56.6,89.6 60.8,88.8 63.7,88.1 66.5,87.1 69.3,85.9 73.6,83.5 82.8,76.7 92.0,71.4 96.2,68.5 99.0,66.1 101.1,63.9 103.5,61.1 105.4,58.2 106.7,55.4 107.1,54.0 107.5,51.1 107.3,46.9 105.9,42.6 103.5,38.3 101.2,35.5 97.6,31.9 91.4,27.0 89.9,25.6 88.9,24.1 88.4,22.7 88.3,21.3 88.5,19.9 90.9,12.8 91.5,9.9 91.9,7.1 91.7,4.3 91.4,2.8 90.9,1.4 90.0,0.0 90.0,-2.8 14.1,-2.8 14.1,0.0 11.9,1.4 8.2,4.3 3.4,8.5 2.0,9.9 0.9,11.4 0.3,12.8 0.0,14.2 -2.8,14.2 -2.8,28.4 0.0,28.4 1.2,34.1 1.7,36.9 1.4,39.8 0.8,41.2 0.0,42.6 -2.8,42.6 -2.8,85.2 0.0,85.2 2.8,85.9 5.7,86.1 8.5,86.0 18.4,84.7 22.6,84.6 25.5,84.7 29.7,85.6 38.2,88.5ZM-2.8,0.0 0.0,0.0 0.0,-2.8 -2.8,-2.8Z"/><path fill="#a5daf5" fill-rule="evenodd" d="M42.9,80.9 46.7,81.5 50.9,81.6 55.2,81.0 58.0,80.2 62.3,78.6 71.9,73.8 86.3,67.3 92.0,64.2 95.8,61.1 98.2,58.2 99.1,56.8 100.2,54.0 100.6,52.5 100.8,49.7 100.7,48.3 100.2,45.4 99.0,42.6 98.2,41.2 96.2,38.6 94.5,36.9 92.7,35.5 90.6,34.2 86.3,32.3 82.1,31.0 70.8,28.4 67.9,27.2 65.5,25.6 64.1,24.1 62.3,21.3 61.4,18.5 61.3,17.0 62.3,15.7 63.7,15.3 72.2,13.9 76.4,12.7 79.0,11.4 80.7,9.9 81.7,8.5 82.2,7.1 82.4,5.7 82.0,4.3 80.9,2.8 79.2,1.8 77.8,1.2 75.0,0.6 70.8,0.0 70.8,-2.8 56.6,-2.8 56.6,0.0 57.2,1.4 57.7,4.3 58.5,11.4 58.3,12.8 58.0,13.4 56.6,14.2 52.4,14.5 45.3,14.4 41.0,14.0 32.5,12.7 31.1,12.7 29.7,13.1 28.3,14.2 27.6,15.6 27.2,17.0 27.0,19.9 27.5,24.1 29.5,34.1 29.9,36.9 29.6,39.8 29.1,41.2 26.4,45.4 22.6,50.1 19.8,52.8 12.4,58.2 11.1,59.6 10.4,61.1 10.1,62.5 10.1,63.9 10.8,66.7 11.6,68.2 12.7,69.6 14.1,71.0 16.3,72.4 19.4,73.8 21.2,74.5Z"/><path fill="#82c4e8" fill-rule="evenodd" d="M42.5,71.0 46.7,71.7 50.9,71.7 55.2,71.2 62.3,70.0 69.3,68.6 73.6,67.5 79.2,65.4 83.5,63.4 86.3,61.8 89.4,59.6 90.9,58.2 93.0,55.4 94.1,52.5 94.5,49.7 94.3,46.9 93.3,44.0 92.5,42.6 91.3,41.2 89.1,39.3 86.3,37.6 82.1,36.2 79.2,35.6 75.0,35.1 66.5,34.6 60.8,34.8 58.0,35.3 56.6,35.8 55.2,36.6 53.8,37.8 49.5,43.8 48.1,45.4 45.3,47.7 41.0,50.5 38.2,52.7 35.9,55.4 34.4,58.2 33.6,61.1 33.5,62.5 33.6,63.9 33.9,65.3 34.7,66.7 36.1,68.2 38.2,69.5Z"/><path fill="#69acde" fill-rule="evenodd" d="M63.5,62.5 65.1,62.9 67.9,63.2 72.2,62.8 75.0,62.0 77.4,61.1 80.1,59.6 82.2,58.2 83.9,56.8 85.2,55.4 86.3,53.7 87.3,51.1 87.5,49.7 87.4,48.3 87.1,46.9 86.4,45.4 85.3,44.0 83.5,42.6 80.7,41.4 77.8,40.8 73.6,40.4 69.3,40.6 66.6,41.2 63.7,42.4 62.3,43.4 60.3,45.4 58.5,48.3 56.9,52.5 56.5,55.4 56.7,56.8 57.4,58.2 58.5,59.6 60.3,61.1Z"/></g>

<use href="#coast"/>
<path d="M51.6,3.7h0M63.0,3.7h0M74.3,3.7h0M85.6,3.7h0M96.9,3.7h0M176.2,3.7h0M46.0,9.4h0M57.3,9.4h0M68.6,9.4h0M79.9,9.4h0M91.3,9.4h0M159.2,9.4h0M170.5,9.4h0M181.8,9.4h0M193.1,9.4h0M40.3,15.1h0M51.6,15.1h0M74.3,15.1h0M85.6,15.1h0M96.9,15.1h0M153.5,15.1h0M164.8,15.1h0M176.2,15.1h0M187.5,15.1h0M23.3,20.7h0M34.7,20.7h0M46.0,20.7h0M68.6,20.7h0M79.9,20.7h0M91.3,20.7h0M159.2,20.7h0M170.5,20.7h0M181.8,20.7h0M193.1,20.7h0M17.7,26.4h0M29.0,26.4h0M40.3,26.4h0M63.0,26.4h0M74.3,26.4h0M96.9,26.4h0M153.5,26.4h0M164.8,26.4h0M176.2,26.4h0M187.5,26.4h0M23.3,32.1h0M34.7,32.1h0M46.0,32.1h0M68.6,32.1h0M79.9,32.1h0M91.3,32.1h0M102.6,32.1h0M159.2,32.1h0M170.5,32.1h0M181.8,32.1h0M193.1,32.1h0M40.3,37.8h0M63.0,37.8h0M74.3,37.8h0M85.6,37.8h0M96.9,37.8h0M108.2,37.8h0M164.8,37.8h0M176.2,37.8h0M187.5,37.8h0M57.3,43.5h0M68.6,43.5h0M79.9,43.5h0M91.3,43.5h0M102.6,43.5h0M170.5,43.5h0M181.8,43.5h0M193.1,43.5h0M17.7,49.1h0M29.0,49.1h0M40.3,49.1h0M51.6,49.1h0M63.0,49.1h0M74.3,49.1h0M85.6,49.1h0M96.9,49.1h0M108.2,49.1h0M176.2,49.1h0M187.5,49.1h0M12.0,54.8h0M23.3,54.8h0M34.7,54.8h0M46.0,54.8h0M57.3,54.8h0M68.6,54.8h0M79.9,54.8h0M91.3,54.8h0M102.6,54.8h0M181.8,54.8h0M193.1,54.8h0M6.4,60.5h0M17.7,60.5h0M29.0,60.5h0M40.3,60.5h0M51.6,60.5h0M63.0,60.5h0M74.3,60.5h0M85.6,60.5h0M96.9,60.5h0M108.2,60.5h0M187.5,60.5h0M12.0,66.2h0M23.3,66.2h0M34.7,66.2h0M46.0,66.2h0M57.3,66.2h0M68.6,66.2h0M79.9,66.2h0M91.3,66.2h0M193.1,66.2h0M6.4,71.9h0M17.7,71.9h0M29.0,71.9h0M51.6,71.9h0M63.0,71.9h0M74.3,71.9h0M34.7,77.5h0M57.3,77.5h0M68.6,77.5h0M63.0,83.2h0M85.6,83.2h0M96.9,83.2h0M79.9,88.9h0M91.3,88.9h0M85.6,94.6h0M108.2,94.6h0M119.6,94.6h0M102.6,100.3h0M113.9,100.3h0M108.2,105.9h0M119.6,105.9h0M102.6,111.6h0M113.9,111.6h0M108.2,117.3h0M119.6,117.3h0M113.9,123.0h0M193.1,66.2h0M193.1,77.5h0" stroke="#000" stroke-width="3.4" stroke-linecap="round" fill="none"/>
</g>
<rect x="0" y="0" width="198.1" height="142.0" fill="none" stroke="#000" stroke-width="1.1"/>
<path d="M-5.2,142.0h5.2M-5.2,113.6h5.2M-5.2,85.2h5.2M-5.2,56.8h5.2M-5.2,28.4h5.2M-5.2,0.0h5.2M0.0,142.0v5.2M56.6,142.0v5.2M113.2,142.0v5.2M169.8,142.0v5.2" stroke="#000" stroke-width="1" fill="none"/>
<path d="M-2.8,136.3h2.8M-2.8,130.6h2.8M-2.8,125.0h2.8M-2.8,119.3h2.8M-2.8,107.9h2.8M-2.8,102.2h2.8M-2.8,96.6h2.8M-2.8,90.9h2.8M-2.8,79.5h2.8M-2.8,73.8h2.8M-2.8,68.2h2.8M-2.8,62.5h2.8M-2.8,51.1h2.8M-2.8,45.4h2.8M-2.8,39.8h2.8M-2.8,34.1h2.8M-2.8,22.7h2.8M-2.8,17.0h2.8M-2.8,11.4h2.8M-2.8,5.7h2.8M14.2,142.0v2.8M28.3,142.0v2.8M42.5,142.0v2.8M70.8,142.0v2.8M84.9,142.0v2.8M99.0,142.0v2.8M127.4,142.0v2.8M141.5,142.0v2.8M155.7,142.0v2.8M184.0,142.0v2.8M198.1,142.0v2.8" stroke="#222" stroke-width="0.7" fill="none"/>
<text x="-12.5" y="146.5" font-size="12" text-anchor="end">20N</text>
<text x="-12.5" y="118.1" font-size="12" text-anchor="end">30N</text>
<text x="-12.5" y="89.7" font-size="12" text-anchor="end">40N</text>
<text x="-12.5" y="61.3" font-size="12" text-anchor="end">50N</text>
<text x="-12.5" y="32.9" font-size="12" text-anchor="end">60N</text>
<text x="-12.5" y="4.5" font-size="12" text-anchor="end">70N</text>
<text x="0.0" y="164.3" font-size="12" text-anchor="middle">0</text>
<text x="56.6" y="164.3" font-size="12" text-anchor="middle">20E</text>
<text x="113.2" y="164.3" font-size="12" text-anchor="middle">40E</text>
<text x="169.8" y="164.3" font-size="12" text-anchor="middle">60E</text>
<text x="-1.1" y="-9.2" font-size="11.6">(c) EOF3 (CRU)</text>
<text x="197.1" y="-7.9" font-size="11.6" text-anchor="end">11.7%</text>
</g>
<g transform="translate(289.1,452.9)">
<g clip-path="url(#frame)">
<g clip-path="url(#land)"><path fill="#fffcea" fill-rule="evenodd" d="M169.8,99.4 171.2,99.5 174.0,99.3 184.0,97.0 186.8,96.7 189.6,96.6 192.4,96.8 195.3,97.5 196.7,98.3 198.1,99.4 200.9,99.4 200.9,0.0 198.1,0.0 198.1,-2.8 155.7,-2.8 155.7,0.0 154.7,5.7 154.0,8.5 153.0,11.4 151.4,14.2 150.4,15.6 145.7,21.3 142.9,25.5 140.9,29.8 139.1,35.5 137.6,41.2 136.8,45.4 135.2,61.1 135.2,63.9 135.4,65.3 136.4,68.2 138.3,71.0 141.5,74.6 144.0,78.1 145.7,81.2 149.0,88.0 150.0,89.6 151.4,91.3 154.2,93.4 157.1,94.9 165.6,98.3Z"/><path fill="#fff3c6" fill-rule="evenodd" d="M165.0,93.7 168.4,94.5 171.2,94.8 175.5,94.6 184.0,93.4 191.0,94.2 196.7,93.7 198.1,94.0 200.9,93.9 200.9,9.8 198.1,9.8 191.0,7.0 186.8,5.8 184.0,5.4 181.1,5.4 178.8,5.7 176.9,6.3 175.5,7.0 174.0,8.1 172.6,9.7 168.0,17.0 165.6,19.9 161.1,24.1 152.8,30.7 150.0,33.6 147.7,36.9 145.5,41.2 143.9,45.4 143.0,48.3 142.3,51.1 141.6,55.4 141.3,59.6 141.4,62.5 141.8,65.3 142.7,68.2 144.0,71.0 147.2,76.7 150.5,83.8 151.4,85.4 152.8,87.4 155.0,89.5 157.1,90.8 161.3,92.6Z"/><path fill="#fbe794" fill-rule="evenodd" d="M188.0,92.3 189.6,92.8 191.0,92.9 192.4,92.8 195.3,91.8 199.5,88.8 200.9,88.6 200.9,18.6 198.1,18.6 195.3,19.1 192.4,19.7 189.6,20.6 181.1,24.1 168.4,29.0 165.6,30.4 161.3,32.8 158.5,34.8 155.7,37.1 153.1,39.8 151.4,42.0 149.2,45.4 147.9,48.3 146.9,51.1 146.2,54.0 145.7,58.2 145.7,61.1 146.1,63.9 146.8,66.7 147.8,69.6 152.8,80.9 154.2,83.4 155.7,85.2 157.3,86.6 159.9,88.0 164.1,89.4 167.0,90.0 171.2,90.4 182.5,89.9 184.0,90.3Z"/><path fill="#fdd06e" fill-rule="evenodd" d="M187.4,90.9 189.6,91.9 191.0,92.0 192.4,91.9 194.6,90.9 196.0,89.5 196.6,88.0 196.8,86.6 196.6,83.8 196.8,82.4 198.1,80.6 200.9,80.5 200.9,28.4 198.1,28.4 195.3,29.9 191.0,31.3 186.8,32.0 176.9,33.0 172.6,33.8 168.4,35.1 165.6,36.4 162.7,38.0 159.9,39.9 157.1,42.4 155.5,44.0 154.2,45.6 152.4,48.3 151.0,51.1 150.1,54.0 149.6,56.8 149.6,59.6 149.9,62.5 150.6,65.3 151.7,68.2 155.7,77.0 157.1,79.6 158.5,81.4 159.9,82.6 161.3,83.4 162.7,84.0 165.6,84.8 172.6,85.3 182.5,85.5 184.0,86.2 185.8,89.5Z"/><path fill="#feb945" fill-rule="evenodd" d="M189.0,90.9 189.6,91.2 191.0,91.4 192.4,91.1 193.9,90.4 194.8,89.5 195.4,88.0 195.3,86.3 194.8,85.2 193.9,84.0 192.4,83.1 191.0,82.7 189.6,82.8 188.2,83.5 186.8,85.2 186.3,86.6 186.4,88.0 187.1,89.5 188.2,90.4ZM171.0,76.7 175.5,77.2 179.7,77.5 182.5,77.5 185.4,77.0 188.2,76.1 191.0,74.6 198.1,69.2 200.9,69.2 200.9,40.5 196.7,40.4 186.8,38.8 182.5,38.4 176.9,38.4 172.6,38.9 168.4,40.2 164.1,42.3 159.9,45.4 157.2,48.3 155.7,50.6 154.6,52.5 154.1,54.0 153.5,56.8 153.5,58.2 153.8,61.1 154.2,62.8 155.3,65.3 157.1,68.3 158.5,70.1 161.3,73.0 162.7,74.1 165.6,75.6 168.4,76.3Z"/><path fill="#fc972d" fill-rule="evenodd" d="M188.1,89.5 189.6,90.5 191.0,90.7 192.4,90.4 193.9,89.4 194.5,88.0 194.4,86.6 193.9,85.7 192.4,84.5 191.0,84.2 189.6,84.4 188.2,85.4 187.5,86.6 187.4,88.0ZM169.0,68.2 172.6,68.7 176.9,68.9 181.1,68.5 184.0,68.0 187.8,66.7 191.0,65.2 195.5,62.5 198.1,60.4 200.9,60.4 200.9,50.8 198.1,50.8 193.9,48.3 189.6,46.2 185.4,44.7 181.1,43.8 176.9,43.5 174.0,43.6 169.8,44.6 167.0,45.8 163.2,48.3 160.5,51.1 159.5,52.5 158.5,54.9 158.1,56.8 158.1,58.2 158.3,59.6 158.8,61.1 159.9,62.9 161.3,64.5 162.7,65.6 164.6,66.7 167.0,67.7Z"/><path fill="#f77f2d" fill-rule="evenodd" d="M189.2,89.5 189.6,89.8 191.0,90.1 192.4,89.7 192.8,89.5 193.7,88.0 193.4,86.6 192.4,85.6 191.3,85.2 189.6,85.5 188.5,86.6 188.3,88.0ZM173.4,62.5 176.9,62.4 179.7,61.9 182.3,61.1 184.8,59.6 186.3,58.2 187.0,56.8 187.0,55.4 186.4,54.0 185.1,52.5 182.9,51.1 181.1,50.3 178.3,49.5 175.5,49.3 172.6,49.6 169.8,50.5 168.4,51.3 166.8,52.5 165.6,54.1 165.0,55.4 164.8,56.8 165.1,58.2 166.1,59.6 168.0,61.1 171.2,62.2Z"/><path fill="#ee5a2d" fill-rule="evenodd" d="M191.0,89.5 192.4,88.7 192.8,88.0 192.5,86.6 191.0,86.0 189.5,86.6 189.1,88.0 189.6,88.7Z"/><path fill="#de3a2b" fill-rule="evenodd" d="M190.6,88.0 191.0,88.3 191.5,88.0 191.0,87.4Z"/><path fill="#f6fbfe" fill-rule="evenodd" d="M-2.8,144.8 14.2,144.8 14.2,142.0 24.1,142.0 28.3,142.0 28.3,144.8 42.5,144.8 42.5,142.0 50.9,142.0 56.6,142.0 56.6,144.8 70.8,144.8 70.8,142.0 77.8,142.0 84.9,142.0 84.9,144.8 99.1,144.8 99.1,142.0 109.0,141.7 113.2,142.0 113.2,144.8 127.4,144.8 127.4,142.0 129.6,140.6 130.8,139.2 131.5,137.7 132.1,134.9 132.3,132.1 131.8,127.8 131.1,125.0 130.2,122.2 127.7,116.4 127.4,115.0 127.4,113.6 127.6,112.2 128.2,110.8 133.1,102.2 137.3,95.8 138.4,93.7 139.0,92.3 139.4,89.5 139.1,86.6 138.5,85.2 137.6,83.8 135.8,82.1 134.2,80.9 131.6,79.6 116.0,73.2 114.6,72.4 113.2,71.0 112.7,69.6 112.8,68.2 113.3,66.7 114.6,64.5 118.7,58.2 119.3,56.8 120.0,54.0 120.2,51.1 120.0,48.3 117.5,31.2 117.1,25.6 117.4,19.6 119.8,4.3 120.1,0.0 120.1,-2.8 -2.8,-2.8 -2.8,113.6 99.0,113.6 101.9,113.4 104.7,112.9 107.5,111.5 111.6,107.9 113.2,107.4 114.6,107.6 115.2,107.9 116.3,109.3 116.3,110.8 115.3,112.2 114.6,112.7 113.2,113.6 109.0,115.7 103.2,119.3 94.8,123.1 86.3,127.2 83.5,128.3 80.7,128.9 76.4,128.9 67.9,127.3 63.7,127.0 60.8,127.1 55.2,128.0 50.9,128.2 38.2,127.7 -2.8,127.8ZM25.5,67.7 24.2,66.7 25.5,65.6 26.9,66.7ZM182.4,109.3 184.0,110.1 185.4,110.3 186.8,110.1 189.6,108.4 190.7,106.5 190.8,105.1 190.4,103.7 189.3,102.2 188.2,101.4 186.8,100.9 185.4,100.7 184.0,100.8 182.5,101.1 180.8,102.2 179.8,103.7 179.5,105.1 179.7,106.5 180.5,107.9 181.1,108.6Z"/><path fill="#e5f5fd" fill-rule="evenodd" d="M183.4,107.9 184.0,108.1 185.4,108.2 186.8,107.9 188.2,107.0 188.6,106.5 189.2,105.1 188.9,103.7 187.6,102.2 186.8,101.8 185.4,101.5 184.0,101.6 182.3,102.2 181.0,103.7 180.7,105.1 181.3,106.5 182.5,107.6ZM-2.8,99.4 67.9,99.4 82.1,99.1 83.5,99.2 90.6,100.5 93.4,100.6 97.6,99.8 104.7,97.3 109.0,96.4 113.2,96.0 120.3,96.6 123.1,96.5 124.5,96.2 125.9,95.7 127.4,94.8 128.7,93.7 129.8,92.3 130.6,90.9 130.9,89.5 130.9,88.0 130.3,86.6 129.4,85.2 127.7,83.8 125.9,82.7 123.1,81.3 116.0,78.8 109.2,76.7 107.5,75.9 106.1,74.7 105.5,73.8 105.1,72.4 105.2,71.0 106.2,68.2 107.9,65.3 111.7,59.6 113.2,56.8 114.0,54.0 114.3,51.1 114.2,48.3 113.8,45.4 111.4,34.1 110.5,28.4 110.0,22.7 109.9,11.4 109.6,7.1 108.8,2.8 107.5,0.0 107.5,-2.8 -2.8,-2.8ZM24.1,69.7 22.6,68.2 22.3,66.7 22.7,65.3 24.1,64.3 25.5,64.0 26.9,64.3 28.2,65.3 28.8,66.7 28.6,68.2 28.3,68.7 26.9,70.0 25.5,70.2Z"/><path fill="#d4ecfa" fill-rule="evenodd" d="M182.7,106.5 184.0,107.2 185.4,107.3 186.8,106.8 187.1,106.5 188.0,105.1 187.8,103.7 186.8,102.7 185.4,102.2 184.0,102.3 182.5,103.1 182.0,103.7 181.8,105.1ZM11.1,93.7 25.5,94.7 36.8,95.0 58.0,94.8 63.7,94.5 67.9,93.8 70.8,93.1 73.6,91.7 76.4,89.5 80.6,85.2 82.4,83.8 84.9,82.1 92.8,78.1 94.8,76.7 96.2,75.3 97.6,73.3 100.9,68.2 105.9,61.1 107.7,58.2 108.9,55.4 109.2,54.0 109.5,51.1 109.4,48.3 109.0,45.4 107.1,35.5 106.1,29.8 104.7,15.6 104.1,11.4 103.4,8.5 102.4,5.7 101.0,2.8 99.0,0.0 99.0,-2.8 -2.8,-2.8 -2.8,93.7 5.7,93.5ZM24.1,74.1 22.6,72.7 21.2,70.2 20.6,68.2 20.6,66.7 21.1,65.3 22.6,63.7 24.1,63.1 25.5,62.9 26.9,63.1 28.5,63.9 29.8,65.3 30.4,66.7 30.5,68.2 30.3,69.6 29.7,71.6 28.3,73.9 26.9,74.7 25.5,74.7ZM117.3,93.7 118.9,94.2 121.7,94.4 123.1,94.1 124.5,93.5 125.9,92.6 127.3,90.9 127.7,89.5 127.6,88.0 126.9,86.6 125.9,85.6 124.5,84.6 123.1,84.0 120.3,83.3 117.4,83.3 114.1,83.8 111.8,84.3 109.3,85.2 108.8,86.6 109.7,88.0 110.4,88.5 112.6,90.9 114.5,92.3 116.0,93.2Z"/><path fill="#b9e4f8" fill-rule="evenodd" d="M182.8,105.1 184.0,106.2 185.4,106.4 186.8,105.4 187.0,105.1 186.7,103.7 185.4,103.0 184.0,103.1 183.1,103.7ZM117.6,92.3 118.9,92.8 120.3,93.1 121.7,93.1 123.1,92.7 124.0,92.3 125.6,90.9 126.1,89.5 125.9,88.0 125.0,86.6 123.1,85.4 121.7,85.0 120.3,84.9 118.9,85.0 117.4,85.5 115.8,86.6 115.0,88.0 115.0,89.5 115.8,90.9ZM34.3,90.9 46.7,91.3 56.6,91.1 63.7,90.3 66.5,89.6 69.3,88.5 72.2,86.8 79.5,80.9 88.6,75.3 92.0,72.6 96.2,67.8 102.3,59.6 103.8,56.8 104.7,54.0 105.1,51.1 104.8,46.9 102.4,34.1 100.5,20.9 99.4,15.6 97.5,9.9 92.4,0.0 92.4,-2.8 -2.8,-2.8 -2.8,88.4 15.6,88.8ZM25.5,81.0 24.1,80.9 22.6,80.5 21.2,79.7 19.8,78.2 18.9,76.7 18.4,75.3 18.0,72.4 18.3,68.2 19.2,65.3 20.2,63.9 22.2,62.5 24.1,61.9 25.5,61.8 26.9,61.9 28.4,62.5 30.5,63.9 31.5,65.3 32.6,68.2 33.0,71.0 33.1,72.4 32.5,75.3 31.0,78.1 29.7,79.4 28.3,80.3 26.9,80.8Z"/><path fill="#a5daf5" fill-rule="evenodd" d="M184.0,105.1 185.4,105.3 185.6,105.1 185.4,104.4ZM117.6,90.9 118.9,91.7 120.3,92.0 121.7,92.0 123.1,91.6 124.1,90.9 124.8,89.5 124.6,88.0 123.1,86.6 121.7,86.1 120.3,86.0 118.9,86.3 117.4,87.3 116.9,88.0 116.8,89.5ZM38.3,86.6 41.0,87.2 45.3,87.7 49.5,87.7 53.8,87.6 58.0,87.1 62.3,86.4 65.1,85.5 67.9,84.3 70.8,82.6 77.2,78.1 84.9,73.3 88.0,71.0 90.8,68.2 94.3,63.9 97.4,59.6 99.0,56.8 99.6,55.4 100.2,52.5 100.2,48.3 96.0,28.4 94.8,23.8 93.4,19.5 92.0,16.2 87.6,7.1 85.8,2.8 84.9,0.0 84.9,-2.8 14.1,-2.8 14.1,0.0 15.6,2.8 16.0,4.3 16.3,5.7 16.0,8.5 15.2,11.4 14.1,14.2 11.3,20.8 9.9,23.6 8.5,25.8 7.1,27.3 5.7,28.5 4.2,29.1 2.8,29.5 1.4,29.3 0.0,28.4 -2.8,28.4 -2.8,80.4 0.0,80.4 1.4,82.1 2.8,82.7 4.2,83.0 5.7,83.1 8.5,82.8 10.0,82.4 11.3,81.6 12.1,80.9 13.0,79.5 13.4,78.1 14.1,71.0 14.8,68.2 15.9,65.3 17.0,63.9 18.5,62.5 19.8,61.6 21.2,61.0 24.1,60.4 26.9,60.5 29.7,61.5 31.3,62.5 32.8,63.9 34.6,66.7 35.7,69.6 36.0,71.0 36.1,73.8 35.8,76.7 34.6,82.4 34.6,83.8 35.4,85.2 36.8,86.0Z"/><path fill="#82c4e8" fill-rule="evenodd" d="M119.8,90.9 120.3,91.0 121.7,91.0 123.1,90.0 123.5,89.5 123.2,88.0 121.7,87.2 120.3,87.2 118.9,87.8 118.6,88.0 118.3,89.5 118.9,90.2ZM42.4,82.4 43.9,83.0 46.7,83.5 49.5,83.6 53.8,83.2 58.1,82.4 62.3,81.1 66.2,79.5 69.3,78.0 80.7,71.5 83.4,69.6 85.0,68.2 87.7,65.3 90.7,61.1 92.4,58.2 93.6,55.4 94.1,52.5 94.0,49.7 93.3,46.9 92.0,43.3 87.7,33.8 79.2,18.0 73.5,4.3 71.9,1.4 70.8,0.0 70.8,-2.8 47.1,-2.8 47.1,0.0 37.3,4.3 35.0,5.7 33.4,7.1 32.2,8.5 25.3,18.5 22.6,22.7 21.3,25.6 20.3,28.4 18.9,34.1 18.0,36.9 16.4,39.8 13.1,44.0 11.8,46.9 11.3,49.7 11.4,52.5 11.6,54.0 12.2,55.4 12.7,56.0 14.2,56.8 15.6,57.1 24.1,58.0 28.3,58.6 29.7,59.1 32.5,60.4 34.0,61.4 35.4,62.7 37.1,65.3 38.2,68.2 38.9,71.0 39.6,77.5 40.1,79.5 41.0,81.2ZM4.1,75.3 5.7,75.7 6.9,75.3 8.5,73.3 9.2,71.0 9.6,68.2 9.8,65.3 9.7,62.5 9.4,61.1 8.7,59.6 7.1,58.7 4.2,58.2 1.4,58.1 1.2,58.2 0.9,59.6 1.4,66.7 1.8,69.6 2.8,73.8ZM-2.8,56.8 -1.1,56.8Z"/><path fill="#69acde" fill-rule="evenodd" d="M45.3,76.7 46.7,77.5 48.1,77.8 49.5,77.9 52.4,77.3 59.4,74.6 70.7,71.0 73.9,69.6 77.8,67.3 80.2,65.3 82.1,63.2 83.4,61.1 84.6,58.2 85.0,55.4 84.9,54.0 84.5,52.5 83.5,50.6 81.4,48.3 79.2,46.7 66.5,40.4 62.3,38.7 59.4,38.0 56.6,37.8 53.8,37.9 50.9,38.4 46.7,39.9 43.9,41.5 38.2,46.0 31.6,49.7 30.4,51.1 30.6,52.5 32.1,54.0 35.4,56.1 36.8,57.3 38.7,59.6 39.6,61.3 40.6,63.9 42.5,71.0 43.4,73.8 44.0,75.3ZM51.5,19.9 53.8,20.1 56.6,19.9 59.4,19.3 60.8,18.8 62.3,17.9 63.7,16.5 65.1,13.8 65.6,11.4 65.7,9.9 65.5,7.1 65.1,5.7 64.6,4.3 63.8,2.8 62.4,1.4 60.8,0.5 58.9,0.0 58.9,-2.8 56.6,-2.8 56.6,0.0 55.2,0.3 52.4,1.4 49.9,2.8 46.2,5.7 43.8,8.5 43.1,9.9 42.6,11.4 42.4,12.8 42.5,14.2 42.9,15.6 44.0,17.0 45.3,18.0 46.7,18.7 49.5,19.6Z"/><path fill="#468ac8" fill-rule="evenodd" d="M51.6,66.7 53.8,66.6 63.7,64.8 66.8,63.9 69.3,62.7 71.2,61.1 72.1,59.6 72.5,58.2 72.4,56.8 71.7,55.4 70.6,54.0 69.1,52.5 67.2,51.1 64.9,49.7 62.3,48.5 59.4,47.6 58.0,47.4 56.6,47.5 55.2,47.8 53.8,48.4 52.0,49.7 50.7,51.1 49.8,52.5 48.6,55.4 47.9,58.2 47.8,61.1 48.2,63.9 48.9,65.3 49.5,66.0 50.9,66.7Z"/></g>

<use href="#coast"/>
<path d="M57.3,3.7h0M68.6,3.7h0M79.9,3.7h0M91.3,3.7h0M40.3,9.4h0M51.6,9.4h0M63.0,9.4h0M74.3,9.4h0M85.6,9.4h0M34.7,15.1h0M46.0,15.1h0M57.3,15.1h0M79.9,15.1h0M91.3,15.1h0M29.0,20.7h0M40.3,20.7h0M63.0,20.7h0M74.3,20.7h0M85.6,20.7h0M96.9,20.7h0M23.3,26.4h0M34.7,26.4h0M46.0,26.4h0M68.6,26.4h0M102.6,26.4h0M170.5,26.4h0M181.8,26.4h0M193.1,26.4h0M17.7,32.1h0M40.3,32.1h0M74.3,32.1h0M85.6,32.1h0M96.9,32.1h0M164.8,32.1h0M176.2,32.1h0M187.5,32.1h0M68.6,37.8h0M79.9,37.8h0M91.3,37.8h0M102.6,37.8h0M159.2,37.8h0M170.5,37.8h0M181.8,37.8h0M193.1,37.8h0M63.0,43.5h0M74.3,43.5h0M85.6,43.5h0M96.9,43.5h0M153.5,43.5h0M164.8,43.5h0M176.2,43.5h0M187.5,43.5h0M23.3,49.1h0M34.7,49.1h0M46.0,49.1h0M57.3,49.1h0M68.6,49.1h0M79.9,49.1h0M91.3,49.1h0M102.6,49.1h0M147.9,49.1h0M159.2,49.1h0M170.5,49.1h0M181.8,49.1h0M193.1,49.1h0M6.4,54.8h0M17.7,54.8h0M29.0,54.8h0M40.3,54.8h0M51.6,54.8h0M63.0,54.8h0M74.3,54.8h0M85.6,54.8h0M96.9,54.8h0M153.5,54.8h0M164.8,54.8h0M176.2,54.8h0M187.5,54.8h0M12.0,60.5h0M23.3,60.5h0M34.7,60.5h0M46.0,60.5h0M57.3,60.5h0M68.6,60.5h0M79.9,60.5h0M91.3,60.5h0M102.6,60.5h0M147.9,60.5h0M159.2,60.5h0M170.5,60.5h0M181.8,60.5h0M193.1,60.5h0M6.4,66.2h0M17.7,66.2h0M40.3,66.2h0M51.6,66.2h0M63.0,66.2h0M74.3,66.2h0M85.6,66.2h0M96.9,66.2h0M153.5,66.2h0M164.8,66.2h0M176.2,66.2h0M187.5,66.2h0M12.0,71.9h0M46.0,71.9h0M57.3,71.9h0M68.6,71.9h0M79.9,71.9h0M147.9,71.9h0M159.2,71.9h0M181.8,71.9h0M193.1,71.9h0M6.4,77.5h0M63.0,77.5h0M74.3,77.5h0M153.5,77.5h0M164.8,77.5h0M176.2,77.5h0M187.5,77.5h0M46.0,83.2h0M57.3,83.2h0M91.3,83.2h0M102.6,83.2h0M113.9,83.2h0M125.2,83.2h0M159.2,83.2h0M170.5,83.2h0M181.8,83.2h0M193.1,83.2h0M63.0,88.9h0M85.6,88.9h0M96.9,88.9h0M108.2,88.9h0M119.6,88.9h0M164.8,88.9h0M176.2,88.9h0M187.5,88.9h0M91.3,94.6h0M113.9,94.6h0M125.2,94.6h0" stroke="#000" stroke-width="3.4" stroke-linecap="round" fill="none"/>
</g>
<rect x="0" y="0" width="198.1" height="142.0" fill="none" stroke="#000" stroke-width="1.1"/>
<path d="M-5.2,142.0h5.2M-5.2,113.6h5.2M-5.2,85.2h5.2M-5.2,56.8h5.2M-5.2,28.4h5.2M-5.2,0.0h5.2M0.0,142.0v5.2M56.6,142.0v5.2M113.2,142.0v5.2M169.8,142.0v5.2" stroke="#000" stroke-width="1" fill="none"/>
<path d="M-2.8,136.3h2.8M-2.8,130.6h2.8M-2.8,125.0h2.8M-2.8,119.3h2.8M-2.8,107.9h2.8M-2.8,102.2h2.8M-2.8,96.6h2.8M-2.8,90.9h2.8M-2.8,79.5h2.8M-2.8,73.8h2.8M-2.8,68.2h2.8M-2.8,62.5h2.8M-2.8,51.1h2.8M-2.8,45.4h2.8M-2.8,39.8h2.8M-2.8,34.1h2.8M-2.8,22.7h2.8M-2.8,17.0h2.8M-2.8,11.4h2.8M-2.8,5.7h2.8M14.2,142.0v2.8M28.3,142.0v2.8M42.5,142.0v2.8M70.8,142.0v2.8M84.9,142.0v2.8M99.0,142.0v2.8M127.4,142.0v2.8M141.5,142.0v2.8M155.7,142.0v2.8M184.0,142.0v2.8M198.1,142.0v2.8" stroke="#222" stroke-width="0.7" fill="none"/>
<text x="-12.5" y="146.5" font-size="12" text-anchor="end">20N</text>
<text x="-12.5" y="118.1" font-size="12" text-anchor="end">30N</text>
<text x="-12.5" y="89.7" font-size="12" text-anchor="end">40N</text>
<text x="-12.5" y="61.3" font-size="12" text-anchor="end">50N</text>
<text x="-12.5" y="32.9" font-size="12" text-anchor="end">60N</text>
<text x="-12.5" y="4.5" font-size="12" text-anchor="end">70N</text>
<text x="0.0" y="164.3" font-size="12" text-anchor="middle">0</text>
<text x="56.6" y="164.3" font-size="12" text-anchor="middle">20E</text>
<text x="113.2" y="164.3" font-size="12" text-anchor="middle">40E</text>
<text x="169.8" y="164.3" font-size="12" text-anchor="middle">60E</text>
<text x="-1.1" y="-9.2" font-size="11.6">(f) EOF3 (NCEP LST)</text>
<text x="197.1" y="-7.9" font-size="11.6" text-anchor="end">9.2%</text>
</g>
<g transform="translate(544.5,452.9)">
<g clip-path="url(#frame)">
<g clip-path="url(#land)"><path fill="#fffcea" fill-rule="evenodd" d="M113.2,144.8 117.5,144.8 117.7,143.4 118.2,142.0 120.3,141.5 122.3,140.6 123.9,139.2 124.9,137.7 125.5,136.3 125.8,134.9 125.8,132.1 125.4,130.6 124.7,129.2 123.5,127.8 121.7,126.6 120.3,126.0 118.9,125.8 117.4,125.8 116.0,126.0 113.2,126.9 111.5,127.8 109.0,129.6 107.8,130.6 106.7,132.1 106.0,133.5 105.6,134.9 105.6,136.3 106.1,137.9 107.0,139.2 108.8,140.6 110.4,141.3 113.1,142.0ZM155.7,113.6 157.1,113.6 159.9,113.0 167.0,110.1 171.2,108.8 186.8,106.2 192.4,104.8 198.1,103.1 200.9,103.1 200.9,-2.8 132.1,-2.8 132.1,0.0 133.7,15.6 136.6,35.5 137.8,42.6 143.4,63.9 145.4,69.6 148.7,76.7 149.6,79.5 150.0,82.4 149.6,85.2 148.6,87.5 147.1,89.5 142.9,93.5 141.5,95.1 139.9,98.0 139.6,99.4 139.6,100.8 140.1,102.6 141.5,105.1 144.3,107.8 148.6,110.7 151.4,112.3 154.2,113.4Z"/><path fill="#fff3c6" fill-rule="evenodd" d="M115.2,136.3 116.0,136.8 117.4,137.1 118.9,136.9 120.3,136.3 121.7,134.9 122.2,133.5 122.3,132.1 121.8,130.6 120.3,129.2 118.9,128.8 117.4,128.8 116.0,129.4 114.6,130.6 113.9,132.1 113.6,133.5 113.9,134.9ZM161.9,102.2 169.8,102.5 179.7,102.1 188.2,101.1 198.1,99.4 200.9,99.4 200.9,-2.8 141.5,-2.8 141.2,7.1 141.6,15.6 143.1,31.2 144.4,39.8 146.3,48.3 149.1,58.2 151.1,63.9 155.2,73.8 156.0,76.7 156.6,79.5 156.9,83.8 156.8,86.6 156.3,90.9 155.3,96.6 155.2,98.0 155.6,99.4 157.1,100.8 159.9,101.9Z"/><path fill="#fbe794" fill-rule="evenodd" d="M170.9,96.6 175.5,97.2 181.1,97.3 198.1,95.8 200.9,95.8 200.9,-2.8 148.0,-2.8 147.8,9.9 148.0,19.9 148.8,28.4 150.4,36.9 154.2,52.1 155.6,56.8 157.1,60.4 160.6,68.2 161.5,71.0 162.1,75.3 162.4,85.2 163.2,89.5 164.1,91.8 165.6,93.8 167.0,94.9 168.4,95.7Z"/><path fill="#fdd06e" fill-rule="evenodd" d="M179.6,92.3 184.0,92.4 193.9,91.9 200.9,92.0 200.9,-2.8 154.2,-2.8 154.3,17.0 154.7,22.7 155.7,28.4 157.1,33.1 160.5,42.6 162.6,52.5 163.4,55.4 164.6,58.2 169.0,66.7 169.7,69.6 169.7,72.4 168.5,78.1 168.1,80.9 168.1,83.8 168.3,85.2 168.8,86.6 169.8,88.3 171.2,89.8 172.6,90.7 175.5,91.7Z"/><path fill="#feb945" fill-rule="evenodd" d="M197.0,86.6 198.1,86.9 200.9,86.9 200.9,71.0 198.1,71.0 194.6,72.4 188.2,74.3 185.4,75.4 183.0,76.7 181.1,78.1 179.9,79.5 179.2,80.9 179.2,82.4 180.1,83.8 182.5,84.9 185.4,85.3 192.4,85.7ZM196.9,66.7 198.1,68.1 200.9,68.1 200.9,-2.8 163.5,-2.8 163.5,0.0 162.9,2.8 162.7,7.1 163.0,11.4 163.8,15.6 164.7,18.5 165.6,20.6 169.8,28.4 171.7,32.7 173.5,38.3 175.7,46.9 176.9,49.9 178.3,52.2 179.9,54.0 182.5,55.9 189.6,60.4 192.2,62.5Z"/><path fill="#fc972d" fill-rule="evenodd" d="M194.7,41.2 198.1,42.6 200.9,42.6 200.9,-2.8 175.5,-2.8 175.5,0.0 175.0,1.4 174.4,4.3 174.4,8.5 174.9,11.4 175.7,14.2 179.1,22.7 181.1,27.1 183.3,31.2 185.2,34.1 186.4,35.5 189.6,38.4 192.4,40.1Z"/><path fill="#f77f2d" fill-rule="evenodd" d="M196.6,29.8 198.1,30.3 200.9,30.3 200.9,-2.8 186.1,-2.8 186.1,0.0 185.2,2.8 184.8,7.1 185.2,11.4 186.6,17.0 188.4,21.3 189.6,23.5 191.0,25.5 192.4,27.1 193.9,28.3Z"/><path fill="#ee5a2d" fill-rule="evenodd" d="M197.3,19.9 198.1,20.7 200.9,20.7 200.9,0.0 198.1,0.0 196.7,0.9 196.0,1.4 194.9,2.8 194.2,4.3 193.8,5.7 193.5,8.5 193.9,12.8 194.8,15.6 195.4,17.0Z"/><path fill="#f6fbfe" fill-rule="evenodd" d="M198.1,127.8 200.9,127.8 200.9,113.6 198.1,113.6 195.9,116.4 194.8,119.3 194.6,120.7 194.7,122.1 195.1,123.5 195.8,125.0 196.7,126.3ZM103.1,115.0 107.5,115.0 111.8,114.1 113.2,113.6 114.6,112.8 115.6,112.2 117.0,110.8 117.9,109.3 118.4,107.9 118.7,106.5 119.1,102.2 119.4,100.8 119.9,99.4 125.1,90.9 126.5,88.0 127.4,85.2 127.5,83.8 127.3,80.9 125.5,73.8 125.1,71.0 125.1,68.2 125.8,61.1 126.0,56.8 125.9,52.5 125.4,48.3 124.8,44.0 123.5,38.3 119.4,25.6 117.7,18.5 117.2,14.2 116.9,9.9 116.8,-2.8 -2.8,-2.8 -2.8,99.4 7.1,99.2 24.1,99.5 36.8,99.0 42.5,99.4 51.4,100.8 58.0,102.1 67.9,104.9 72.2,105.9 77.8,106.7 89.0,107.9 92.0,108.4 93.4,108.8 94.8,109.5 96.2,110.7 99.1,113.6 100.5,114.3Z"/><path fill="#e5f5fd" fill-rule="evenodd" d="M70.8,99.4 77.8,100.0 83.5,99.6 90.6,98.2 100.5,95.4 104.8,93.7 107.4,92.3 109.0,91.1 110.7,89.5 111.8,88.0 112.7,86.6 113.2,85.2 113.6,82.4 113.4,79.5 112.7,75.3 112.7,72.4 113.2,71.0 113.9,69.6 117.4,63.8 118.9,60.4 119.5,58.2 120.0,55.4 120.2,49.7 119.5,44.0 118.4,39.8 116.1,34.1 111.9,25.6 110.8,22.7 109.6,18.5 108.9,14.2 108.6,9.9 109.1,-2.8 -2.8,-2.8 -2.8,66.3 0.0,66.3 3.4,68.2 5.7,70.1 7.1,71.7 8.5,73.8 11.6,80.9 13.1,83.8 15.6,86.7 17.2,88.0 19.8,89.6 23.1,90.9 26.9,91.6 29.7,91.7 35.4,91.6 38.2,91.8 41.0,92.5 48.1,95.4 52.4,96.7 56.6,97.5ZM-2.8,85.2 0.0,85.2Z"/><path fill="#d4ecfa" fill-rule="evenodd" d="M54.1,93.7 58.0,94.3 62.3,94.3 65.1,93.9 70.8,92.5 73.6,92.1 76.4,92.2 83.5,93.1 86.3,93.1 90.6,92.5 96.2,91.1 99.9,89.5 101.9,88.0 103.2,86.6 104.0,85.2 104.3,83.8 104.2,82.4 103.8,80.9 102.3,78.1 99.5,73.8 99.0,72.4 99.0,71.0 99.7,69.6 100.9,68.2 102.6,66.7 109.0,62.2 110.4,60.9 111.8,59.3 113.2,56.8 114.1,54.0 114.4,51.1 114.4,48.3 113.6,44.0 113.2,42.6 111.9,39.8 110.2,36.9 104.1,28.4 101.9,24.1 100.3,19.9 99.3,15.6 98.6,9.9 98.6,5.7 99.0,0.0 99.0,-2.8 28.3,-2.8 28.3,0.0 24.1,0.3 21.2,0.7 19.8,1.6 19.2,2.8 16.5,9.9 14.2,14.2 12.7,16.0 11.3,17.4 8.5,19.4 7.1,19.9 5.7,20.2 4.2,20.2 2.8,19.7 1.4,18.2 0.9,17.0 0.0,14.2 -2.8,14.2 -2.8,60.2 0.0,60.2 1.4,60.8 5.7,63.0 9.9,66.2 11.9,68.2 14.2,71.0 17.6,76.7 19.8,79.8 22.4,82.4 24.1,83.6 25.5,84.3 28.3,85.2 36.8,85.8 39.6,86.5 42.5,87.7 47.3,90.9 49.5,92.1 52.4,93.2ZM-2.8,0.0 4.2,0.2 14.2,0.0 14.2,-2.8 -2.8,-2.8Z"/><path fill="#b9e4f8" fill-rule="evenodd" d="M55.6,90.9 58.0,91.1 59.4,91.0 60.8,90.8 63.7,89.9 66.5,88.3 70.8,85.2 72.2,84.5 75.0,83.6 76.4,83.5 79.2,83.7 84.9,85.2 86.3,85.4 89.1,85.3 90.6,84.7 91.7,83.8 92.0,82.4 91.4,80.9 89.8,78.1 88.8,75.3 88.7,73.8 88.8,72.4 89.2,71.0 89.9,69.6 90.9,68.2 93.4,65.6 101.0,59.6 104.1,56.8 105.1,55.4 106.3,52.5 106.5,51.1 106.4,48.3 105.6,45.4 104.1,42.6 93.4,27.5 87.2,19.9 85.4,17.0 85.0,15.6 84.9,14.2 85.5,2.8 85.3,1.4 84.9,0.0 84.9,-2.8 77.9,-2.8 77.9,0.0 73.6,0.4 70.8,0.0 70.8,-2.8 48.3,-2.8 48.3,0.0 49.5,2.0 50.9,2.8 52.4,3.3 59.4,4.1 62.3,4.9 63.5,5.7 64.7,7.1 67.3,11.4 68.6,12.8 70.8,14.2 76.9,17.0 78.6,18.5 79.2,19.9 79.1,21.3 78.7,22.7 78.0,24.1 76.9,25.6 75.0,27.2 72.2,28.3 70.8,28.4 69.3,28.0 67.9,27.2 66.5,25.6 63.7,20.4 62.2,18.5 60.7,17.0 56.6,14.2 54.9,12.8 52.2,9.9 49.5,6.4 48.1,5.2 46.7,4.7 43.9,4.5 39.6,4.7 35.4,5.3 32.5,6.0 30.0,7.1 28.3,8.2 26.9,9.5 24.4,12.8 19.8,20.8 17.0,25.0 7.1,36.4 4.2,39.4 1.4,41.7 0.0,42.6 -2.8,42.6 -2.8,49.9 0.0,49.9 4.0,54.0 11.3,59.8 14.2,62.4 17.9,66.7 22.7,73.8 25.5,76.9 27.0,78.1 29.7,79.4 32.5,80.1 38.2,81.1 41.0,82.0 43.9,83.6 48.1,87.2 50.9,89.1 53.8,90.4Z"/><path fill="#a5daf5" fill-rule="evenodd" d="M53.6,86.6 55.2,87.2 56.6,87.5 58.0,87.5 59.4,87.2 61.1,86.6 63.2,85.2 67.9,80.5 69.3,79.3 70.8,78.3 76.3,75.3 78.1,73.8 79.5,72.4 82.8,68.2 85.3,65.3 93.2,58.2 94.5,56.8 95.5,55.4 96.3,54.0 96.7,52.5 97.0,51.1 96.8,48.3 96.5,46.9 95.4,44.0 94.0,41.2 92.1,38.3 90.6,36.5 89.1,35.2 87.7,34.2 86.3,33.6 84.9,33.2 82.1,33.3 72.2,35.9 67.9,36.5 65.1,36.5 62.3,36.4 60.8,36.1 59.0,35.5 57.8,34.1 57.0,29.8 56.6,28.4 56.0,27.0 54.0,24.1 51.3,21.3 46.7,17.0 43.9,15.0 42.5,14.2 41.0,13.7 39.6,13.5 38.2,13.6 36.8,13.9 35.4,14.4 34.0,15.4 32.5,16.7 31.1,18.8 29.4,22.7 28.5,27.0 28.3,29.8 28.5,32.7 29.4,35.5 29.7,36.3 31.1,38.2 32.5,39.0 34.0,39.0 38.2,38.3 42.5,38.1 45.3,38.4 46.8,39.8 45.5,41.2 42.5,42.6 41.0,42.9 38.2,43.1 36.8,42.9 34.8,42.6 32.5,41.7 31.1,41.5 29.7,41.8 28.3,42.6 25.5,44.5 24.1,45.8 22.0,48.3 21.1,49.7 20.6,51.1 20.3,52.5 20.4,55.4 20.8,56.8 21.9,59.6 25.4,66.7 27.2,69.6 28.3,71.0 29.7,72.4 32.0,73.8 34.0,74.7 41.0,76.9 43.9,78.2 46.7,80.4 51.5,85.2Z"/><path fill="#82c4e8" fill-rule="evenodd" d="M56.5,80.9 58.0,80.8 59.4,79.8 62.1,76.7 63.7,75.3 65.8,73.8 70.8,71.0 72.7,69.6 75.0,67.3 80.4,61.1 84.9,56.8 86.1,55.4 87.1,54.0 87.7,52.5 88.1,51.1 88.1,48.3 87.8,46.9 87.2,45.4 86.3,44.0 84.9,42.6 83.5,41.8 82.1,41.3 80.7,41.1 77.8,41.2 59.4,44.8 53.8,46.2 48.6,48.3 43.8,51.1 38.2,55.4 36.8,56.8 35.7,58.2 35.0,59.6 34.6,61.1 34.5,62.5 34.6,63.9 35.1,65.3 35.9,66.7 36.8,67.7 39.3,69.6 46.7,72.7 49.5,74.3 50.8,75.3 52.2,76.7 55.2,80.3Z"/><path fill="#69acde" fill-rule="evenodd" d="M53.2,66.7 56.6,67.2 60.8,66.9 63.7,66.2 65.1,65.6 67.5,63.9 68.7,62.5 69.6,61.1 70.6,58.2 70.7,55.4 70.3,54.0 69.4,52.5 67.6,51.1 65.1,50.2 62.3,49.7 59.4,49.7 56.6,50.0 53.8,50.9 50.9,52.3 48.7,54.0 47.3,55.4 46.4,56.8 45.8,58.2 45.6,59.6 45.6,61.1 46.1,62.5 47.2,63.9 49.1,65.3 50.9,66.1Z"/><path fill="#468ac8" fill-rule="evenodd" d="M56.0,58.2 56.6,58.7 58.0,58.8 58.8,58.2 58.3,56.8 58.0,56.7 56.6,56.8Z"/></g>
<rect x="57.4" y="30.4" width="13.3" height="14.2" fill="#fff"/><rect x="59.4" y="21.3" width="4.5" height="9.1" fill="#fff"/><rect x="34.8" y="36.9" width="11.0" height="5.1" fill="#fff"/><rect x="163.6" y="67.0" width="13.6" height="8.2" fill="#fff"/><rect x="167.0" y="64.8" width="6.5" height="2.3" fill="#fff"/><rect x="83.5" y="23.3" width="10.8" height="5.7" fill="#fff"/>
<use href="#coast"/>
<path d="M51.6,3.7h0M63.0,3.7h0M74.3,3.7h0M85.6,3.7h0M96.9,3.7h0M176.2,3.7h0M46.0,9.4h0M57.3,9.4h0M68.6,9.4h0M79.9,9.4h0M91.3,9.4h0M159.2,9.4h0M170.5,9.4h0M181.8,9.4h0M193.1,9.4h0M40.3,15.1h0M51.6,15.1h0M74.3,15.1h0M85.6,15.1h0M96.9,15.1h0M153.5,15.1h0M164.8,15.1h0M176.2,15.1h0M187.5,15.1h0M23.3,20.7h0M34.7,20.7h0M46.0,20.7h0M68.6,20.7h0M79.9,20.7h0M91.3,20.7h0M159.2,20.7h0M170.5,20.7h0M181.8,20.7h0M193.1,20.7h0M17.7,26.4h0M29.0,26.4h0M40.3,26.4h0M74.3,26.4h0M96.9,26.4h0M153.5,26.4h0M164.8,26.4h0M176.2,26.4h0M187.5,26.4h0M23.3,32.1h0M34.7,32.1h0M46.0,32.1h0M79.9,32.1h0M91.3,32.1h0M102.6,32.1h0M159.2,32.1h0M170.5,32.1h0M181.8,32.1h0M193.1,32.1h0M74.3,37.8h0M85.6,37.8h0M96.9,37.8h0M108.2,37.8h0M153.5,37.8h0M164.8,37.8h0M176.2,37.8h0M187.5,37.8h0M57.3,43.5h0M79.9,43.5h0M91.3,43.5h0M102.6,43.5h0M159.2,43.5h0M170.5,43.5h0M181.8,43.5h0M193.1,43.5h0M17.7,49.1h0M29.0,49.1h0M40.3,49.1h0M51.6,49.1h0M63.0,49.1h0M74.3,49.1h0M85.6,49.1h0M96.9,49.1h0M108.2,49.1h0M164.8,49.1h0M176.2,49.1h0M187.5,49.1h0M12.0,54.8h0M23.3,54.8h0M34.7,54.8h0M46.0,54.8h0M57.3,54.8h0M68.6,54.8h0M79.9,54.8h0M91.3,54.8h0M102.6,54.8h0M159.2,54.8h0M170.5,54.8h0M181.8,54.8h0M193.1,54.8h0M6.4,60.5h0M17.7,60.5h0M29.0,60.5h0M40.3,60.5h0M51.6,60.5h0M63.0,60.5h0M74.3,60.5h0M85.6,60.5h0M96.9,60.5h0M108.2,60.5h0M164.8,60.5h0M176.2,60.5h0M187.5,60.5h0M12.0,66.2h0M23.3,66.2h0M34.7,66.2h0M46.0,66.2h0M57.3,66.2h0M68.6,66.2h0M79.9,66.2h0M91.3,66.2h0M181.8,66.2h0M193.1,66.2h0M17.7,71.9h0M29.0,71.9h0M51.6,71.9h0M63.0,71.9h0M74.3,71.9h0M187.5,71.9h0M34.7,77.5h0M57.3,77.5h0M68.6,77.5h0M170.5,77.5h0M181.8,77.5h0M193.1,77.5h0M63.0,83.2h0M85.6,83.2h0M96.9,83.2h0M164.8,83.2h0M176.2,83.2h0M187.5,83.2h0M79.9,88.9h0M91.3,88.9h0M170.5,88.9h0M181.8,88.9h0M193.1,88.9h0M176.2,94.6h0M187.5,94.6h0" stroke="#000" stroke-width="3.4" stroke-linecap="round" fill="none"/>
</g>
<rect x="0" y="0" width="198.1" height="142.0" fill="none" stroke="#000" stroke-width="1.1"/>
<path d="M-5.2,142.0h5.2M-5.2,113.6h5.2M-5.2,85.2h5.2M-5.2,56.8h5.2M-5.2,28.4h5.2M-5.2,0.0h5.2M0.0,142.0v5.2M56.6,142.0v5.2M113.2,142.0v5.2M169.8,142.0v5.2" stroke="#000" stroke-width="1" fill="none"/>
<path d="M-2.8,136.3h2.8M-2.8,130.6h2.8M-2.8,125.0h2.8M-2.8,119.3h2.8M-2.8,107.9h2.8M-2.8,102.2h2.8M-2.8,96.6h2.8M-2.8,90.9h2.8M-2.8,79.5h2.8M-2.8,73.8h2.8M-2.8,68.2h2.8M-2.8,62.5h2.8M-2.8,51.1h2.8M-2.8,45.4h2.8M-2.8,39.8h2.8M-2.8,34.1h2.8M-2.8,22.7h2.8M-2.8,17.0h2.8M-2.8,11.4h2.8M-2.8,5.7h2.8M14.2,142.0v2.8M28.3,142.0v2.8M42.5,142.0v2.8M70.8,142.0v2.8M84.9,142.0v2.8M99.0,142.0v2.8M127.4,142.0v2.8M141.5,142.0v2.8M155.7,142.0v2.8M184.0,142.0v2.8M198.1,142.0v2.8" stroke="#222" stroke-width="0.7" fill="none"/>
<text x="-12.5" y="146.5" font-size="12" text-anchor="end">20N</text>
<text x="-12.5" y="118.1" font-size="12" text-anchor="end">30N</text>
<text x="-12.5" y="89.7" font-size="12" text-anchor="end">40N</text>
<text x="-12.5" y="61.3" font-size="12" text-anchor="end">50N</text>
<text x="-12.5" y="32.9" font-size="12" text-anchor="end">60N</text>
<text x="-12.5" y="4.5" font-size="12" text-anchor="end">70N</text>
<text x="0.0" y="164.3" font-size="12" text-anchor="middle">0</text>
<text x="56.6" y="164.3" font-size="12" text-anchor="middle">20E</text>
<text x="113.2" y="164.3" font-size="12" text-anchor="middle">40E</text>
<text x="169.8" y="164.3" font-size="12" text-anchor="middle">60E</text>
<text x="-1.1" y="-9.2" font-size="11.6">(i) EOF3 (JRA55 LST)</text>
<text x="197.1" y="-7.9" font-size="11.6" text-anchor="end">8.8%</text>
</g>
 <text x="170" y="15.3" font-size="20.4" text-anchor="middle">Observation</text>
<text x="509.5" y="15.3" font-size="20.4" text-anchor="middle">Reanalysis</text>
<text x="871.3" y="19.4" font-size="20.6" text-anchor="middle">Time Series</text>
<rect x="118.20" y="638.0" width="19.47" height="16.8" fill="#1e285f" stroke="#000" stroke-width="0.7"/>
<rect x="137.67" y="638.0" width="19.47" height="16.8" fill="#213e82" stroke="#000" stroke-width="0.7"/>
<rect x="157.14" y="638.0" width="19.47" height="16.8" fill="#2453a0" stroke="#000" stroke-width="0.7"/>
<rect x="176.61" y="638.0" width="19.47" height="16.8" fill="#346fb6" stroke="#000" stroke-width="0.7"/>
<rect x="196.08" y="638.0" width="19.47" height="16.8" fill="#468ac8" stroke="#000" stroke-width="0.7"/>
<rect x="215.55" y="638.0" width="19.47" height="16.8" fill="#69acde" stroke="#000" stroke-width="0.7"/>
<rect x="235.02" y="638.0" width="19.47" height="16.8" fill="#82c4e8" stroke="#000" stroke-width="0.7"/>
<rect x="254.48" y="638.0" width="19.47" height="16.8" fill="#a5daf5" stroke="#000" stroke-width="0.7"/>
<rect x="273.95" y="638.0" width="19.47" height="16.8" fill="#b9e4f8" stroke="#000" stroke-width="0.7"/>
<rect x="293.42" y="638.0" width="19.47" height="16.8" fill="#d4ecfa" stroke="#000" stroke-width="0.7"/>
<rect x="312.89" y="638.0" width="19.47" height="16.8" fill="#e5f5fd" stroke="#000" stroke-width="0.7"/>
<rect x="332.36" y="638.0" width="19.47" height="16.8" fill="#f6fbfe" stroke="#000" stroke-width="0.7"/>
<rect x="351.83" y="638.0" width="19.47" height="16.8" fill="#ffffff" stroke="#000" stroke-width="0.7"/>
<rect x="371.30" y="638.0" width="19.47" height="16.8" fill="#ffffff" stroke="#000" stroke-width="0.7"/>
<rect x="390.77" y="638.0" width="19.47" height="16.8" fill="#fffcea" stroke="#000" stroke-width="0.7"/>
<rect x="410.24" y="638.0" width="19.47" height="16.8" fill="#fff3c6" stroke="#000" stroke-width="0.7"/>
<rect x="429.71" y="638.0" width="19.47" height="16.8" fill="#fbe794" stroke="#000" stroke-width="0.7"/>
<rect x="449.18" y="638.0" width="19.47" height="16.8" fill="#fdd06e" stroke="#000" stroke-width="0.7"/>
<rect x="468.65" y="638.0" width="19.47" height="16.8" fill="#feb945" stroke="#000" stroke-width="0.7"/>
<rect x="488.12" y="638.0" width="19.47" height="16.8" fill="#fc972d" stroke="#000" stroke-width="0.7"/>
<rect x="507.58" y="638.0" width="19.47" height="16.8" fill="#f77f2d" stroke="#000" stroke-width="0.7"/>
<rect x="527.05" y="638.0" width="19.47" height="16.8" fill="#ee5a2d" stroke="#000" stroke-width="0.7"/>
<rect x="546.52" y="638.0" width="19.47" height="16.8" fill="#de3a2b" stroke="#000" stroke-width="0.7"/>
<rect x="565.99" y="638.0" width="19.47" height="16.8" fill="#cb1e2a" stroke="#000" stroke-width="0.7"/>
<rect x="585.46" y="638.0" width="19.47" height="16.8" fill="#b01a22" stroke="#000" stroke-width="0.7"/>
<rect x="604.93" y="638.0" width="19.47" height="16.8" fill="#8b161b" stroke="#000" stroke-width="0.7"/>
<text x="137.7" y="668.9" font-size="12" text-anchor="middle">-1.2</text>
<text x="176.6" y="668.9" font-size="12" text-anchor="middle">-1</text>
<text x="215.5" y="668.9" font-size="12" text-anchor="middle">-0.8</text>
<text x="254.5" y="668.9" font-size="12" text-anchor="middle">-0.6</text>
<text x="293.4" y="668.9" font-size="12" text-anchor="middle">-0.4</text>
<text x="332.4" y="668.9" font-size="12" text-anchor="middle">-0.2</text>
<text x="371.3" y="668.9" font-size="12" text-anchor="middle">0</text>
<text x="410.2" y="668.9" font-size="12" text-anchor="middle">0.2</text>
<text x="449.2" y="668.9" font-size="12" text-anchor="middle">0.4</text>
<text x="488.1" y="668.9" font-size="12" text-anchor="middle">0.6</text>
<text x="527.1" y="668.9" font-size="12" text-anchor="middle">0.8</text>
<text x="566.0" y="668.9" font-size="12" text-anchor="middle">1</text>
<text x="604.9" y="668.9" font-size="12" text-anchor="middle">1.2</text>
<g><path d="M790.9,121.4H994.0" stroke="#555" stroke-width="0.8"/><path d="M790.6,130.5 794.0,114.2 797.5,139.5 800.9,95.2 804.4,91.5 807.8,136.8 811.2,150.4 814.7,126.8 818.1,111.4 821.6,81.6 825.0,108.7 828.4,157.6 831.9,110.5 835.3,139.5 838.8,130.5 842.2,101.5 845.6,114.2 849.1,83.4 852.5,136.8 856.0,92.1 859.4,132.3 862.8,125.0 866.3,143.1 869.7,143.1 873.2,126.8 876.6,106.9 880.0,121.4 883.5,140.9 886.9,117.8 890.4,151.3 893.8,120.5 897.2,106.0 900.7,99.7 904.1,119.6 907.6,137.7 911.0,133.2 914.4,128.6 917.9,96.1 921.3,148.6 924.8,126.8 928.2,147.6 931.6,139.5 935.1,106.9 938.5,106.9 942.0,119.6 945.4,139.5 948.8,128.6 952.3,129.5 955.7,122.3 959.2,110.5 962.6,107.8 966.0,131.4 969.5,119.6 972.9,123.2 976.4,108.7 979.8,133.2 983.2,106.6 986.7,112.4 990.1,103.3 993.6,130.5" fill="none" stroke="#000000" stroke-width="1.5" stroke-linejoin="round" clip-path="url(#tsclip0)"/><path d="M790.6,151.8 794.0,117.8 797.5,144.9 800.9,109.6 804.4,110.5 807.8,144.4 811.2,146.7 814.7,128.6 818.1,116.0 821.6,85.2 825.0,110.5 828.4,163.0 831.9,116.0 835.3,145.8 838.8,132.3 842.2,104.2 845.6,109.6 849.1,74.7 852.5,132.3 856.0,97.9 859.4,137.7 862.8,113.3 866.3,126.8 869.7,129.9 873.2,114.2 876.6,95.2 880.0,109.6 883.5,121.4 886.9,100.6 890.4,136.8 893.8,116.0 897.2,96.1 900.7,93.0 904.1,106.9 907.6,116.0 911.0,121.4 914.4,117.8 917.9,90.3 921.3,151.3 924.8,117.8 928.2,144.9 931.6,150.4 935.1,115.1 938.5,117.8 942.0,126.8 945.4,139.5 948.8,136.8 952.3,134.1 955.7,135.0 959.2,113.3 962.6,116.9 966.0,135.9 969.5,125.0 972.9,125.9 976.4,110.5 979.8,141.3 983.2,110.5 986.7,116.0 990.1,106.0 993.6,133.2" fill="none" stroke="#1f4fa8" stroke-width="1.5" stroke-linejoin="round" clip-path="url(#tsclip0)"/><path d="M790.6,126.8 794.0,98.2 797.5,138.2 800.9,92.4 804.4,93.0 807.8,135.3 811.2,139.5 814.7,126.3 818.1,109.6 821.6,87.0 825.0,108.2 828.4,156.3 831.9,108.7 835.3,138.2 838.8,129.2 842.2,107.3 845.6,120.1 849.1,84.7 852.5,137.7 856.0,96.1 859.4,133.0 862.8,128.6 866.3,143.7 869.7,142.8 873.2,127.7 876.6,108.7 880.0,122.5 883.5,139.5 886.9,124.7 890.4,160.9 893.8,121.4 897.2,107.3 900.7,101.5 904.1,121.4 907.6,140.4 911.0,135.3 914.4,129.9 917.9,96.8 921.3,148.0 924.8,126.3 928.2,148.0 931.6,138.2 935.1,99.5 938.5,104.0 942.0,123.2 945.4,140.6 948.8,125.0 952.3,124.1 955.7,118.1 959.2,103.3 962.6,95.7 966.0,130.1 969.5,116.0 972.9,120.5 976.4,107.6 979.8,131.7 983.2,107.6 986.7,112.4 990.1,95.0 993.6,130.5" fill="none" stroke="#e5311f" stroke-width="1.5" stroke-linejoin="round" clip-path="url(#tsclip0)"/><clipPath id="tsclip0"><rect x="790.9" y="49.0" width="203.1" height="144.8"/></clipPath><rect x="790.9" y="49.0" width="203.1" height="144.8" fill="none" stroke="#2a2a2a" stroke-width="1.4"/><path d="M786.0,49.0h4.9M786.0,85.2h4.9M786.0,121.4h4.9M786.0,157.6h4.9M786.0,193.8h4.9M797.5,193.8v4.7M831.9,193.8v4.7M866.3,193.8v4.7M900.7,193.8v4.7M935.1,193.8v4.7M969.5,193.8v4.7" stroke="#222" stroke-width="1" fill="none"/><path d="M788.3,58.0h2.6M788.3,67.1h2.6M788.3,76.2h2.6M788.3,94.2h2.6M788.3,103.3h2.6M788.3,112.4h2.6M788.3,130.4h2.6M788.3,139.5h2.6M788.3,148.6h2.6M788.3,166.7h2.6M788.3,175.7h2.6M788.3,184.8h2.6M790.6,193.8v2.5M804.4,193.8v2.5M811.2,193.8v2.5M818.1,193.8v2.5M825.0,193.8v2.5M838.8,193.8v2.5M845.6,193.8v2.5M852.5,193.8v2.5M859.4,193.8v2.5M873.2,193.8v2.5M880.0,193.8v2.5M886.9,193.8v2.5M893.8,193.8v2.5M907.6,193.8v2.5M914.4,193.8v2.5M921.3,193.8v2.5M928.2,193.8v2.5M942.0,193.8v2.5M948.8,193.8v2.5M955.7,193.8v2.5M962.6,193.8v2.5M976.4,193.8v2.5M983.2,193.8v2.5M990.1,193.8v2.5" stroke="#666" stroke-width="0.6" fill="none"/><text x="778.2" y="52.9" font-size="11.4" text-anchor="end">4.0</text><text x="778.2" y="89.1" font-size="11.4" text-anchor="end">2.0</text><text x="778.2" y="125.3" font-size="11.4" text-anchor="end">0.0</text><text x="778.2" y="161.5" font-size="11.4" text-anchor="end">-2.0</text><text x="778.2" y="197.7" font-size="11.4" text-anchor="end">-4.0</text><text x="797.5" y="215.3" font-size="11.4" text-anchor="middle">1960</text><text x="831.9" y="215.3" font-size="11.4" text-anchor="middle">1970</text><text x="866.3" y="215.3" font-size="11.4" text-anchor="middle">1980</text><text x="900.7" y="215.3" font-size="11.4" text-anchor="middle">1990</text><text x="935.1" y="215.3" font-size="11.4" text-anchor="middle">2000</text><text x="969.5" y="215.3" font-size="11.4" text-anchor="middle">2010</text><text x="790.4" y="41.6" font-size="11.4">(j) PC1</text></g><g><path d="M790.9,322.2H994.0" stroke="#555" stroke-width="0.8"/><path d="M790.6,282.4 794.0,329.4 797.5,346.1 800.9,324.0 804.4,296.1 807.8,318.9 811.2,317.3 814.7,322.2 818.1,303.0 821.6,355.1 825.0,318.6 828.4,305.9 831.9,300.7 835.3,303.7 838.8,337.0 842.2,328.0 845.6,323.5 849.1,324.0 852.5,359.7 856.0,303.0 859.4,309.9 862.8,317.3 866.3,314.1 869.7,308.6 873.2,335.4 876.6,337.8 880.0,324.9 883.5,324.9 886.9,341.6 890.4,334.9 893.8,318.9 897.2,345.4 900.7,332.5 904.1,331.8 907.6,365.6 911.0,345.7 914.4,330.2 917.9,335.4 921.3,337.8 924.8,337.8 928.2,316.8 931.6,312.2 935.1,319.3 938.5,284.2 942.0,318.6 945.4,342.5 948.8,309.5 952.3,308.1 955.7,293.8 959.2,337.9 962.6,277.3 966.0,325.8 969.5,304.1 972.9,332.0 976.4,329.4 979.8,291.4 983.2,325.8 986.7,339.6 990.1,314.1 993.6,316.8" fill="none" stroke="#000000" stroke-width="1.5" stroke-linejoin="round" clip-path="url(#tsclip1)"/><path d="M790.6,284.2 794.0,318.9 797.5,340.3 800.9,318.6 804.4,300.7 807.8,330.9 811.2,317.3 814.7,329.4 818.1,309.9 821.6,350.6 825.0,316.8 828.4,307.7 831.9,300.7 835.3,309.9 838.8,347.5 842.2,334.0 845.6,324.9 849.1,321.1 852.5,358.4 856.0,304.5 859.4,319.7 862.8,314.4 866.3,309.0 869.7,307.5 873.2,321.1 876.6,321.1 880.0,317.3 883.5,318.0 886.9,327.3 890.4,330.2 893.8,311.7 897.2,328.0 900.7,317.3 904.1,324.0 907.6,362.0 911.0,341.6 914.4,324.0 917.9,340.3 921.3,350.6 924.8,360.2 928.2,332.2 931.6,329.4 935.1,321.5 938.5,290.0 942.0,322.2 945.4,355.3 948.8,315.5 952.3,321.5 955.7,300.5 959.2,329.8 962.6,280.6 966.0,334.3 969.5,290.7 972.9,341.7 976.4,331.3 979.8,296.9 983.2,323.8 986.7,332.0 990.1,294.5 993.6,317.0" fill="none" stroke="#1f4fa8" stroke-width="1.5" stroke-linejoin="round" clip-path="url(#tsclip1)"/><path d="M790.6,283.3 794.0,308.3 797.5,324.0 800.9,317.3 804.4,308.3 807.8,315.9 811.2,301.6 814.7,317.3 818.1,313.5 821.6,349.2 825.0,317.3 828.4,296.1 831.9,303.7 835.3,309.0 838.8,357.5 842.2,329.4 845.6,335.4 849.1,345.4 852.5,361.1 856.0,315.9 859.4,313.5 862.8,318.0 866.3,315.0 869.7,309.0 873.2,345.4 876.6,346.5 880.0,318.0 883.5,315.9 886.9,338.5 890.4,320.4 893.8,315.9 897.2,332.5 900.7,327.3 904.1,335.4 907.6,368.0 911.0,344.6 914.4,320.4 917.9,352.1 921.3,333.1 924.8,356.6 928.2,322.2 931.6,305.9 935.1,305.0 938.5,296.9 942.0,318.6 945.4,331.3 948.8,308.8 952.3,312.6 955.7,298.3 959.2,327.6 962.6,284.7 966.0,325.3 969.5,299.0 972.9,327.6 976.4,329.8 979.8,308.8 983.2,324.6 986.7,325.8 990.1,314.1 993.6,316.2" fill="none" stroke="#e5311f" stroke-width="1.5" stroke-linejoin="round" clip-path="url(#tsclip1)"/><clipPath id="tsclip1"><rect x="790.9" y="249.8" width="203.1" height="144.8"/></clipPath><rect x="790.9" y="249.8" width="203.1" height="144.8" fill="none" stroke="#2a2a2a" stroke-width="1.4"/><path d="M786.0,249.8h4.9M786.0,286.0h4.9M786.0,322.2h4.9M786.0,358.4h4.9M786.0,394.6h4.9M797.5,394.6v4.7M831.9,394.6v4.7M866.3,394.6v4.7M900.7,394.6v4.7M935.1,394.6v4.7M969.5,394.6v4.7" stroke="#222" stroke-width="1" fill="none"/><path d="M788.3,258.9h2.6M788.3,267.9h2.6M788.3,276.9h2.6M788.3,295.1h2.6M788.3,304.1h2.6M788.3,313.2h2.6M788.3,331.2h2.6M788.3,340.3h2.6M788.3,349.4h2.6M788.3,367.5h2.6M788.3,376.5h2.6M788.3,385.6h2.6M790.6,394.6v2.5M804.4,394.6v2.5M811.2,394.6v2.5M818.1,394.6v2.5M825.0,394.6v2.5M838.8,394.6v2.5M845.6,394.6v2.5M852.5,394.6v2.5M859.4,394.6v2.5M873.2,394.6v2.5M880.0,394.6v2.5M886.9,394.6v2.5M893.8,394.6v2.5M907.6,394.6v2.5M914.4,394.6v2.5M921.3,394.6v2.5M928.2,394.6v2.5M942.0,394.6v2.5M948.8,394.6v2.5M955.7,394.6v2.5M962.6,394.6v2.5M976.4,394.6v2.5M983.2,394.6v2.5M990.1,394.6v2.5" stroke="#666" stroke-width="0.6" fill="none"/><text x="778.2" y="253.7" font-size="11.4" text-anchor="end">4.0</text><text x="778.2" y="289.9" font-size="11.4" text-anchor="end">2.0</text><text x="778.2" y="326.1" font-size="11.4" text-anchor="end">0.0</text><text x="778.2" y="362.3" font-size="11.4" text-anchor="end">-2.0</text><text x="778.2" y="398.5" font-size="11.4" text-anchor="end">-4.0</text><text x="797.5" y="416.1" font-size="11.4" text-anchor="middle">1960</text><text x="831.9" y="416.1" font-size="11.4" text-anchor="middle">1970</text><text x="866.3" y="416.1" font-size="11.4" text-anchor="middle">1980</text><text x="900.7" y="416.1" font-size="11.4" text-anchor="middle">1990</text><text x="935.1" y="416.1" font-size="11.4" text-anchor="middle">2000</text><text x="969.5" y="416.1" font-size="11.4" text-anchor="middle">2010</text><text x="790.4" y="242.4" font-size="11.4">(k) PC2</text></g><g><path d="M790.9,523.0H994.0" stroke="#999" stroke-width="1.3"/><path d="M790.6,526.6 794.0,540.2 797.5,554.7 800.9,527.5 804.4,497.7 807.8,519.4 811.2,534.8 814.7,489.7 818.1,534.8 821.6,510.9 825.0,530.2 828.4,535.7 831.9,514.0 835.3,527.5 838.8,540.4 842.2,513.2 845.6,510.9 849.1,533.9 852.5,500.4 856.0,505.6 859.4,528.4 862.8,538.2 866.3,488.6 869.7,532.0 873.2,512.1 876.6,542.9 880.0,526.6 883.5,523.0 886.9,532.0 890.4,474.7 893.8,519.4 897.2,559.2 900.7,533.0 904.1,501.1 907.6,527.5 911.0,530.6 914.4,530.2 917.9,489.5 921.3,514.0 924.8,477.8 928.2,530.2 931.6,555.9 935.1,521.2 938.5,512.1 942.0,546.5 945.4,524.8 948.8,525.7 952.3,504.9 955.7,504.9 959.2,546.5 962.6,523.0 966.0,531.7 969.5,528.4 972.9,515.9 976.4,521.9 979.8,521.9 983.2,541.1 986.7,514.9 990.1,526.4 993.6,526.6" fill="none" stroke="#000000" stroke-width="1.5" stroke-linejoin="round" clip-path="url(#tsclip2)"/><path d="M790.6,528.4 794.0,544.7 797.5,562.8 800.9,530.2 804.4,505.6 807.8,519.4 811.2,535.3 814.7,505.6 818.1,535.7 821.6,523.9 825.0,532.0 828.4,537.5 831.9,517.6 835.3,528.4 838.8,538.9 842.2,514.0 845.6,507.1 849.1,532.0 852.5,503.3 856.0,498.6 859.4,509.4 862.8,536.6 866.3,488.6 869.7,530.2 873.2,514.0 876.6,539.3 880.0,522.3 883.5,521.2 886.9,532.0 890.4,481.4 893.8,521.2 897.2,557.4 900.7,532.0 904.1,504.9 907.6,530.2 911.0,531.1 914.4,530.2 917.9,491.3 921.3,512.1 924.8,472.3 928.2,528.4 931.6,549.2 935.1,506.3 938.5,506.5 942.0,546.5 945.4,524.8 948.8,519.0 952.3,498.7 955.7,494.2 959.2,553.4 962.6,519.0 966.0,532.4 969.5,528.8 972.9,530.2 976.4,509.2 979.8,504.9 983.2,553.4 986.7,542.9 990.1,542.2 993.6,546.5" fill="none" stroke="#1f4fa8" stroke-width="1.5" stroke-linejoin="round" clip-path="url(#tsclip2)"/><path d="M790.6,525.2 794.0,538.2 797.5,553.2 800.9,526.1 804.4,491.3 807.8,517.0 811.2,533.5 814.7,492.8 818.1,535.1 821.6,517.8 825.0,531.3 828.4,535.1 831.9,507.8 835.3,527.5 838.8,553.2 842.2,518.5 845.6,516.1 849.1,535.1 852.5,510.9 856.0,508.7 859.4,529.9 862.8,543.5 866.3,486.8 869.7,527.5 873.2,510.9 876.6,544.2 880.0,526.6 883.5,523.7 886.9,532.8 890.4,477.8 893.8,519.9 897.2,560.8 900.7,533.5 904.1,505.6 907.6,535.1 911.0,532.0 914.4,530.6 917.9,492.0 921.3,514.7 924.8,476.8 928.2,530.6 931.6,551.4 935.1,519.0 938.5,510.0 942.0,547.4 945.4,525.7 948.8,526.4 952.3,504.0 955.7,504.9 959.2,547.4 962.6,521.2 966.0,533.9 969.5,526.4 972.9,512.1 976.4,518.1 979.8,521.2 983.2,541.5 986.7,514.0 990.1,533.9 993.6,531.0" fill="none" stroke="#e5311f" stroke-width="1.5" stroke-linejoin="round" clip-path="url(#tsclip2)"/><clipPath id="tsclip2"><rect x="790.9" y="450.6" width="203.1" height="144.8"/></clipPath><rect x="790.9" y="450.6" width="203.1" height="144.8" fill="none" stroke="#2a2a2a" stroke-width="1.4"/><path d="M786.0,450.6h4.9M786.0,486.8h4.9M786.0,523.0h4.9M786.0,559.2h4.9M786.0,595.4h4.9M797.5,595.4v4.7M831.9,595.4v4.7M866.3,595.4v4.7M900.7,595.4v4.7M935.1,595.4v4.7M969.5,595.4v4.7" stroke="#222" stroke-width="1" fill="none"/><path d="M788.3,459.7h2.6M788.3,468.7h2.6M788.3,477.8h2.6M788.3,495.9h2.6M788.3,504.9h2.6M788.3,514.0h2.6M788.3,532.1h2.6M788.3,541.1h2.6M788.3,550.2h2.6M788.3,568.2h2.6M788.3,577.3h2.6M788.3,586.4h2.6M790.6,595.4v2.5M804.4,595.4v2.5M811.2,595.4v2.5M818.1,595.4v2.5M825.0,595.4v2.5M838.8,595.4v2.5M845.6,595.4v2.5M852.5,595.4v2.5M859.4,595.4v2.5M873.2,595.4v2.5M880.0,595.4v2.5M886.9,595.4v2.5M893.8,595.4v2.5M907.6,595.4v2.5M914.4,595.4v2.5M921.3,595.4v2.5M928.2,595.4v2.5M942.0,595.4v2.5M948.8,595.4v2.5M955.7,595.4v2.5M962.6,595.4v2.5M976.4,595.4v2.5M983.2,595.4v2.5M990.1,595.4v2.5" stroke="#666" stroke-width="0.6" fill="none"/><text x="778.2" y="454.5" font-size="11.4" text-anchor="end">4.0</text><text x="778.2" y="490.7" font-size="11.4" text-anchor="end">2.0</text><text x="778.2" y="526.9" font-size="11.4" text-anchor="end">0.0</text><text x="778.2" y="563.1" font-size="11.4" text-anchor="end">-2.0</text><text x="778.2" y="599.3" font-size="11.4" text-anchor="end">-4.0</text><text x="797.5" y="616.9" font-size="11.4" text-anchor="middle">1960</text><text x="831.9" y="616.9" font-size="11.4" text-anchor="middle">1970</text><text x="866.3" y="616.9" font-size="11.4" text-anchor="middle">1980</text><text x="900.7" y="616.9" font-size="11.4" text-anchor="middle">1990</text><text x="935.1" y="616.9" font-size="11.4" text-anchor="middle">2000</text><text x="969.5" y="616.9" font-size="11.4" text-anchor="middle">2010</text><text x="790.4" y="443.2" font-size="11.4">(l) PC3</text></g><path d="M900.7,63.5H925.4" stroke="#000000" stroke-width="1.15"/><text x="934.8" y="66.7" font-size="9.5">CRU</text><path d="M900.7,72.6H925.4" stroke="#1f4fa8" stroke-width="1.15"/><text x="934.8" y="75.8" font-size="9.5">NCEP</text><path d="M900.7,81.7H925.4" stroke="#e5311f" stroke-width="1.15"/><text x="934.8" y="85.0" font-size="9.5">JRA55</text>
</svg></body></html>
